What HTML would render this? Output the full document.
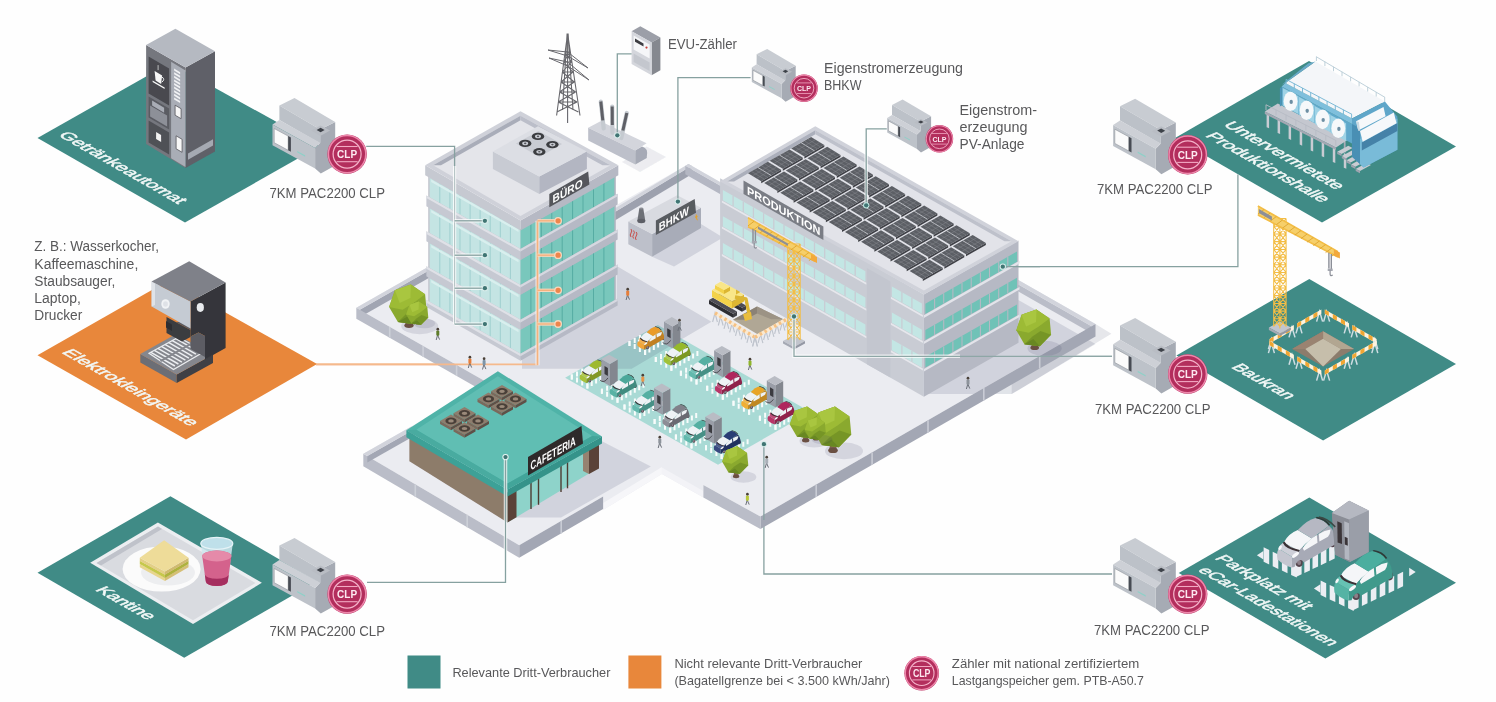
<!DOCTYPE html>
<html lang="de"><head><meta charset="utf-8"><title>Energiemonitoring Dritt-Verbraucher</title>
<style>
html,body{margin:0;padding:0;background:#fefefe;}
body{width:1496px;height:702px;overflow:hidden;}
svg{display:block;font-family:"Liberation Sans",sans-serif;}
</style></head><body>
<svg width="1496" height="702" viewBox="0 0 1496 702">
<defs><filter id="soft" x="-2%" y="-2%" width="104%" height="104%"><feGaussianBlur stdDeviation="0.55"/></filter></defs>
<rect width="1496" height="702" fill="#fefefe"/>
<g filter="url(#soft)">
<polygon points="37.5,138.0 170.0,63.0 320.0,146.0 185.0,222.5" fill="#3f8b86" />
<polygon points="37.5,355.3 168.5,280.5 317.1,364.1 186.0,439.5" fill="#e8873a" />
<polygon points="37.5,572.8 170.4,496.3 317.1,581.2 184.2,657.7" fill="#3f8b86" />
<polygon points="1175.0,138.0 1309.0,61.0 1456.0,146.5 1322.0,222.5" fill="#3f8b86" />
<polygon points="1176.4,355.4 1309.3,279.0 1456.0,364.0 1323.1,440.4" fill="#3f8b86" />
<polygon points="1178.7,573.1 1309.3,497.5 1456.0,582.8 1325.4,658.4" fill="#3f8b86" />
<text transform="matrix(0.868,0.495,-1.021,0.408,57.5,135.3)" font-size="15.5" fill="#f1f7f6" stroke="#f1f7f6" stroke-width="0.55" textLength="139" lengthAdjust="spacingAndGlyphs" >Getränkeautomat</text>
<text transform="matrix(0.868,0.495,-1.021,0.408,61,352.5)" font-size="15.5" fill="#f1f7f6" stroke="#f1f7f6" stroke-width="0.55" textLength="149" lengthAdjust="spacingAndGlyphs" >Elektrokleingeräte</text>
<text transform="matrix(0.868,0.495,-1.021,0.408,94.5,590)" font-size="15.5" fill="#f1f7f6" stroke="#f1f7f6" stroke-width="0.55" textLength="61" lengthAdjust="spacingAndGlyphs" >Kantine</text>
<text transform="matrix(0.868,0.495,-1.021,0.408,1222.5,125)" font-size="15.5" fill="#f1f7f6" stroke="#f1f7f6" stroke-width="0.55" textLength="131" lengthAdjust="spacingAndGlyphs" >Untervermietete</text>
<text transform="matrix(0.868,0.495,-1.021,0.408,1204.5,136)" font-size="15.5" fill="#f1f7f6" stroke="#f1f7f6" stroke-width="0.55" textLength="135" lengthAdjust="spacingAndGlyphs" >Produktionshalle</text>
<text transform="matrix(0.868,0.495,-1.021,0.408,1230.5,367.3)" font-size="15.5" fill="#f1f7f6" stroke="#f1f7f6" stroke-width="0.55" textLength="65" lengthAdjust="spacingAndGlyphs" >Baukran</text>
<text transform="matrix(0.868,0.495,-1.021,0.408,1214,558.5)" font-size="15.5" fill="#f1f7f6" stroke="#f1f7f6" stroke-width="0.55" textLength="104" lengthAdjust="spacingAndGlyphs" >Parkplatz mit</text>
<text transform="matrix(0.868,0.495,-1.021,0.408,1197,570.5)" font-size="15.5" fill="#f1f7f6" stroke="#f1f7f6" stroke-width="0.55" textLength="153" lengthAdjust="spacingAndGlyphs" >eCar-Ladestationen</text>
<polyline points="1002.8,266.7 1237.9,266.7 1237.9,174.6" fill="none" stroke="#86a1a0" stroke-width="1.3" />
<polyline points="763.9,444.2 763.9,574.0 1112.0,574.0" fill="none" stroke="#86a1a0" stroke-width="1.3" />
<polyline points="367.0,582.4 505.5,582.4 505.5,520.0" fill="none" stroke="#86a1a0" stroke-width="1.3" />
<polyline points="1112.0,356.3 1000.0,356.3" fill="none" stroke="#86a1a0" stroke-width="1.3" />
<polyline points="316.0,364.3 537.5,364.3" fill="none" stroke="#f5b98c" stroke-width="1.8" />
<path d="M567.6,33.5 L556.6,115.5 M567.6,33.5 L580,115.5 M567.6,33.5 L567.6,123 M567.1,33.5 L562.5,110 M568.1,33.5 L573,110M565.1,52 L571.5,62 M570.1,52 L563.7,62 M565.1,52 L570.1,52M563.7,62 L572.9,72 M571.5,62 L562.3,72 M563.7,62 L571.5,62M562.3,72 L574.2,82 M572.9,72 L561.0,82 M562.3,72 L572.9,72M561.0,82 L575.6,92 M574.2,82 L559.6,92 M561.0,82 L574.2,82M559.6,92 L577.0,102 M575.6,92 L558.2,102 M559.6,92 L575.6,92M558.2,102 L578.4,112 M577.0,102 L556.8,112 M558.2,102 L577.0,102" stroke="#68686d" stroke-width="1.1" fill="none"/>
<path d="M548,50 L567.6,56 L588,68 M549,58 L567.6,66 L589,80 M548,50 L567.6,52 L588,68 M549,58 L567.6,62 L589,80" stroke="#68686d" stroke-width="1.0" fill="none"/>
<polygon points="1095.5,323.9 1111.4,333.8 1011.7,394.1 1011.7,380.0" fill="#e6e7eb" />
<polygon points="356.3,307.8 500.0,225.9 539.9,248.7 688.5,164.0 800.0,227.6 863.2,191.6 1095.5,323.9 760.4,516.6 703.4,485.0 703.4,497.5 661.9,473.9 603.1,509.9 603.1,496.6 519.2,545.3 363.3,453.8 420.0,421.5 470.0,400.0 490.0,384.0" fill="#ebecf1" />
<polygon points="661.9,473.9 603.1,509.9 603.1,503.0 661.9,467.0" fill="#f6f6f9" />
<polygon points="661.9,473.9 703.4,497.5 703.4,491.0 661.9,467.5" fill="#f3f3f7" />
<polygon points="565.1,377.7 657.8,325.1 810.7,412.1 718.0,464.7" fill="#a9dad5" />
<polygon points="616.7,266.0 711.5,321.8 631.7,368.7 522.0,368.7 522.0,300.0 616.7,300.0" fill="#3c4166" fill-opacity="0.14"/>
<polygon points="1018.4,300.0 1095.5,344.0 1011.7,394.1 924.0,394.1 924.0,330.0" fill="#3c4166" fill-opacity="0.14"/>
<polygon points="701.0,224.0 723.0,237.5 674.0,266.5 652.1,256.8" fill="#3c4166" fill-opacity="0.14"/>
<polygon points="602.0,441.3 650.9,466.4 561.0,517.5 512.0,517.5 512.0,480.0" fill="#3c4166" fill-opacity="0.14"/>
<polygon points="646.6,146.6 666.0,157.0 640.0,172.0 622.0,162.0" fill="#3c4166" fill-opacity="0.09"/>
<polygon points="359.8,309.8 435.8,266.5 435.8,274.0 359.8,317.3" fill="#a1a5b2" />
<polygon points="356.3,307.8 432.3,264.5 435.8,266.5 359.8,309.8" fill="#d2d4dc" />
<polygon points="613.2,213.0 691.7,165.8 691.7,174.3 613.2,221.5" fill="#9da1ae" />
<polygon points="610.0,211.2 688.5,164.0 691.7,165.8 613.2,213.0" fill="#d2d4dc" />
<polygon points="685.3,165.8 720.8,186.0 720.8,194.5 685.3,174.3" fill="#b4b7c3" />
<polygon points="688.5,164.0 724.0,184.2 720.8,186.0 685.3,165.8" fill="#d2d4dc" />
<polygon points="1010.0,279.7 1091.5,326.2 1091.5,333.2 1010.0,286.7" fill="#babdc8" />
<polygon points="1014.0,277.4 1095.5,323.9 1091.5,326.2 1010.0,279.7" fill="#d2d4dc" />
<polygon points="356.3,307.8 490.0,384.0 490.0,395.0 356.3,318.8" fill="#babdc8" />
<line x1="389.7" y1="326.9" x2="389.7" y2="337.9" stroke="#cdd0d8" stroke-width="1.6"/>
<line x1="423.1" y1="345.9" x2="423.1" y2="356.9" stroke="#cdd0d8" stroke-width="1.6"/>
<line x1="456.6" y1="364.9" x2="456.6" y2="375.9" stroke="#cdd0d8" stroke-width="1.6"/>
<polygon points="1095.5,323.9 760.4,516.6 760.4,529.1 1095.5,336.4" fill="#a3a7b4" />
<line x1="1039.7" y1="356.0" x2="1039.7" y2="368.5" stroke="#c9ccd5" stroke-width="1.6"/>
<line x1="983.8" y1="388.1" x2="983.8" y2="400.6" stroke="#c9ccd5" stroke-width="1.6"/>
<line x1="928.0" y1="420.2" x2="928.0" y2="432.8" stroke="#c9ccd5" stroke-width="1.6"/>
<line x1="872.1" y1="452.4" x2="872.1" y2="464.9" stroke="#c9ccd5" stroke-width="1.6"/>
<line x1="816.2" y1="484.5" x2="816.2" y2="497.0" stroke="#c9ccd5" stroke-width="1.6"/>
<polygon points="760.4,516.6 703.4,485.0 703.4,497.5 760.4,529.1" fill="#babdc8" />
<polygon points="603.1,496.6 519.2,545.3 519.2,557.8 603.1,509.1" fill="#a3a7b4" />
<line x1="561.2" y1="521.0" x2="561.2" y2="533.5" stroke="#c9ccd5" stroke-width="1.6"/>
<polygon points="519.2,545.3 363.3,453.8 363.3,466.3 519.2,557.8" fill="#babdc8" />
<line x1="467.2" y1="514.8" x2="467.2" y2="527.3" stroke="#cdd0d8" stroke-width="1.6"/>
<line x1="415.3" y1="484.3" x2="415.3" y2="496.8" stroke="#cdd0d8" stroke-width="1.6"/>
<polygon points="367.3,456.1 415.3,428.7 415.3,435.2 367.3,462.6" fill="#a3a7b4" />
<polygon points="363.3,453.8 411.3,426.4 415.3,428.7 367.3,456.1" fill="#d2d4dc" />
<polygon points="588.2,127.8 600.5,121.3 646.6,143.2 635.3,150.5" fill="#d3d5dc" />
<polygon points="588.2,127.8 635.3,150.5 635.3,164.5 588.2,140.5" fill="#bdc0ca" />
<path d="M635.3,150.5 L642,146.6 Q648.5,148 646.8,156.5 L646.8,158 L635.3,164.5 Z" fill="#a6aab6"/>
<line x1="603.7" y1="128.5" x2="600.8" y2="101.5" stroke="#c5cad0" stroke-width="4.2" stroke-linecap="round"/>
<line x1="602.8" y1="120.4" x2="600.8" y2="101.5" stroke="#5e6066" stroke-width="3.0"/>
<line x1="612.4" y1="132.8" x2="612.2" y2="106.5" stroke="#c5cad0" stroke-width="4.2" stroke-linecap="round"/>
<line x1="612.3" y1="124.9" x2="612.2" y2="106.5" stroke="#5e6066" stroke-width="3.0"/>
<line x1="621.3" y1="138" x2="626.8" y2="113" stroke="#c5cad0" stroke-width="4.2" stroke-linecap="round"/>
<line x1="622.9" y1="130.5" x2="626.8" y2="113" stroke="#5e6066" stroke-width="3.0"/>
<polyline points="316.0,364.3 537.5,364.3" fill="none" stroke="#f5b98c" stroke-width="1.8" />
<path d="M629.5,341.1v5.0M634.7,344.0v5.0M639.9,347.0v5.0M645.1,350.0v5.0" stroke="#f8fcfb" stroke-width="2.0" fill="none"/>
<path d="M645.1,350.0v5.0M649.4,347.5v5.0M653.8,345.0v5.0M658.1,342.5v5.0M662.4,340.1v5.0M666.8,337.6v5.0M671.1,335.1v5.0" stroke="#f8fcfb" stroke-width="2.0" fill="none"/>
<path d="M629.5,341.1v5.0M634.7,338.1v5.0M639.9,335.1v5.0" stroke="#f8fcfb" stroke-width="2.0" fill="none"/>
<path d="M655.8,356.9v5.0M661.0,359.8v5.0M666.2,362.8v5.0M671.4,365.8v5.0" stroke="#f8fcfb" stroke-width="2.0" fill="none"/>
<path d="M671.4,365.8v5.0M675.7,363.3v5.0M680.1,360.8v5.0M684.4,358.3v5.0M688.7,355.9v5.0M693.1,353.4v5.0M697.4,350.9v5.0" stroke="#f8fcfb" stroke-width="2.0" fill="none"/>
<path d="M655.8,356.9v5.0M661.0,353.9v5.0M666.2,350.9v5.0" stroke="#f8fcfb" stroke-width="2.0" fill="none"/>
<path d="M680.9,370.7v5.0M686.1,373.6v5.0M691.3,376.6v5.0M696.5,379.6v5.0" stroke="#f8fcfb" stroke-width="2.0" fill="none"/>
<path d="M696.5,379.6v5.0M700.8,377.1v5.0M705.2,374.6v5.0M709.5,372.1v5.0M713.8,369.7v5.0M718.2,367.2v5.0M722.5,364.7v5.0" stroke="#f8fcfb" stroke-width="2.0" fill="none"/>
<path d="M680.9,370.7v5.0M686.1,367.7v5.0M691.3,364.7v5.0" stroke="#f8fcfb" stroke-width="2.0" fill="none"/>
<path d="M707.2,385.8v5.0M712.4,388.7v5.0M717.6,391.7v5.0M722.8,394.7v5.0" stroke="#f8fcfb" stroke-width="2.0" fill="none"/>
<path d="M722.8,394.7v5.0M727.1,392.2v5.0M731.5,389.7v5.0M735.8,387.2v5.0M740.1,384.8v5.0M744.5,382.3v5.0M748.8,379.8v5.0" stroke="#f8fcfb" stroke-width="2.0" fill="none"/>
<path d="M707.2,385.8v5.0M712.4,382.8v5.0M717.6,379.8v5.0" stroke="#f8fcfb" stroke-width="2.0" fill="none"/>
<path d="M733.5,400.8v5.0M738.7,403.7v5.0M743.9,406.7v5.0M749.1,409.7v5.0" stroke="#f8fcfb" stroke-width="2.0" fill="none"/>
<path d="M749.1,409.7v5.0M753.4,407.2v5.0M757.8,404.7v5.0M762.1,402.2v5.0M766.4,399.8v5.0M770.8,397.3v5.0M775.1,394.8v5.0" stroke="#f8fcfb" stroke-width="2.0" fill="none"/>
<path d="M733.5,400.8v5.0M738.7,397.8v5.0M743.9,394.8v5.0" stroke="#f8fcfb" stroke-width="2.0" fill="none"/>
<path d="M759.9,415.8v5.0M765.1,418.7v5.0M770.3,421.7v5.0M775.5,424.7v5.0" stroke="#f8fcfb" stroke-width="2.0" fill="none"/>
<path d="M775.5,424.7v5.0M779.8,422.2v5.0M784.2,419.7v5.0M788.5,417.2v5.0M792.8,414.8v5.0M797.2,412.3v5.0M801.5,409.8v5.0" stroke="#f8fcfb" stroke-width="2.0" fill="none"/>
<path d="M759.9,415.8v5.0M765.1,412.8v5.0M770.3,409.8v5.0" stroke="#f8fcfb" stroke-width="2.0" fill="none"/>
<path d="M571.8,374.5v5.0M577.0,377.4v5.0M582.2,380.4v5.0M587.4,383.4v5.0" stroke="#f8fcfb" stroke-width="2.0" fill="none"/>
<path d="M587.4,383.4v5.0M591.7,380.9v5.0M596.1,378.4v5.0M600.4,375.9v5.0M604.7,373.5v5.0M609.1,371.0v5.0M613.4,368.5v5.0" stroke="#f8fcfb" stroke-width="2.0" fill="none"/>
<path d="M571.8,374.5v5.0M577.0,371.5v5.0M582.2,368.5v5.0" stroke="#f8fcfb" stroke-width="2.0" fill="none"/>
<path d="M601.9,388.8v5.0M607.1,391.7v5.0M612.3,394.7v5.0M617.5,397.7v5.0" stroke="#f8fcfb" stroke-width="2.0" fill="none"/>
<path d="M617.5,397.7v5.0M621.8,395.2v5.0M626.2,392.7v5.0M630.5,390.2v5.0M634.8,387.8v5.0M639.2,385.3v5.0M643.5,382.8v5.0" stroke="#f8fcfb" stroke-width="2.0" fill="none"/>
<path d="M601.9,388.8v5.0M607.1,385.8v5.0M612.3,382.8v5.0" stroke="#f8fcfb" stroke-width="2.0" fill="none"/>
<path d="M624.5,404.6v5.0M629.7,407.5v5.0M634.9,410.5v5.0M640.1,413.5v5.0" stroke="#f8fcfb" stroke-width="2.0" fill="none"/>
<path d="M640.1,413.5v5.0M644.4,411.0v5.0M648.8,408.5v5.0M653.1,406.0v5.0M657.4,403.6v5.0M661.8,401.1v5.0M666.1,398.6v5.0" stroke="#f8fcfb" stroke-width="2.0" fill="none"/>
<path d="M624.5,404.6v5.0M629.7,401.6v5.0M634.9,398.6v5.0" stroke="#f8fcfb" stroke-width="2.0" fill="none"/>
<path d="M654.6,418.9v5.0M659.8,421.8v5.0M665.0,424.8v5.0M670.2,427.8v5.0" stroke="#f8fcfb" stroke-width="2.0" fill="none"/>
<path d="M670.2,427.8v5.0M674.5,425.3v5.0M678.9,422.8v5.0M683.2,420.3v5.0M687.5,417.9v5.0M691.9,415.4v5.0M696.2,412.9v5.0" stroke="#f8fcfb" stroke-width="2.0" fill="none"/>
<path d="M654.6,418.9v5.0M659.8,415.9v5.0M665.0,412.9v5.0" stroke="#f8fcfb" stroke-width="2.0" fill="none"/>
<path d="M675.9,434.6v5.0M681.1,437.5v5.0M686.3,440.5v5.0M691.5,443.5v5.0" stroke="#f8fcfb" stroke-width="2.0" fill="none"/>
<path d="M691.5,443.5v5.0M695.8,441.0v5.0M700.2,438.5v5.0M704.5,436.0v5.0M708.8,433.6v5.0M713.2,431.1v5.0M717.5,428.6v5.0" stroke="#f8fcfb" stroke-width="2.0" fill="none"/>
<path d="M675.9,434.6v5.0M681.1,431.6v5.0M686.3,428.6v5.0" stroke="#f8fcfb" stroke-width="2.0" fill="none"/>
<path d="M706.0,445.2v5.0M711.2,448.1v5.0M716.4,451.1v5.0M721.6,454.1v5.0" stroke="#f8fcfb" stroke-width="2.0" fill="none"/>
<path d="M721.6,454.1v5.0M725.9,451.6v5.0M730.3,449.1v5.0M734.6,446.6v5.0M738.9,444.2v5.0M743.3,441.7v5.0M747.6,439.2v5.0" stroke="#f8fcfb" stroke-width="2.0" fill="none"/>
<path d="M706.0,445.2v5.0M711.2,442.2v5.0M716.4,439.2v5.0" stroke="#f8fcfb" stroke-width="2.0" fill="none"/>
<ellipse cx="647.4" cy="347.2" rx="1.6560000000000001" ry="2.0240000000000005" fill="#54444d" />
<ellipse cx="647.4" cy="347.2" rx="0.92" ry="1.1960000000000002" fill="#8d7f88" />
<ellipse cx="662.7" cy="338.2" rx="1.6560000000000001" ry="2.0240000000000005" fill="#54444d" />
<ellipse cx="662.7" cy="338.2" rx="0.92" ry="1.1960000000000002" fill="#8d7f88" />
<path d="M643.8,349.5 L644.2,344.7 L647.4,341.9 L653.4,336.4 L661.1,330.3 Q664.0,332.4 664.3,338.8 L649.7,347.2 Q647.4,344.2 645.3,349.3 Z" fill="#c18023" />
<path d="M637.5,345.7 Q636.9,342.5 638.1,340.9 L644.2,344.7 L643.8,349.5 Q639.9,348.2 637.5,345.7 Z" fill="#f2a538" />
<path d="M638.1,340.9 Q638.7,338.8 640.3,338.0 L647.4,341.9 L644.2,344.7 Z" fill="#f4af4d" />
<ellipse cx="645.8" cy="343.7" rx="1.9320000000000002" ry="0.782" fill="#f7f8fa" transform="rotate(-38 645.8 343.7)"/>
<ellipse cx="638.7" cy="340.4" rx="1.1960000000000002" ry="0.644" fill="#f7f8fa" transform="rotate(-60 638.7 340.4)"/>
<path d="M640.3,338.0 Q642.5,333.9 646.8,332.3 L653.3,336.2 Q649.7,338.8 647.4,341.9 Z" fill="#eef2f5" />
<path d="M639.9,338.2 Q641.0,341.0 647.3,342.2 L647.7,341.5 Q642.3,340.4 640.6,337.6 Z" fill="#3b3035" />
<path d="M646.8,332.3 Q651.2,327.5 654.9,326.7 Q659.1,327.5 661.1,330.3 L653.3,336.2 Z" fill="#ea9b2a" />
<path d="M654.9,326.7 Q659.1,327.5 661.1,330.3 L661.7,329.9 Q659.6,326.7 655.5,326.2 Z" fill="#2f3a38" />
<path d="M649.1,340.7 Q650.8,337.3 655.5,334.6 L655.8,338.2 L649.7,341.8 Z" fill="#eef2f5" />
<path d="M656.5,334.1 Q659.1,332.4 661.9,332.0 Q661.7,334.3 660.7,335.4 L656.8,337.6 Z" fill="#eef2f5" />
<path d="M648.0,341.0 L649.1,340.1 L649.4,341.8 L648.3,342.4 Z" fill="#c18023" />
<polygon points="672.6,348.4 664.0,343.5 664.0,321.5 672.6,326.4" fill="#9a9ea8" />
<polygon points="672.6,348.4 680.4,344.0 680.4,322.0 672.6,326.4" fill="#83878f" />
<polygon points="672.6,326.4 680.4,322.0 671.8,317.1 664.0,321.5" fill="#b9bcc4" />
<polygon points="670.6,338.3 667.2,336.3 667.2,328.3 670.6,330.3" fill="#3a3b40" />
<path d="M670.6,340.4 q-4.0,6.0 -8.0,2.0" stroke="#3a3b40" stroke-width="0.8" fill="none"/>
<ellipse cx="673.7" cy="363.0" rx="1.6560000000000001" ry="2.0240000000000005" fill="#54444d" />
<ellipse cx="673.7" cy="363.0" rx="0.92" ry="1.1960000000000002" fill="#8d7f88" />
<ellipse cx="689.0" cy="354.0" rx="1.6560000000000001" ry="2.0240000000000005" fill="#54444d" />
<ellipse cx="689.0" cy="354.0" rx="0.92" ry="1.1960000000000002" fill="#8d7f88" />
<path d="M670.1,365.3 L670.5,360.5 L673.7,357.7 L679.7,352.2 L687.4,346.1 Q690.3,348.2 690.6,354.6 L676.0,363.0 Q673.7,360.0 671.6,365.1 Z" fill="#7c9824" />
<path d="M663.8,361.5 Q663.2,358.3 664.4,356.7 L670.5,360.5 L670.1,365.3 Q666.2,364.0 663.8,361.5 Z" fill="#a1c239" />
<path d="M664.4,356.7 Q665.0,354.6 666.6,353.8 L673.7,357.7 L670.5,360.5 Z" fill="#abc94e" />
<ellipse cx="672.1" cy="359.5" rx="1.9320000000000002" ry="0.782" fill="#f7f8fa" transform="rotate(-38 672.1 359.5)"/>
<ellipse cx="665.0" cy="356.2" rx="1.1960000000000002" ry="0.644" fill="#f7f8fa" transform="rotate(-60 665.0 356.2)"/>
<path d="M666.6,353.8 Q668.8,349.7 673.1,348.1 L679.6,352.0 Q676.0,354.6 673.7,357.7 Z" fill="#eef2f5" />
<path d="M666.2,354.0 Q667.3,356.8 673.6,358.0 L674.0,357.3 Q668.6,356.2 666.9,353.4 Z" fill="#3b3035" />
<path d="M673.1,348.1 Q677.5,343.3 681.2,342.5 Q685.4,343.3 687.4,346.1 L679.6,352.0 Z" fill="#96b92b" />
<path d="M681.2,342.5 Q685.4,343.3 687.4,346.1 L688.0,345.7 Q685.9,342.5 681.8,342.0 Z" fill="#2f3a38" />
<path d="M675.4,356.5 Q677.1,353.1 681.8,350.4 L682.1,354.0 L676.0,357.6 Z" fill="#eef2f5" />
<path d="M682.8,349.9 Q685.4,348.2 688.2,347.8 Q688.0,350.1 687.0,351.2 L683.1,353.4 Z" fill="#eef2f5" />
<path d="M674.3,356.8 L675.4,355.9 L675.7,357.6 L674.6,358.2 Z" fill="#7c9824" />
<ellipse cx="698.8" cy="376.8" rx="1.6560000000000001" ry="2.0240000000000005" fill="#54444d" />
<ellipse cx="698.8" cy="376.8" rx="0.92" ry="1.1960000000000002" fill="#8d7f88" />
<ellipse cx="714.1" cy="367.8" rx="1.6560000000000001" ry="2.0240000000000005" fill="#54444d" />
<ellipse cx="714.1" cy="367.8" rx="0.92" ry="1.1960000000000002" fill="#8d7f88" />
<path d="M695.2,379.1 L695.6,374.3 L698.8,371.5 L704.8,366.0 L712.5,359.9 Q715.4,362.0 715.7,368.4 L701.1,376.8 Q698.8,373.8 696.7,378.9 Z" fill="#469086" />
<path d="M688.9,375.3 Q688.3,372.1 689.5,370.5 L695.6,374.3 L695.2,379.1 Q691.3,377.8 688.9,375.3 Z" fill="#62b9ad" />
<path d="M689.5,370.5 Q690.1,368.4 691.7,367.6 L698.8,371.5 L695.6,374.3 Z" fill="#72c0b5" />
<ellipse cx="697.2" cy="373.3" rx="1.9320000000000002" ry="0.782" fill="#f7f8fa" transform="rotate(-38 697.2 373.3)"/>
<ellipse cx="690.1" cy="370.0" rx="1.1960000000000002" ry="0.644" fill="#f7f8fa" transform="rotate(-60 690.1 370.0)"/>
<path d="M691.7,367.6 Q693.9,363.5 698.2,361.9 L704.7,365.8 Q701.1,368.4 698.8,371.5 Z" fill="#eef2f5" />
<path d="M691.3,367.8 Q692.4,370.6 698.7,371.8 L699.1,371.1 Q693.7,370.0 692.0,367.2 Z" fill="#3b3035" />
<path d="M698.2,361.9 Q702.6,357.1 706.3,356.3 Q710.5,357.1 712.5,359.9 L704.7,365.8 Z" fill="#55afa2" />
<path d="M706.3,356.3 Q710.5,357.1 712.5,359.9 L713.1,359.5 Q711.0,356.3 706.9,355.8 Z" fill="#2f3a38" />
<path d="M700.5,370.3 Q702.2,366.9 706.9,364.2 L707.2,367.8 L701.1,371.4 Z" fill="#eef2f5" />
<path d="M707.9,363.7 Q710.5,362.0 713.3,361.6 Q713.1,363.9 712.1,365.0 L708.2,367.2 Z" fill="#eef2f5" />
<path d="M699.4,370.6 L700.5,369.7 L700.8,371.4 L699.7,372.0 Z" fill="#469086" />
<polygon points="722.7,377.2 714.1,372.3 714.1,350.3 722.7,355.2" fill="#9a9ea8" />
<polygon points="722.7,377.2 730.5,372.8 730.5,350.8 722.7,355.2" fill="#83878f" />
<polygon points="722.7,355.2 730.5,350.8 721.9,345.9 714.1,350.3" fill="#b9bcc4" />
<polygon points="720.7,367.1 717.3,365.1 717.3,357.1 720.7,359.1" fill="#3a3b40" />
<path d="M720.7,369.2 q-4.0,6.0 -8.0,2.0" stroke="#3a3b40" stroke-width="0.8" fill="none"/>
<ellipse cx="589.7" cy="380.6" rx="1.6560000000000001" ry="2.0240000000000005" fill="#54444d" />
<ellipse cx="589.7" cy="380.6" rx="0.92" ry="1.1960000000000002" fill="#8d7f88" />
<ellipse cx="605.0" cy="371.6" rx="1.6560000000000001" ry="2.0240000000000005" fill="#54444d" />
<ellipse cx="605.0" cy="371.6" rx="0.92" ry="1.1960000000000002" fill="#8d7f88" />
<path d="M586.1,382.9 L586.5,378.1 L589.7,375.3 L595.7,369.8 L603.4,363.7 Q606.3,365.8 606.6,372.2 L592.0,380.6 Q589.7,377.6 587.6,382.7 Z" fill="#829825" />
<path d="M579.8,379.1 Q579.2,375.9 580.4,374.3 L586.5,378.1 L586.1,382.9 Q582.2,381.6 579.8,379.1 Z" fill="#a8c23b" />
<path d="M580.4,374.3 Q581.0,372.2 582.6,371.4 L589.7,375.3 L586.5,378.1 Z" fill="#b1c950" />
<ellipse cx="588.1" cy="377.1" rx="1.9320000000000002" ry="0.782" fill="#f7f8fa" transform="rotate(-38 588.1 377.1)"/>
<ellipse cx="581.0" cy="373.8" rx="1.1960000000000002" ry="0.644" fill="#f7f8fa" transform="rotate(-60 581.0 373.8)"/>
<path d="M582.6,371.4 Q584.8,367.3 589.1,365.7 L595.6,369.6 Q592.0,372.2 589.7,375.3 Z" fill="#eef2f5" />
<path d="M582.2,371.6 Q583.3,374.4 589.6,375.6 L590.0,374.9 Q584.6,373.8 582.9,371.0 Z" fill="#3b3035" />
<path d="M589.1,365.7 Q593.5,360.9 597.2,360.1 Q601.4,360.9 603.4,363.7 L595.6,369.6 Z" fill="#9eb92d" />
<path d="M597.2,360.1 Q601.4,360.9 603.4,363.7 L604.0,363.3 Q601.9,360.1 597.8,359.6 Z" fill="#2f3a38" />
<path d="M591.4,374.1 Q593.1,370.7 597.8,368.0 L598.1,371.6 L592.0,375.2 Z" fill="#eef2f5" />
<path d="M598.8,367.5 Q601.4,365.8 604.2,365.4 Q604.0,367.7 603.0,368.8 L599.1,371.0 Z" fill="#eef2f5" />
<path d="M590.3,374.4 L591.4,373.5 L591.7,375.2 L590.6,375.8 Z" fill="#829825" />
<polygon points="609.9,386.0 601.3,381.1 601.3,359.1 609.9,364.0" fill="#9a9ea8" />
<polygon points="609.9,386.0 617.7,381.6 617.7,359.6 609.9,364.0" fill="#83878f" />
<polygon points="609.9,364.0 617.7,359.6 609.1,354.7 601.3,359.1" fill="#b9bcc4" />
<polygon points="607.9,375.9 604.5,373.9 604.5,365.9 607.9,367.9" fill="#3a3b40" />
<path d="M607.9,378.0 q-4.0,6.0 -8.0,2.0" stroke="#3a3b40" stroke-width="0.8" fill="none"/>
<ellipse cx="725.1" cy="391.9" rx="1.6560000000000001" ry="2.0240000000000005" fill="#54444d" />
<ellipse cx="725.1" cy="391.9" rx="0.92" ry="1.1960000000000002" fill="#8d7f88" />
<ellipse cx="740.4" cy="382.9" rx="1.6560000000000001" ry="2.0240000000000005" fill="#54444d" />
<ellipse cx="740.4" cy="382.9" rx="0.92" ry="1.1960000000000002" fill="#8d7f88" />
<path d="M721.5,394.2 L721.9,389.4 L725.1,386.6 L731.1,381.1 L738.8,375.0 Q741.7,377.1 742.0,383.5 L727.4,391.9 Q725.1,388.9 723.0,394.0 Z" fill="#90214c" />
<path d="M715.2,390.4 Q714.6,387.2 715.8,385.6 L721.9,389.4 L721.5,394.2 Q717.6,392.9 715.2,390.4 Z" fill="#b93669" />
<path d="M715.8,385.6 Q716.4,383.5 718.0,382.7 L725.1,386.6 L721.9,389.4 Z" fill="#c04c79" />
<ellipse cx="723.5" cy="388.4" rx="1.9320000000000002" ry="0.782" fill="#f7f8fa" transform="rotate(-38 723.5 388.4)"/>
<ellipse cx="716.4" cy="385.1" rx="1.1960000000000002" ry="0.644" fill="#f7f8fa" transform="rotate(-60 716.4 385.1)"/>
<path d="M718.0,382.7 Q720.2,378.6 724.5,377.0 L731.0,380.9 Q727.4,383.5 725.1,386.6 Z" fill="#eef2f5" />
<path d="M717.6,382.9 Q718.7,385.7 725.0,386.9 L725.4,386.2 Q720.0,385.1 718.3,382.3 Z" fill="#3b3035" />
<path d="M724.5,377.0 Q728.9,372.2 732.6,371.4 Q736.8,372.2 738.8,375.0 L731.0,380.9 Z" fill="#af285d" />
<path d="M732.6,371.4 Q736.8,372.2 738.8,375.0 L739.4,374.6 Q737.3,371.4 733.2,370.9 Z" fill="#2f3a38" />
<path d="M726.8,385.4 Q728.5,382.0 733.2,379.3 L733.5,382.9 L727.4,386.5 Z" fill="#eef2f5" />
<path d="M734.2,378.8 Q736.8,377.1 739.6,376.7 Q739.4,379.0 738.4,380.1 L734.5,382.3 Z" fill="#eef2f5" />
<path d="M725.7,385.7 L726.8,384.8 L727.1,386.5 L726.0,387.1 Z" fill="#90214c" />
<ellipse cx="619.8" cy="394.9" rx="1.6560000000000001" ry="2.0240000000000005" fill="#54444d" />
<ellipse cx="619.8" cy="394.9" rx="0.92" ry="1.1960000000000002" fill="#8d7f88" />
<ellipse cx="635.1" cy="385.9" rx="1.6560000000000001" ry="2.0240000000000005" fill="#54444d" />
<ellipse cx="635.1" cy="385.9" rx="0.92" ry="1.1960000000000002" fill="#8d7f88" />
<path d="M616.2,397.2 L616.6,392.4 L619.8,389.6 L625.8,384.1 L633.5,378.0 Q636.4,380.1 636.7,386.5 L622.1,394.9 Q619.8,391.9 617.7,397.0 Z" fill="#3f8b7f" />
<path d="M609.9,393.4 Q609.3,390.2 610.5,388.6 L616.6,392.4 L616.2,397.2 Q612.3,395.9 609.9,393.4 Z" fill="#59b2a4" />
<path d="M610.5,388.6 Q611.1,386.5 612.7,385.7 L619.8,389.6 L616.6,392.4 Z" fill="#6bbaae" />
<ellipse cx="618.2" cy="391.4" rx="1.9320000000000002" ry="0.782" fill="#f7f8fa" transform="rotate(-38 618.2 391.4)"/>
<ellipse cx="611.1" cy="388.1" rx="1.1960000000000002" ry="0.644" fill="#f7f8fa" transform="rotate(-60 611.1 388.1)"/>
<path d="M612.7,385.7 Q614.9,381.6 619.2,380.0 L625.7,383.9 Q622.1,386.5 619.8,389.6 Z" fill="#eef2f5" />
<path d="M612.3,385.9 Q613.4,388.7 619.7,389.9 L620.1,389.2 Q614.7,388.1 613.0,385.3 Z" fill="#3b3035" />
<path d="M619.2,380.0 Q623.6,375.2 627.3,374.4 Q631.5,375.2 633.5,378.0 L625.7,383.9 Z" fill="#4ca89a" />
<path d="M627.3,374.4 Q631.5,375.2 633.5,378.0 L634.1,377.6 Q632.0,374.4 627.9,373.9 Z" fill="#2f3a38" />
<path d="M621.5,388.4 Q623.2,385.0 627.9,382.3 L628.2,385.9 L622.1,389.5 Z" fill="#eef2f5" />
<path d="M628.9,381.8 Q631.5,380.1 634.3,379.7 Q634.1,382.0 633.1,383.1 L629.2,385.3 Z" fill="#eef2f5" />
<path d="M620.4,388.7 L621.5,387.8 L621.8,389.5 L620.7,390.1 Z" fill="#3f8b7f" />
<ellipse cx="751.4" cy="406.9" rx="1.6560000000000001" ry="2.0240000000000005" fill="#54444d" />
<ellipse cx="751.4" cy="406.9" rx="0.92" ry="1.1960000000000002" fill="#8d7f88" />
<ellipse cx="766.7" cy="397.9" rx="1.6560000000000001" ry="2.0240000000000005" fill="#54444d" />
<ellipse cx="766.7" cy="397.9" rx="0.92" ry="1.1960000000000002" fill="#8d7f88" />
<path d="M747.8,409.2 L748.2,404.4 L751.4,401.6 L757.4,396.1 L765.1,390.0 Q768.0,392.1 768.3,398.5 L753.7,406.9 Q751.4,403.9 749.3,409.0 Z" fill="#c08821" />
<path d="M741.5,405.4 Q740.9,402.2 742.1,400.6 L748.2,404.4 L747.8,409.2 Q743.9,407.9 741.5,405.4 Z" fill="#f0af36" />
<path d="M742.1,400.6 Q742.7,398.5 744.3,397.7 L751.4,401.6 L748.2,404.4 Z" fill="#f2b74c" />
<ellipse cx="749.8" cy="403.4" rx="1.9320000000000002" ry="0.782" fill="#f7f8fa" transform="rotate(-38 749.8 403.4)"/>
<ellipse cx="742.7" cy="400.1" rx="1.1960000000000002" ry="0.644" fill="#f7f8fa" transform="rotate(-60 742.7 400.1)"/>
<path d="M744.3,397.7 Q746.5,393.6 750.8,392.0 L757.3,395.9 Q753.7,398.5 751.4,401.6 Z" fill="#eef2f5" />
<path d="M743.9,397.9 Q745.0,400.7 751.3,401.9 L751.7,401.2 Q746.3,400.1 744.6,397.3 Z" fill="#3b3035" />
<path d="M750.8,392.0 Q755.2,387.2 758.9,386.4 Q763.1,387.2 765.1,390.0 L757.3,395.9 Z" fill="#e8a428" />
<path d="M758.9,386.4 Q763.1,387.2 765.1,390.0 L765.7,389.6 Q763.6,386.4 759.5,385.9 Z" fill="#2f3a38" />
<path d="M753.1,400.4 Q754.8,397.0 759.5,394.3 L759.8,397.9 L753.7,401.5 Z" fill="#eef2f5" />
<path d="M760.5,393.8 Q763.1,392.1 765.9,391.7 Q765.7,394.0 764.7,395.1 L760.8,397.3 Z" fill="#eef2f5" />
<path d="M752.0,400.7 L753.1,399.8 L753.4,401.5 L752.3,402.1 Z" fill="#c08821" />
<polygon points="775.4,407.3 766.8,402.4 766.8,380.4 775.4,385.3" fill="#9a9ea8" />
<polygon points="775.4,407.3 783.2,402.9 783.2,380.9 775.4,385.3" fill="#83878f" />
<polygon points="775.4,385.3 783.2,380.9 774.6,376.0 766.8,380.4" fill="#b9bcc4" />
<polygon points="773.4,397.2 770.0,395.2 770.0,387.2 773.4,389.2" fill="#3a3b40" />
<path d="M773.4,399.3 q-4.0,6.0 -8.0,2.0" stroke="#3a3b40" stroke-width="0.8" fill="none"/>
<ellipse cx="642.4" cy="410.7" rx="1.6560000000000001" ry="2.0240000000000005" fill="#54444d" />
<ellipse cx="642.4" cy="410.7" rx="0.92" ry="1.1960000000000002" fill="#8d7f88" />
<ellipse cx="657.7" cy="401.7" rx="1.6560000000000001" ry="2.0240000000000005" fill="#54444d" />
<ellipse cx="657.7" cy="401.7" rx="0.92" ry="1.1960000000000002" fill="#8d7f88" />
<path d="M638.8,413.0 L639.2,408.2 L642.4,405.4 L648.4,399.9 L656.1,393.8 Q659.0,395.9 659.3,402.3 L644.7,410.7 Q642.4,407.7 640.3,412.8 Z" fill="#469086" />
<path d="M632.5,409.2 Q631.9,406.0 633.1,404.4 L639.2,408.2 L638.8,413.0 Q634.9,411.7 632.5,409.2 Z" fill="#62b9ad" />
<path d="M633.1,404.4 Q633.7,402.3 635.3,401.5 L642.4,405.4 L639.2,408.2 Z" fill="#72c0b5" />
<ellipse cx="640.8" cy="407.2" rx="1.9320000000000002" ry="0.782" fill="#f7f8fa" transform="rotate(-38 640.8 407.2)"/>
<ellipse cx="633.7" cy="403.9" rx="1.1960000000000002" ry="0.644" fill="#f7f8fa" transform="rotate(-60 633.7 403.9)"/>
<path d="M635.3,401.5 Q637.5,397.4 641.8,395.8 L648.3,399.7 Q644.7,402.3 642.4,405.4 Z" fill="#eef2f5" />
<path d="M634.9,401.7 Q636.0,404.5 642.3,405.7 L642.7,405.0 Q637.3,403.9 635.6,401.1 Z" fill="#3b3035" />
<path d="M641.8,395.8 Q646.2,391.0 649.9,390.2 Q654.1,391.0 656.1,393.8 L648.3,399.7 Z" fill="#55afa2" />
<path d="M649.9,390.2 Q654.1,391.0 656.1,393.8 L656.7,393.4 Q654.6,390.2 650.5,389.7 Z" fill="#2f3a38" />
<path d="M644.1,404.2 Q645.8,400.8 650.5,398.1 L650.8,401.7 L644.7,405.3 Z" fill="#eef2f5" />
<path d="M651.5,397.6 Q654.1,395.9 656.9,395.5 Q656.7,397.8 655.7,398.9 L651.8,401.1 Z" fill="#eef2f5" />
<path d="M643.0,404.5 L644.1,403.6 L644.4,405.3 L643.3,405.9 Z" fill="#469086" />
<polygon points="662.6,414.8 654.0,409.9 654.0,387.9 662.6,392.8" fill="#9a9ea8" />
<polygon points="662.6,414.8 670.4,410.4 670.4,388.4 662.6,392.8" fill="#83878f" />
<polygon points="662.6,392.8 670.4,388.4 661.8,383.5 654.0,387.9" fill="#b9bcc4" />
<polygon points="660.6,404.7 657.2,402.7 657.2,394.7 660.6,396.7" fill="#3a3b40" />
<path d="M660.6,406.8 q-4.0,6.0 -8.0,2.0" stroke="#3a3b40" stroke-width="0.8" fill="none"/>
<ellipse cx="777.8" cy="421.9" rx="1.6560000000000001" ry="2.0240000000000005" fill="#54444d" />
<ellipse cx="777.8" cy="421.9" rx="0.92" ry="1.1960000000000002" fill="#8d7f88" />
<ellipse cx="793.1" cy="412.9" rx="1.6560000000000001" ry="2.0240000000000005" fill="#54444d" />
<ellipse cx="793.1" cy="412.9" rx="0.92" ry="1.1960000000000002" fill="#8d7f88" />
<path d="M774.2,424.2 L774.6,419.4 L777.8,416.6 L783.8,411.1 L791.5,405.0 Q794.4,407.1 794.7,413.5 L780.1,421.9 Q777.8,418.9 775.7,424.0 Z" fill="#90214c" />
<path d="M767.9,420.4 Q767.3,417.2 768.5,415.6 L774.6,419.4 L774.2,424.2 Q770.3,422.9 767.9,420.4 Z" fill="#b93669" />
<path d="M768.5,415.6 Q769.1,413.5 770.7,412.7 L777.8,416.6 L774.6,419.4 Z" fill="#c04c79" />
<ellipse cx="776.2" cy="418.4" rx="1.9320000000000002" ry="0.782" fill="#f7f8fa" transform="rotate(-38 776.2 418.4)"/>
<ellipse cx="769.1" cy="415.1" rx="1.1960000000000002" ry="0.644" fill="#f7f8fa" transform="rotate(-60 769.1 415.1)"/>
<path d="M770.7,412.7 Q772.9,408.6 777.2,407.0 L783.7,410.9 Q780.1,413.5 777.8,416.6 Z" fill="#eef2f5" />
<path d="M770.3,412.9 Q771.4,415.7 777.7,416.9 L778.1,416.2 Q772.7,415.1 771.0,412.3 Z" fill="#3b3035" />
<path d="M777.2,407.0 Q781.6,402.2 785.3,401.4 Q789.5,402.2 791.5,405.0 L783.7,410.9 Z" fill="#af285d" />
<path d="M785.3,401.4 Q789.5,402.2 791.5,405.0 L792.1,404.6 Q790.0,401.4 785.9,400.9 Z" fill="#2f3a38" />
<path d="M779.5,415.4 Q781.2,412.0 785.9,409.3 L786.2,412.9 L780.1,416.5 Z" fill="#eef2f5" />
<path d="M786.9,408.8 Q789.5,407.1 792.3,406.7 Q792.1,409.0 791.1,410.1 L787.2,412.3 Z" fill="#eef2f5" />
<path d="M778.4,415.7 L779.5,414.8 L779.8,416.5 L778.7,417.1 Z" fill="#90214c" />
<ellipse cx="672.5" cy="425.0" rx="1.6560000000000001" ry="2.0240000000000005" fill="#54444d" />
<ellipse cx="672.5" cy="425.0" rx="0.92" ry="1.1960000000000002" fill="#8d7f88" />
<ellipse cx="687.8" cy="416.0" rx="1.6560000000000001" ry="2.0240000000000005" fill="#54444d" />
<ellipse cx="687.8" cy="416.0" rx="0.92" ry="1.1960000000000002" fill="#8d7f88" />
<path d="M668.9,427.3 L669.3,422.5 L672.5,419.7 L678.5,414.2 L686.2,408.1 Q689.1,410.2 689.4,416.6 L674.8,425.0 Q672.5,422.0 670.4,427.1 Z" fill="#6b6b72" />
<path d="M662.6,423.5 Q662.0,420.3 663.2,418.7 L669.3,422.5 L668.9,427.3 Q665.0,426.0 662.6,423.5 Z" fill="#8d8d95" />
<path d="M663.2,418.7 Q663.8,416.6 665.4,415.8 L672.5,419.7 L669.3,422.5 Z" fill="#9999a0" />
<ellipse cx="670.9" cy="421.5" rx="1.9320000000000002" ry="0.782" fill="#f7f8fa" transform="rotate(-38 670.9 421.5)"/>
<ellipse cx="663.8" cy="418.2" rx="1.1960000000000002" ry="0.644" fill="#f7f8fa" transform="rotate(-60 663.8 418.2)"/>
<path d="M665.4,415.8 Q667.6,411.7 671.9,410.1 L678.4,414.0 Q674.8,416.6 672.5,419.7 Z" fill="#eef2f5" />
<path d="M665.0,416.0 Q666.1,418.8 672.4,420.0 L672.8,419.3 Q667.4,418.2 665.7,415.4 Z" fill="#3b3035" />
<path d="M671.9,410.1 Q676.3,405.3 680.0,404.5 Q684.2,405.3 686.2,408.1 L678.4,414.0 Z" fill="#81818a" />
<path d="M680.0,404.5 Q684.2,405.3 686.2,408.1 L686.8,407.7 Q684.7,404.5 680.6,404.0 Z" fill="#2f3a38" />
<path d="M674.2,418.5 Q675.9,415.1 680.6,412.4 L680.9,416.0 L674.8,419.6 Z" fill="#eef2f5" />
<path d="M681.6,411.9 Q684.2,410.2 687.0,409.8 Q686.8,412.1 685.8,413.2 L681.9,415.4 Z" fill="#eef2f5" />
<path d="M673.1,418.8 L674.2,417.9 L674.5,419.6 L673.4,420.2 Z" fill="#6b6b72" />
<ellipse cx="693.8" cy="440.7" rx="1.6560000000000001" ry="2.0240000000000005" fill="#54444d" />
<ellipse cx="693.8" cy="440.7" rx="0.92" ry="1.1960000000000002" fill="#8d7f88" />
<ellipse cx="709.1" cy="431.7" rx="1.6560000000000001" ry="2.0240000000000005" fill="#54444d" />
<ellipse cx="709.1" cy="431.7" rx="0.92" ry="1.1960000000000002" fill="#8d7f88" />
<path d="M690.2,443.0 L690.6,438.2 L693.8,435.4 L699.8,429.9 L707.5,423.8 Q710.4,425.9 710.7,432.3 L696.1,440.7 Q693.8,437.7 691.7,442.8 Z" fill="#469086" />
<path d="M683.9,439.2 Q683.3,436.0 684.5,434.4 L690.6,438.2 L690.2,443.0 Q686.3,441.7 683.9,439.2 Z" fill="#62b9ad" />
<path d="M684.5,434.4 Q685.1,432.3 686.7,431.5 L693.8,435.4 L690.6,438.2 Z" fill="#72c0b5" />
<ellipse cx="692.2" cy="437.2" rx="1.9320000000000002" ry="0.782" fill="#f7f8fa" transform="rotate(-38 692.2 437.2)"/>
<ellipse cx="685.1" cy="433.9" rx="1.1960000000000002" ry="0.644" fill="#f7f8fa" transform="rotate(-60 685.1 433.9)"/>
<path d="M686.7,431.5 Q688.9,427.4 693.2,425.8 L699.7,429.7 Q696.1,432.3 693.8,435.4 Z" fill="#eef2f5" />
<path d="M686.3,431.7 Q687.4,434.5 693.7,435.7 L694.1,435.0 Q688.7,433.9 687.0,431.1 Z" fill="#3b3035" />
<path d="M693.2,425.8 Q697.6,421.0 701.3,420.2 Q705.5,421.0 707.5,423.8 L699.7,429.7 Z" fill="#55afa2" />
<path d="M701.3,420.2 Q705.5,421.0 707.5,423.8 L708.1,423.4 Q706.0,420.2 701.9,419.7 Z" fill="#2f3a38" />
<path d="M695.5,434.2 Q697.2,430.8 701.9,428.1 L702.2,431.7 L696.1,435.3 Z" fill="#eef2f5" />
<path d="M702.9,427.6 Q705.5,425.9 708.3,425.5 Q708.1,427.8 707.1,428.9 L703.2,431.1 Z" fill="#eef2f5" />
<path d="M694.4,434.5 L695.5,433.6 L695.8,435.3 L694.7,435.9 Z" fill="#469086" />
<polygon points="714.0,443.6 705.4,438.7 705.4,416.7 714.0,421.6" fill="#9a9ea8" />
<polygon points="714.0,443.6 721.8,439.2 721.8,417.2 714.0,421.6" fill="#83878f" />
<polygon points="714.0,421.6 721.8,417.2 713.2,412.3 705.4,416.7" fill="#b9bcc4" />
<polygon points="712.0,433.5 708.6,431.5 708.6,423.5 712.0,425.5" fill="#3a3b40" />
<path d="M712.0,435.6 q-4.0,6.0 -8.0,2.0" stroke="#3a3b40" stroke-width="0.8" fill="none"/>
<ellipse cx="723.9" cy="451.3" rx="1.6560000000000001" ry="2.0240000000000005" fill="#54444d" />
<ellipse cx="723.9" cy="451.3" rx="0.92" ry="1.1960000000000002" fill="#8d7f88" />
<ellipse cx="739.2" cy="442.3" rx="1.6560000000000001" ry="2.0240000000000005" fill="#54444d" />
<ellipse cx="739.2" cy="442.3" rx="0.92" ry="1.1960000000000002" fill="#8d7f88" />
<path d="M720.3,453.6 L720.7,448.8 L723.9,446.0 L729.9,440.5 L737.6,434.4 Q740.5,436.5 740.8,442.9 L726.2,451.3 Q723.9,448.3 721.8,453.4 Z" fill="#233260" />
<path d="M714.0,449.8 Q713.4,446.6 714.6,445.0 L720.7,448.8 L720.3,453.6 Q716.4,452.3 714.0,449.8 Z" fill="#384a80" />
<path d="M714.6,445.0 Q715.2,442.9 716.8,442.1 L723.9,446.0 L720.7,448.8 Z" fill="#4d5d8d" />
<ellipse cx="722.3" cy="447.8" rx="1.9320000000000002" ry="0.782" fill="#f7f8fa" transform="rotate(-38 722.3 447.8)"/>
<ellipse cx="715.2" cy="444.5" rx="1.1960000000000002" ry="0.644" fill="#f7f8fa" transform="rotate(-60 715.2 444.5)"/>
<path d="M716.8,442.1 Q719.0,438.0 723.3,436.4 L729.8,440.3 Q726.2,442.9 723.9,446.0 Z" fill="#eef2f5" />
<path d="M716.4,442.3 Q717.5,445.1 723.8,446.3 L724.2,445.6 Q718.8,444.5 717.1,441.7 Z" fill="#3b3035" />
<path d="M723.3,436.4 Q727.7,431.6 731.4,430.8 Q735.6,431.6 737.6,434.4 L729.8,440.3 Z" fill="#2a3d74" />
<path d="M731.4,430.8 Q735.6,431.6 737.6,434.4 L738.2,434.0 Q736.1,430.8 732.0,430.3 Z" fill="#2f3a38" />
<path d="M725.6,444.8 Q727.3,441.4 732.0,438.7 L732.3,442.3 L726.2,445.9 Z" fill="#eef2f5" />
<path d="M733.0,438.2 Q735.6,436.5 738.4,436.1 Q738.2,438.4 737.2,439.5 L733.3,441.7 Z" fill="#eef2f5" />
<path d="M724.5,445.1 L725.6,444.2 L725.9,445.9 L724.8,446.5 Z" fill="#233260" />
<polygon points="628.3,221.6 652.1,234.1 652.1,256.7 628.3,244.2" fill="#bdc0ca" />
<polygon points="652.1,234.1 701.0,207.8 701.0,227.9 652.1,256.7" fill="#a8acb8" />
<polygon points="628.3,221.6 677.2,195.3 701.0,207.8 652.1,234.1" fill="#d8dae0" />
<polygon points="637.3,221.0 639.3,208.5 643.3,208.5 645.3,221.0" fill="#6d6f76" />
<ellipse cx="641.3" cy="221.0" rx="4" ry="2.2" fill="#5d5f66" />
<ellipse cx="641.3" cy="208.5" rx="2" ry="1.1" fill="#8a8c93" />
<path d="M631.0,229.0 q1.6,2 0,4 q-1.6,2 0,4" stroke="#c8403a" stroke-width="0.9" fill="none"/>
<path d="M633.6,230.5 q1.6,2 0,4 q-1.6,2 0,4" stroke="#c8403a" stroke-width="0.9" fill="none"/>
<path d="M636.2,232.0 q1.6,2 0,4 q-1.6,2 0,4" stroke="#c8403a" stroke-width="0.9" fill="none"/>
<polygon points="655.9,220.4 694.7,199.0 696.0,212.8 655.9,234.9" fill="#595b61" />
<text transform="matrix(0.868,-0.495,0,1,658.8,231.4)" font-size="11.6" font-weight="bold" fill="#fff" textLength="34.5" lengthAdjust="spacingAndGlyphs" >BHKW</text>
<path d="M696.2,214.5 l1.2,2.4 l-1,0.3 l1,3 l-2.2,-3.4 l1,-0.3 z" fill="#e7a227" stroke="#e7a227" stroke-width="0.6"/>
<polygon points="520.5,229.0 428.2,176.4 428.2,306.6 520.5,359.2" fill="#c3c6cf" />
<polygon points="520.5,229.0 615.8,174.7 615.8,304.9 520.5,359.2" fill="#b2b5c1" />
<polygon points="520.5,229.5 429.7,177.7 429.7,197.2 520.5,249.0" fill="#c4e4e3" />
<polygon points="520.5,229.5 614.3,176.0 614.3,195.5 520.5,249.0" fill="#79c7bc" />
<line x1="510.4" y1="223.7" x2="510.4" y2="243.2" stroke="#9fcfcf" stroke-width="1"/>
<line x1="530.9" y1="223.6" x2="530.9" y2="243.1" stroke="#57aca3" stroke-width="1"/>
<line x1="500.3" y1="218.0" x2="500.3" y2="237.5" stroke="#9fcfcf" stroke-width="1"/>
<line x1="541.3" y1="217.6" x2="541.3" y2="237.1" stroke="#57aca3" stroke-width="1"/>
<line x1="490.2" y1="212.2" x2="490.2" y2="231.7" stroke="#9fcfcf" stroke-width="1"/>
<line x1="551.8" y1="211.7" x2="551.8" y2="231.2" stroke="#57aca3" stroke-width="1"/>
<line x1="480.1" y1="206.5" x2="480.1" y2="226.0" stroke="#9fcfcf" stroke-width="1"/>
<line x1="562.2" y1="205.7" x2="562.2" y2="225.2" stroke="#57aca3" stroke-width="1"/>
<line x1="470.1" y1="200.7" x2="470.1" y2="220.2" stroke="#9fcfcf" stroke-width="1"/>
<line x1="572.6" y1="199.8" x2="572.6" y2="219.3" stroke="#57aca3" stroke-width="1"/>
<line x1="460.0" y1="195.0" x2="460.0" y2="214.5" stroke="#9fcfcf" stroke-width="1"/>
<line x1="583.0" y1="193.9" x2="583.0" y2="213.4" stroke="#57aca3" stroke-width="1"/>
<line x1="449.9" y1="189.2" x2="449.9" y2="208.7" stroke="#9fcfcf" stroke-width="1"/>
<line x1="593.5" y1="187.9" x2="593.5" y2="207.4" stroke="#57aca3" stroke-width="1"/>
<line x1="439.8" y1="183.5" x2="439.8" y2="203.0" stroke="#9fcfcf" stroke-width="1"/>
<line x1="603.9" y1="182.0" x2="603.9" y2="201.5" stroke="#57aca3" stroke-width="1"/>
<polygon points="518.5,229.4 431.2,179.6 431.2,182.1 518.5,231.9" fill="#d9efee" />
<polygon points="520.5,259.9 429.7,208.1 429.7,233.1 520.5,284.9" fill="#c4e4e3" />
<polygon points="520.5,259.9 614.3,206.4 614.3,231.4 520.5,284.9" fill="#79c7bc" />
<line x1="510.4" y1="254.1" x2="510.4" y2="279.1" stroke="#9fcfcf" stroke-width="1"/>
<line x1="530.9" y1="254.0" x2="530.9" y2="279.0" stroke="#57aca3" stroke-width="1"/>
<line x1="500.3" y1="248.4" x2="500.3" y2="273.4" stroke="#9fcfcf" stroke-width="1"/>
<line x1="541.3" y1="248.0" x2="541.3" y2="273.0" stroke="#57aca3" stroke-width="1"/>
<line x1="490.2" y1="242.6" x2="490.2" y2="267.6" stroke="#9fcfcf" stroke-width="1"/>
<line x1="551.8" y1="242.1" x2="551.8" y2="267.1" stroke="#57aca3" stroke-width="1"/>
<line x1="480.1" y1="236.9" x2="480.1" y2="261.9" stroke="#9fcfcf" stroke-width="1"/>
<line x1="562.2" y1="236.1" x2="562.2" y2="261.1" stroke="#57aca3" stroke-width="1"/>
<line x1="470.1" y1="231.1" x2="470.1" y2="256.1" stroke="#9fcfcf" stroke-width="1"/>
<line x1="572.6" y1="230.2" x2="572.6" y2="255.2" stroke="#57aca3" stroke-width="1"/>
<line x1="460.0" y1="225.4" x2="460.0" y2="250.4" stroke="#9fcfcf" stroke-width="1"/>
<line x1="583.0" y1="224.3" x2="583.0" y2="249.3" stroke="#57aca3" stroke-width="1"/>
<line x1="449.9" y1="219.6" x2="449.9" y2="244.6" stroke="#9fcfcf" stroke-width="1"/>
<line x1="593.5" y1="218.3" x2="593.5" y2="243.3" stroke="#57aca3" stroke-width="1"/>
<line x1="439.8" y1="213.9" x2="439.8" y2="238.9" stroke="#9fcfcf" stroke-width="1"/>
<line x1="603.9" y1="212.4" x2="603.9" y2="237.4" stroke="#57aca3" stroke-width="1"/>
<polygon points="518.5,259.8 431.2,210.0 431.2,212.5 518.5,262.3" fill="#d9efee" />
<polygon points="520.5,294.8 429.7,243.0 429.7,268.0 520.5,319.8" fill="#c4e4e3" />
<polygon points="520.5,294.8 614.3,241.3 614.3,266.3 520.5,319.8" fill="#79c7bc" />
<line x1="510.4" y1="289.0" x2="510.4" y2="314.0" stroke="#9fcfcf" stroke-width="1"/>
<line x1="530.9" y1="288.9" x2="530.9" y2="313.9" stroke="#57aca3" stroke-width="1"/>
<line x1="500.3" y1="283.3" x2="500.3" y2="308.3" stroke="#9fcfcf" stroke-width="1"/>
<line x1="541.3" y1="282.9" x2="541.3" y2="307.9" stroke="#57aca3" stroke-width="1"/>
<line x1="490.2" y1="277.5" x2="490.2" y2="302.5" stroke="#9fcfcf" stroke-width="1"/>
<line x1="551.8" y1="277.0" x2="551.8" y2="302.0" stroke="#57aca3" stroke-width="1"/>
<line x1="480.1" y1="271.8" x2="480.1" y2="296.8" stroke="#9fcfcf" stroke-width="1"/>
<line x1="562.2" y1="271.0" x2="562.2" y2="296.0" stroke="#57aca3" stroke-width="1"/>
<line x1="470.1" y1="266.0" x2="470.1" y2="291.0" stroke="#9fcfcf" stroke-width="1"/>
<line x1="572.6" y1="265.1" x2="572.6" y2="290.1" stroke="#57aca3" stroke-width="1"/>
<line x1="460.0" y1="260.3" x2="460.0" y2="285.3" stroke="#9fcfcf" stroke-width="1"/>
<line x1="583.0" y1="259.2" x2="583.0" y2="284.2" stroke="#57aca3" stroke-width="1"/>
<line x1="449.9" y1="254.5" x2="449.9" y2="279.5" stroke="#9fcfcf" stroke-width="1"/>
<line x1="593.5" y1="253.2" x2="593.5" y2="278.2" stroke="#57aca3" stroke-width="1"/>
<line x1="439.8" y1="248.8" x2="439.8" y2="273.8" stroke="#9fcfcf" stroke-width="1"/>
<line x1="603.9" y1="247.3" x2="603.9" y2="272.3" stroke="#57aca3" stroke-width="1"/>
<polygon points="518.5,294.7 431.2,244.9 431.2,247.4 518.5,297.2" fill="#d9efee" />
<polygon points="520.5,329.8 429.7,278.0 429.7,301.9 520.5,353.7" fill="#c4e4e3" />
<polygon points="520.5,329.8 614.3,276.3 614.3,300.2 520.5,353.7" fill="#79c7bc" />
<line x1="510.4" y1="324.0" x2="510.4" y2="347.9" stroke="#9fcfcf" stroke-width="1"/>
<line x1="530.9" y1="323.9" x2="530.9" y2="347.8" stroke="#57aca3" stroke-width="1"/>
<line x1="500.3" y1="318.3" x2="500.3" y2="342.2" stroke="#9fcfcf" stroke-width="1"/>
<line x1="541.3" y1="317.9" x2="541.3" y2="341.8" stroke="#57aca3" stroke-width="1"/>
<line x1="490.2" y1="312.5" x2="490.2" y2="336.4" stroke="#9fcfcf" stroke-width="1"/>
<line x1="551.8" y1="312.0" x2="551.8" y2="335.9" stroke="#57aca3" stroke-width="1"/>
<line x1="480.1" y1="306.8" x2="480.1" y2="330.7" stroke="#9fcfcf" stroke-width="1"/>
<line x1="562.2" y1="306.0" x2="562.2" y2="329.9" stroke="#57aca3" stroke-width="1"/>
<line x1="470.1" y1="301.0" x2="470.1" y2="324.9" stroke="#9fcfcf" stroke-width="1"/>
<line x1="572.6" y1="300.1" x2="572.6" y2="324.0" stroke="#57aca3" stroke-width="1"/>
<line x1="460.0" y1="295.3" x2="460.0" y2="319.2" stroke="#9fcfcf" stroke-width="1"/>
<line x1="583.0" y1="294.2" x2="583.0" y2="318.1" stroke="#57aca3" stroke-width="1"/>
<line x1="449.9" y1="289.5" x2="449.9" y2="313.4" stroke="#9fcfcf" stroke-width="1"/>
<line x1="593.5" y1="288.2" x2="593.5" y2="312.1" stroke="#57aca3" stroke-width="1"/>
<line x1="439.8" y1="283.8" x2="439.8" y2="307.7" stroke="#9fcfcf" stroke-width="1"/>
<line x1="603.9" y1="282.3" x2="603.9" y2="306.2" stroke="#57aca3" stroke-width="1"/>
<polygon points="518.5,329.7 431.2,279.9 431.2,282.4 518.5,332.2" fill="#d9efee" />
<polygon points="520.5,249.0 426.4,195.4 426.4,206.3 520.5,259.9" fill="#c6c9d2" />
<polygon points="520.5,249.0 617.6,193.7 617.6,204.6 520.5,259.9" fill="#b6b9c5" />
<polygon points="520.5,249.0 426.4,195.4 426.4,198.0 520.5,251.6" fill="#dfe1e7" />
<polygon points="520.5,249.0 617.6,193.7 617.6,196.3 520.5,251.6" fill="#d6d8e0" />
<polygon points="520.5,284.9 426.4,231.3 426.4,241.2 520.5,294.8" fill="#c6c9d2" />
<polygon points="520.5,284.9 617.6,229.6 617.6,239.5 520.5,294.8" fill="#b6b9c5" />
<polygon points="520.5,284.9 426.4,231.3 426.4,233.9 520.5,287.5" fill="#dfe1e7" />
<polygon points="520.5,284.9 617.6,229.6 617.6,232.2 520.5,287.5" fill="#d6d8e0" />
<polygon points="520.5,319.8 426.4,266.2 426.4,276.2 520.5,329.8" fill="#c6c9d2" />
<polygon points="520.5,319.8 617.6,264.5 617.6,274.5 520.5,329.8" fill="#b6b9c5" />
<polygon points="520.5,319.8 426.4,266.2 426.4,268.8 520.5,322.4" fill="#dfe1e7" />
<polygon points="520.5,319.8 617.6,264.5 617.6,267.1 520.5,322.4" fill="#d6d8e0" />
<polygon points="520.5,353.7 426.4,300.1 426.4,307.1 520.5,360.7" fill="#c6c9d2" />
<polygon points="520.5,353.7 617.6,298.4 617.6,305.4 520.5,360.7" fill="#b6b9c5" />
<polygon points="520.5,353.7 426.4,300.1 426.4,302.7 520.5,356.3" fill="#dfe1e7" />
<polygon points="520.5,353.7 617.6,298.4 617.6,301.0 520.5,356.3" fill="#d6d8e0" />
<polygon points="425.2,165.2 520.5,220.4 520.5,230.4 425.2,175.2" fill="#c6c9d1" />
<polygon points="520.5,220.4 618.3,165.2 618.3,175.2 520.5,230.4" fill="#b6b9c4" />
<polygon points="425.2,165.2 520.5,111.3 618.3,165.2 520.5,220.4" fill="#cfd1d9" />
<polygon points="433.1,165.2 520.5,115.8 610.4,165.2 520.5,215.9" fill="#e4e5ea" />
<polygon points="433.1,165.2 520.5,115.8 520.5,120.3 441.0,165.2" fill="#a9adb9" />
<polygon points="520.5,115.8 610.4,165.2 602.5,165.2 520.5,120.3" fill="#bbbec9" />
<polygon points="492.9,151.4 539.3,176.5 539.3,194.0 492.9,168.9" fill="#c8cbd3" />
<polygon points="539.3,176.5 586.9,151.4 586.9,168.9 539.3,194.0" fill="#b3b6c2" />
<polygon points="492.9,151.4 538.0,126.2 586.9,151.4 539.3,176.5" fill="#dcdee4" />
<polygon points="516.0,143.5 538.5,131.0 562.0,144.0 539.5,157.0" fill="#c9ccd3" />
<ellipse cx="538.0" cy="136.4" rx="6.2" ry="3.7" fill="#3b3c40" />
<ellipse cx="538.0" cy="136.4" rx="3.0" ry="1.8" fill="#c9ccd3" />
<ellipse cx="538.0" cy="136.4" rx="1.2" ry="0.8" fill="#55575c" />
<ellipse cx="525.2" cy="143.4" rx="6.2" ry="3.7" fill="#3b3c40" />
<ellipse cx="525.2" cy="143.4" rx="3.0" ry="1.8" fill="#c9ccd3" />
<ellipse cx="525.2" cy="143.4" rx="1.2" ry="0.8" fill="#55575c" />
<ellipse cx="552.4" cy="144.6" rx="6.2" ry="3.7" fill="#3b3c40" />
<ellipse cx="552.4" cy="144.6" rx="3.0" ry="1.8" fill="#c9ccd3" />
<ellipse cx="552.4" cy="144.6" rx="1.2" ry="0.8" fill="#55575c" />
<ellipse cx="539.3" cy="151.8" rx="6.2" ry="3.7" fill="#3b3c40" />
<ellipse cx="539.3" cy="151.8" rx="3.0" ry="1.8" fill="#c9ccd3" />
<ellipse cx="539.3" cy="151.8" rx="1.2" ry="0.8" fill="#55575c" />
<polygon points="549.3,194.0 588.2,171.5 589.4,184.5 549.3,207.2" fill="#54565b" />
<text transform="matrix(0.868,-0.495,0,1,552.6,203.6)" font-size="11.6" font-weight="bold" fill="#fff" textLength="34.5" lengthAdjust="spacingAndGlyphs" >BÜRO</text>
<polygon points="733.0,319.7 757.0,306.5 783.2,319.2 758.0,334.5" fill="#b0a795" />
<polygon points="733.0,319.7 757.0,306.5 757.0,313.5 745.0,319.7" fill="#8b8276" />
<polygon points="757.0,306.5 783.2,319.2 771.2,319.2 757.0,313.5" fill="#9c9385" />
<path d="M712.6,322.0L715.0,313.0L717.4,322.0M718.3,325.5L720.7,316.5L723.1,325.5M724.0,328.9L726.4,319.9L728.8,328.9M729.7,332.4L732.1,323.4L734.5,332.4M735.5,335.9L737.9,326.9L740.3,335.9M741.2,339.4L743.6,330.4L746.0,339.4M746.9,342.8L749.3,333.8L751.7,342.8M752.6,346.3L755.0,337.3L757.4,346.3" stroke="#bfc4cd" stroke-width="1.15" fill="none"/>
<line x1="715.0" y1="313.0" x2="755.0" y2="337.3" stroke="#fbe9cf" stroke-width="3.4"/>
<line x1="715.0" y1="313.0" x2="755.0" y2="337.3" stroke="#f5c184" stroke-width="3.4" stroke-dasharray="2.5 3"/>
<path d="M752.6,346.3L755.0,337.3L757.4,346.3M758.1,343.2L760.5,334.2L762.9,343.2M763.6,340.0L766.0,331.0L768.4,340.0M769.1,336.9L771.5,327.9L773.9,336.9M774.6,333.8L777.0,324.8L779.4,333.8M780.1,330.6L782.5,321.6L784.9,330.6M785.6,327.5L788.0,318.5L790.4,327.5" stroke="#bfc4cd" stroke-width="1.15" fill="none"/>
<line x1="755.0" y1="337.3" x2="788.0" y2="318.5" stroke="#fbe9cf" stroke-width="3.4"/>
<line x1="755.0" y1="337.3" x2="788.0" y2="318.5" stroke="#f5c184" stroke-width="3.4" stroke-dasharray="2.5 3"/>
<polygon points="709.0,304.0 733.0,317.7 733.0,313.7 709.0,300.0" fill="#2e2e33" />
<polygon points="733.0,317.7 737.0,315.4 737.0,311.4 733.0,313.7" fill="#3f3f45" />
<polygon points="709.0,300.0 733.0,313.7 737.0,311.4 713.0,297.7" fill="#4d4d54" />
<polygon points="718.0,298.0 742.0,311.7 742.0,307.7 718.0,294.0" fill="#2e2e33" />
<polygon points="742.0,311.7 746.0,309.4 746.0,305.4 742.0,307.7" fill="#3f3f45" />
<polygon points="718.0,294.0 742.0,307.7 746.0,305.4 722.0,291.7" fill="#4d4d54" />
<polygon points="712.0,297.0 732.0,308.4 732.0,301.4 712.0,290.0" fill="#f3d24a" />
<polygon points="732.0,308.4 744.0,301.6 744.0,294.6 732.0,301.4" fill="#dcb632" />
<polygon points="712.0,290.0 732.0,301.4 744.0,294.6 724.0,283.2" fill="#f9e688" />
<polygon points="728.0,290.0 736.0,294.6 736.0,288.1 728.0,283.5" fill="#f9e688" />
<polygon points="736.0,294.6 743.0,290.6 743.0,284.1 736.0,288.1" fill="#dcb632" />
<polygon points="728.0,283.5 736.0,288.1 743.0,284.1 735.0,279.5" fill="#fcf0ae" />
<polygon points="715.0,289.0 724.0,294.1 724.0,290.1 715.0,285.0" fill="#f3d24a" />
<polygon points="724.0,294.1 730.0,290.7 730.0,286.7 724.0,290.1" fill="#dcb632" />
<polygon points="715.0,285.0 724.0,290.1 730.0,286.7 721.0,281.6" fill="#f9e688" />
<path d="M735.0,297.0 L746.0,299.0 L749.0,314.0" stroke="#dcb632" stroke-width="3.4" fill="none" stroke-linejoin="round"/>
<polygon points="743.0,314.0 751.0,312.0 752.0,319.0 745.0,321.0" fill="#e9bd3c" />
<polygon points="923.9,294.5 720.1,178.3 720.1,280.5 923.9,396.7" fill="#c9ccd4" />
<polygon points="923.9,294.5 1018.5,240.6 1018.5,342.8 923.9,396.7" fill="#b6b9c4" />
<polygon points="925.4,303.7 1017.0,251.5 1017.0,261.8 925.4,314.0" fill="#6fc2b7" />
<line x1="934.6" y1="298.5" x2="934.6" y2="308.8" stroke="#b6b9c4" stroke-width="1.1"/>
<line x1="943.7" y1="293.3" x2="943.7" y2="303.6" stroke="#b6b9c4" stroke-width="1.1"/>
<line x1="952.9" y1="288.1" x2="952.9" y2="298.4" stroke="#b6b9c4" stroke-width="1.1"/>
<line x1="962.0" y1="282.9" x2="962.0" y2="293.2" stroke="#b6b9c4" stroke-width="1.1"/>
<line x1="971.2" y1="277.6" x2="971.2" y2="287.9" stroke="#b6b9c4" stroke-width="1.1"/>
<line x1="980.4" y1="272.4" x2="980.4" y2="282.7" stroke="#b6b9c4" stroke-width="1.1"/>
<line x1="989.5" y1="267.2" x2="989.5" y2="277.5" stroke="#b6b9c4" stroke-width="1.1"/>
<line x1="998.7" y1="262.0" x2="998.7" y2="272.3" stroke="#b6b9c4" stroke-width="1.1"/>
<line x1="1007.8" y1="256.8" x2="1007.8" y2="267.1" stroke="#b6b9c4" stroke-width="1.1"/>
<polygon points="923.9,315.3 1019.5,260.8 1019.5,263.4 923.9,317.9" fill="#e3e4ea" />
<polygon points="921.9,303.5 891.9,286.4 891.9,296.7 921.9,313.8" fill="#c3e6e4" />
<line x1="911.9" y1="297.8" x2="911.9" y2="308.1" stroke="#c9ccd4" stroke-width="1.3"/>
<line x1="901.9" y1="292.1" x2="901.9" y2="302.4" stroke="#c9ccd4" stroke-width="1.3"/>
<polygon points="922.9,314.9 890.9,296.7 890.9,298.7 922.9,316.9" fill="#e6e7ec" />
<polygon points="865.4,271.3 722.9,190.0 722.9,200.3 865.4,281.6" fill="#c3e6e4" />
<line x1="855.2" y1="265.5" x2="855.2" y2="275.8" stroke="#c9ccd4" stroke-width="1.3"/>
<line x1="845.0" y1="259.7" x2="845.0" y2="270.0" stroke="#c9ccd4" stroke-width="1.3"/>
<line x1="834.9" y1="253.8" x2="834.9" y2="264.1" stroke="#c9ccd4" stroke-width="1.3"/>
<line x1="824.7" y1="248.0" x2="824.7" y2="258.3" stroke="#c9ccd4" stroke-width="1.3"/>
<line x1="814.5" y1="242.2" x2="814.5" y2="252.5" stroke="#c9ccd4" stroke-width="1.3"/>
<line x1="804.3" y1="236.4" x2="804.3" y2="246.7" stroke="#c9ccd4" stroke-width="1.3"/>
<line x1="794.1" y1="230.6" x2="794.1" y2="240.9" stroke="#c9ccd4" stroke-width="1.3"/>
<line x1="784.0" y1="224.8" x2="784.0" y2="235.1" stroke="#c9ccd4" stroke-width="1.3"/>
<line x1="773.8" y1="219.0" x2="773.8" y2="229.3" stroke="#c9ccd4" stroke-width="1.3"/>
<line x1="763.6" y1="213.2" x2="763.6" y2="223.5" stroke="#c9ccd4" stroke-width="1.3"/>
<line x1="753.4" y1="207.4" x2="753.4" y2="217.7" stroke="#c9ccd4" stroke-width="1.3"/>
<line x1="743.3" y1="201.6" x2="743.3" y2="211.9" stroke="#c9ccd4" stroke-width="1.3"/>
<line x1="733.1" y1="195.8" x2="733.1" y2="206.1" stroke="#c9ccd4" stroke-width="1.3"/>
<polygon points="866.4,282.7 721.9,200.4 721.9,202.4 866.4,284.7" fill="#e6e7ec" />
<polygon points="925.4,329.9 1017.0,277.7 1017.0,287.9 925.4,340.1" fill="#6fc2b7" />
<line x1="934.6" y1="324.7" x2="934.6" y2="334.9" stroke="#b6b9c4" stroke-width="1.1"/>
<line x1="943.7" y1="319.5" x2="943.7" y2="329.7" stroke="#b6b9c4" stroke-width="1.1"/>
<line x1="952.9" y1="314.3" x2="952.9" y2="324.5" stroke="#b6b9c4" stroke-width="1.1"/>
<line x1="962.0" y1="309.1" x2="962.0" y2="319.3" stroke="#b6b9c4" stroke-width="1.1"/>
<line x1="971.2" y1="303.8" x2="971.2" y2="314.0" stroke="#b6b9c4" stroke-width="1.1"/>
<line x1="980.4" y1="298.6" x2="980.4" y2="308.8" stroke="#b6b9c4" stroke-width="1.1"/>
<line x1="989.5" y1="293.4" x2="989.5" y2="303.6" stroke="#b6b9c4" stroke-width="1.1"/>
<line x1="998.7" y1="288.2" x2="998.7" y2="298.4" stroke="#b6b9c4" stroke-width="1.1"/>
<line x1="1007.8" y1="283.0" x2="1007.8" y2="293.2" stroke="#b6b9c4" stroke-width="1.1"/>
<polygon points="923.9,341.4 1019.5,286.9 1019.5,289.5 923.9,344.0" fill="#e3e4ea" />
<polygon points="921.9,329.7 891.9,312.6 891.9,322.8 921.9,339.9" fill="#c3e6e4" />
<line x1="911.9" y1="324.0" x2="911.9" y2="334.2" stroke="#c9ccd4" stroke-width="1.3"/>
<line x1="901.9" y1="318.3" x2="901.9" y2="328.5" stroke="#c9ccd4" stroke-width="1.3"/>
<polygon points="922.9,341.0 890.9,322.8 890.9,324.8 922.9,343.0" fill="#e6e7ec" />
<polygon points="865.4,297.5 722.9,216.2 722.9,226.4 865.4,307.7" fill="#c3e6e4" />
<line x1="855.2" y1="291.7" x2="855.2" y2="301.9" stroke="#c9ccd4" stroke-width="1.3"/>
<line x1="845.0" y1="285.9" x2="845.0" y2="296.1" stroke="#c9ccd4" stroke-width="1.3"/>
<line x1="834.9" y1="280.0" x2="834.9" y2="290.2" stroke="#c9ccd4" stroke-width="1.3"/>
<line x1="824.7" y1="274.2" x2="824.7" y2="284.4" stroke="#c9ccd4" stroke-width="1.3"/>
<line x1="814.5" y1="268.4" x2="814.5" y2="278.6" stroke="#c9ccd4" stroke-width="1.3"/>
<line x1="804.3" y1="262.6" x2="804.3" y2="272.8" stroke="#c9ccd4" stroke-width="1.3"/>
<line x1="794.1" y1="256.8" x2="794.1" y2="267.0" stroke="#c9ccd4" stroke-width="1.3"/>
<line x1="784.0" y1="251.0" x2="784.0" y2="261.2" stroke="#c9ccd4" stroke-width="1.3"/>
<line x1="773.8" y1="245.2" x2="773.8" y2="255.4" stroke="#c9ccd4" stroke-width="1.3"/>
<line x1="763.6" y1="239.4" x2="763.6" y2="249.6" stroke="#c9ccd4" stroke-width="1.3"/>
<line x1="753.4" y1="233.6" x2="753.4" y2="243.8" stroke="#c9ccd4" stroke-width="1.3"/>
<line x1="743.3" y1="227.8" x2="743.3" y2="238.0" stroke="#c9ccd4" stroke-width="1.3"/>
<line x1="733.1" y1="222.0" x2="733.1" y2="232.2" stroke="#c9ccd4" stroke-width="1.3"/>
<polygon points="866.4,308.8 721.9,226.5 721.9,228.5 866.4,310.8" fill="#e6e7ec" />
<polygon points="925.4,356.8 1017.0,304.6 1017.0,315.4 925.4,367.6" fill="#6fc2b7" />
<line x1="934.6" y1="351.6" x2="934.6" y2="362.4" stroke="#b6b9c4" stroke-width="1.1"/>
<line x1="943.7" y1="346.4" x2="943.7" y2="357.2" stroke="#b6b9c4" stroke-width="1.1"/>
<line x1="952.9" y1="341.2" x2="952.9" y2="352.0" stroke="#b6b9c4" stroke-width="1.1"/>
<line x1="962.0" y1="336.0" x2="962.0" y2="346.8" stroke="#b6b9c4" stroke-width="1.1"/>
<line x1="971.2" y1="330.7" x2="971.2" y2="341.5" stroke="#b6b9c4" stroke-width="1.1"/>
<line x1="980.4" y1="325.5" x2="980.4" y2="336.3" stroke="#b6b9c4" stroke-width="1.1"/>
<line x1="989.5" y1="320.3" x2="989.5" y2="331.1" stroke="#b6b9c4" stroke-width="1.1"/>
<line x1="998.7" y1="315.1" x2="998.7" y2="325.9" stroke="#b6b9c4" stroke-width="1.1"/>
<line x1="1007.8" y1="309.9" x2="1007.8" y2="320.7" stroke="#b6b9c4" stroke-width="1.1"/>
<polygon points="923.9,368.9 1019.5,314.4 1019.5,317.0 923.9,371.5" fill="#e3e4ea" />
<polygon points="921.9,356.6 891.9,339.5 891.9,350.3 921.9,367.4" fill="#c3e6e4" />
<line x1="911.9" y1="350.9" x2="911.9" y2="361.7" stroke="#c9ccd4" stroke-width="1.3"/>
<line x1="901.9" y1="345.2" x2="901.9" y2="356.0" stroke="#c9ccd4" stroke-width="1.3"/>
<polygon points="922.9,368.5 890.9,350.3 890.9,352.3 922.9,370.5" fill="#e6e7ec" />
<polygon points="865.4,324.4 722.9,243.1 722.9,253.9 865.4,335.2" fill="#c3e6e4" />
<line x1="855.2" y1="318.6" x2="855.2" y2="329.4" stroke="#c9ccd4" stroke-width="1.3"/>
<line x1="845.0" y1="312.8" x2="845.0" y2="323.6" stroke="#c9ccd4" stroke-width="1.3"/>
<line x1="834.9" y1="306.9" x2="834.9" y2="317.7" stroke="#c9ccd4" stroke-width="1.3"/>
<line x1="824.7" y1="301.1" x2="824.7" y2="311.9" stroke="#c9ccd4" stroke-width="1.3"/>
<line x1="814.5" y1="295.3" x2="814.5" y2="306.1" stroke="#c9ccd4" stroke-width="1.3"/>
<line x1="804.3" y1="289.5" x2="804.3" y2="300.3" stroke="#c9ccd4" stroke-width="1.3"/>
<line x1="794.1" y1="283.7" x2="794.1" y2="294.5" stroke="#c9ccd4" stroke-width="1.3"/>
<line x1="784.0" y1="277.9" x2="784.0" y2="288.7" stroke="#c9ccd4" stroke-width="1.3"/>
<line x1="773.8" y1="272.1" x2="773.8" y2="282.9" stroke="#c9ccd4" stroke-width="1.3"/>
<line x1="763.6" y1="266.3" x2="763.6" y2="277.1" stroke="#c9ccd4" stroke-width="1.3"/>
<line x1="753.4" y1="260.5" x2="753.4" y2="271.3" stroke="#c9ccd4" stroke-width="1.3"/>
<line x1="743.3" y1="254.7" x2="743.3" y2="265.5" stroke="#c9ccd4" stroke-width="1.3"/>
<line x1="733.1" y1="248.9" x2="733.1" y2="259.7" stroke="#c9ccd4" stroke-width="1.3"/>
<polygon points="866.4,336.3 721.9,254.0 721.9,256.0 866.4,338.3" fill="#e6e7ec" />
<polygon points="890.4,281.4 866.9,268.0 866.9,364.2 890.4,377.6" fill="#c3c6cf" />
<polygon points="720.1,181.4 815.3,126.3 1018.5,241.3 923.9,294.5" fill="#d0d2da" />
<polygon points="727.1,181.4 815.3,130.3 1011.5,241.3 923.9,290.5" fill="#e2e3e9" />
<polygon points="727.1,181.4 815.3,130.3 815.3,134.3 734.1,181.4" fill="#abafbb" />
<polygon points="815.3,130.3 1011.5,241.3 1004.5,241.3 815.3,134.3" fill="#bec1cb" />
<polygon points="804.4,156.4 824.3,145.1 824.3,147.1 804.4,158.4" fill="#3f4146" />
<polygon points="791.2,148.4 811.1,137.0 824.3,145.1 804.4,156.4" fill="#5c5f65" />
<line x1="801.1" y1="142.7" x2="814.4" y2="150.8" stroke="#c5c7cd" stroke-width="0.9"/>
<line x1="794.8" y1="146.8" x2="807.4" y2="154.4" stroke="#84878d" stroke-width="0.5"/>
<line x1="798.0" y1="144.9" x2="810.6" y2="152.5" stroke="#84878d" stroke-width="0.5"/>
<line x1="804.7" y1="141.1" x2="817.3" y2="148.7" stroke="#84878d" stroke-width="0.5"/>
<line x1="807.9" y1="139.2" x2="820.5" y2="146.9" stroke="#84878d" stroke-width="0.5"/>
<line x1="795.8" y1="150.9" x2="815.2" y2="139.8" stroke="#84878d" stroke-width="0.5"/>
<line x1="800.1" y1="153.6" x2="819.6" y2="142.5" stroke="#84878d" stroke-width="0.5"/>
<polygon points="782.8,168.8 802.7,157.4 802.7,159.4 782.8,170.8" fill="#3f4146" />
<polygon points="769.6,160.8 789.5,149.4 802.7,157.4 782.8,168.8" fill="#5c5f65" />
<line x1="779.5" y1="155.1" x2="792.8" y2="163.1" stroke="#c5c7cd" stroke-width="0.9"/>
<line x1="773.2" y1="159.1" x2="785.8" y2="166.8" stroke="#84878d" stroke-width="0.5"/>
<line x1="776.4" y1="157.3" x2="789.0" y2="164.9" stroke="#84878d" stroke-width="0.5"/>
<line x1="783.1" y1="153.4" x2="795.7" y2="161.1" stroke="#84878d" stroke-width="0.5"/>
<line x1="786.3" y1="151.6" x2="798.9" y2="159.2" stroke="#84878d" stroke-width="0.5"/>
<line x1="774.2" y1="163.3" x2="793.6" y2="152.2" stroke="#84878d" stroke-width="0.5"/>
<line x1="778.5" y1="166.0" x2="798.0" y2="154.8" stroke="#84878d" stroke-width="0.5"/>
<polygon points="761.2,181.2 781.1,169.8 781.1,171.8 761.2,183.2" fill="#3f4146" />
<polygon points="748.0,173.2 767.9,161.8 781.1,169.8 761.2,181.2" fill="#5c5f65" />
<line x1="757.9" y1="167.5" x2="771.2" y2="175.5" stroke="#c5c7cd" stroke-width="0.9"/>
<line x1="751.6" y1="171.5" x2="764.2" y2="179.1" stroke="#84878d" stroke-width="0.5"/>
<line x1="754.8" y1="169.6" x2="767.4" y2="177.3" stroke="#84878d" stroke-width="0.5"/>
<line x1="761.5" y1="165.8" x2="774.1" y2="173.4" stroke="#84878d" stroke-width="0.5"/>
<line x1="764.7" y1="164.0" x2="777.3" y2="171.6" stroke="#84878d" stroke-width="0.5"/>
<line x1="752.6" y1="175.7" x2="772.0" y2="164.5" stroke="#84878d" stroke-width="0.5"/>
<line x1="756.9" y1="178.3" x2="776.4" y2="167.2" stroke="#84878d" stroke-width="0.5"/>
<polygon points="820.6,166.2 840.5,154.9 840.5,156.9 820.6,168.2" fill="#3f4146" />
<polygon points="807.4,158.2 827.2,146.8 840.5,154.9 820.6,166.2" fill="#5c5f65" />
<line x1="817.3" y1="152.5" x2="830.5" y2="160.5" stroke="#c5c7cd" stroke-width="0.9"/>
<line x1="810.9" y1="156.6" x2="823.5" y2="164.2" stroke="#84878d" stroke-width="0.5"/>
<line x1="814.2" y1="154.7" x2="826.8" y2="162.3" stroke="#84878d" stroke-width="0.5"/>
<line x1="820.9" y1="150.9" x2="833.5" y2="158.5" stroke="#84878d" stroke-width="0.5"/>
<line x1="824.1" y1="149.0" x2="836.7" y2="156.6" stroke="#84878d" stroke-width="0.5"/>
<line x1="811.9" y1="160.7" x2="831.4" y2="149.6" stroke="#84878d" stroke-width="0.5"/>
<line x1="816.3" y1="163.4" x2="835.7" y2="152.2" stroke="#84878d" stroke-width="0.5"/>
<polygon points="799.0,178.6 818.9,167.2 818.9,169.2 799.0,180.6" fill="#3f4146" />
<polygon points="785.8,170.6 805.6,159.2 818.9,167.2 799.0,178.6" fill="#5c5f65" />
<line x1="795.7" y1="164.9" x2="808.9" y2="172.9" stroke="#c5c7cd" stroke-width="0.9"/>
<line x1="789.3" y1="168.9" x2="801.9" y2="176.6" stroke="#84878d" stroke-width="0.5"/>
<line x1="792.6" y1="167.1" x2="805.2" y2="174.7" stroke="#84878d" stroke-width="0.5"/>
<line x1="799.3" y1="163.2" x2="811.9" y2="170.9" stroke="#84878d" stroke-width="0.5"/>
<line x1="802.5" y1="161.4" x2="815.1" y2="169.0" stroke="#84878d" stroke-width="0.5"/>
<line x1="790.3" y1="173.1" x2="809.8" y2="162.0" stroke="#84878d" stroke-width="0.5"/>
<line x1="794.7" y1="175.7" x2="814.1" y2="164.6" stroke="#84878d" stroke-width="0.5"/>
<polygon points="777.4,191.0 797.3,179.6 797.3,181.6 777.4,193.0" fill="#3f4146" />
<polygon points="764.2,183.0 784.0,171.6 797.3,179.6 777.4,191.0" fill="#5c5f65" />
<line x1="774.1" y1="177.3" x2="787.3" y2="185.3" stroke="#c5c7cd" stroke-width="0.9"/>
<line x1="767.7" y1="181.3" x2="780.3" y2="188.9" stroke="#84878d" stroke-width="0.5"/>
<line x1="771.0" y1="179.4" x2="783.6" y2="187.1" stroke="#84878d" stroke-width="0.5"/>
<line x1="777.7" y1="175.6" x2="790.3" y2="183.2" stroke="#84878d" stroke-width="0.5"/>
<line x1="780.9" y1="173.7" x2="793.5" y2="181.4" stroke="#84878d" stroke-width="0.5"/>
<line x1="768.7" y1="185.5" x2="788.2" y2="174.3" stroke="#84878d" stroke-width="0.5"/>
<line x1="773.1" y1="188.1" x2="792.5" y2="177.0" stroke="#84878d" stroke-width="0.5"/>
<polygon points="836.8,176.0 856.6,164.6 856.6,166.6 836.8,178.0" fill="#3f4146" />
<polygon points="823.5,168.0 843.4,156.6 856.6,164.6 836.8,176.0" fill="#5c5f65" />
<line x1="833.5" y1="162.3" x2="846.7" y2="170.3" stroke="#c5c7cd" stroke-width="0.9"/>
<line x1="827.1" y1="166.3" x2="839.7" y2="174.0" stroke="#84878d" stroke-width="0.5"/>
<line x1="830.3" y1="164.5" x2="842.9" y2="172.1" stroke="#84878d" stroke-width="0.5"/>
<line x1="837.0" y1="160.7" x2="849.6" y2="168.3" stroke="#84878d" stroke-width="0.5"/>
<line x1="840.3" y1="158.8" x2="852.9" y2="166.4" stroke="#84878d" stroke-width="0.5"/>
<line x1="828.1" y1="170.5" x2="847.5" y2="159.4" stroke="#84878d" stroke-width="0.5"/>
<line x1="832.5" y1="173.2" x2="851.9" y2="162.0" stroke="#84878d" stroke-width="0.5"/>
<polygon points="815.2,188.4 835.0,177.0 835.0,179.0 815.2,190.4" fill="#3f4146" />
<polygon points="801.9,180.4 821.8,169.0 835.0,177.0 815.2,188.4" fill="#5c5f65" />
<line x1="811.9" y1="174.7" x2="825.1" y2="182.7" stroke="#c5c7cd" stroke-width="0.9"/>
<line x1="805.5" y1="178.7" x2="818.1" y2="186.3" stroke="#84878d" stroke-width="0.5"/>
<line x1="808.7" y1="176.9" x2="821.3" y2="184.5" stroke="#84878d" stroke-width="0.5"/>
<line x1="815.4" y1="173.0" x2="828.0" y2="180.7" stroke="#84878d" stroke-width="0.5"/>
<line x1="818.7" y1="171.2" x2="831.3" y2="178.8" stroke="#84878d" stroke-width="0.5"/>
<line x1="806.5" y1="182.9" x2="825.9" y2="171.8" stroke="#84878d" stroke-width="0.5"/>
<line x1="810.9" y1="185.5" x2="830.3" y2="174.4" stroke="#84878d" stroke-width="0.5"/>
<polygon points="793.6,200.8 813.4,189.4 813.4,191.4 793.6,202.8" fill="#3f4146" />
<polygon points="780.3,192.7 800.2,181.4 813.4,189.4 793.6,200.8" fill="#5c5f65" />
<line x1="790.3" y1="187.1" x2="803.5" y2="195.1" stroke="#c5c7cd" stroke-width="0.9"/>
<line x1="783.9" y1="191.1" x2="796.5" y2="198.7" stroke="#84878d" stroke-width="0.5"/>
<line x1="787.1" y1="189.2" x2="799.7" y2="196.9" stroke="#84878d" stroke-width="0.5"/>
<line x1="793.8" y1="185.4" x2="806.4" y2="193.0" stroke="#84878d" stroke-width="0.5"/>
<line x1="797.1" y1="183.5" x2="809.7" y2="191.2" stroke="#84878d" stroke-width="0.5"/>
<line x1="784.9" y1="195.3" x2="804.3" y2="184.1" stroke="#84878d" stroke-width="0.5"/>
<line x1="789.3" y1="197.9" x2="808.7" y2="186.8" stroke="#84878d" stroke-width="0.5"/>
<polygon points="852.9,185.8 872.8,174.4 872.8,176.4 852.9,187.8" fill="#3f4146" />
<polygon points="839.7,177.8 859.5,166.4 872.8,174.4 852.9,185.8" fill="#5c5f65" />
<line x1="849.6" y1="172.1" x2="862.9" y2="180.1" stroke="#c5c7cd" stroke-width="0.9"/>
<line x1="843.2" y1="176.1" x2="855.8" y2="183.8" stroke="#84878d" stroke-width="0.5"/>
<line x1="846.5" y1="174.3" x2="859.1" y2="181.9" stroke="#84878d" stroke-width="0.5"/>
<line x1="853.2" y1="170.4" x2="865.8" y2="178.1" stroke="#84878d" stroke-width="0.5"/>
<line x1="856.4" y1="168.6" x2="869.0" y2="176.2" stroke="#84878d" stroke-width="0.5"/>
<line x1="844.3" y1="180.3" x2="863.7" y2="169.2" stroke="#84878d" stroke-width="0.5"/>
<line x1="848.6" y1="183.0" x2="868.1" y2="171.8" stroke="#84878d" stroke-width="0.5"/>
<polygon points="831.3,198.2 851.2,186.8 851.2,188.8 831.3,200.2" fill="#3f4146" />
<polygon points="818.1,190.2 837.9,178.8 851.2,186.8 831.3,198.2" fill="#5c5f65" />
<line x1="828.0" y1="184.5" x2="841.3" y2="192.5" stroke="#c5c7cd" stroke-width="0.9"/>
<line x1="821.6" y1="188.5" x2="834.2" y2="196.1" stroke="#84878d" stroke-width="0.5"/>
<line x1="824.9" y1="186.6" x2="837.5" y2="194.3" stroke="#84878d" stroke-width="0.5"/>
<line x1="831.6" y1="182.8" x2="844.2" y2="190.4" stroke="#84878d" stroke-width="0.5"/>
<line x1="834.8" y1="181.0" x2="847.4" y2="188.6" stroke="#84878d" stroke-width="0.5"/>
<line x1="822.7" y1="192.7" x2="842.1" y2="181.5" stroke="#84878d" stroke-width="0.5"/>
<line x1="827.0" y1="195.3" x2="846.5" y2="184.2" stroke="#84878d" stroke-width="0.5"/>
<polygon points="809.7,210.6 829.6,199.2 829.6,201.2 809.7,212.6" fill="#3f4146" />
<polygon points="796.5,202.5 816.3,191.2 829.6,199.2 809.7,210.6" fill="#5c5f65" />
<line x1="806.4" y1="196.8" x2="819.7" y2="204.9" stroke="#c5c7cd" stroke-width="0.9"/>
<line x1="800.0" y1="200.9" x2="812.6" y2="208.5" stroke="#84878d" stroke-width="0.5"/>
<line x1="803.3" y1="199.0" x2="815.9" y2="206.7" stroke="#84878d" stroke-width="0.5"/>
<line x1="810.0" y1="195.2" x2="822.6" y2="202.8" stroke="#84878d" stroke-width="0.5"/>
<line x1="813.2" y1="193.3" x2="825.8" y2="201.0" stroke="#84878d" stroke-width="0.5"/>
<line x1="801.1" y1="205.1" x2="820.5" y2="193.9" stroke="#84878d" stroke-width="0.5"/>
<line x1="805.4" y1="207.7" x2="824.9" y2="196.6" stroke="#84878d" stroke-width="0.5"/>
<polygon points="869.1,195.6 889.0,184.2 889.0,186.2 869.1,197.6" fill="#3f4146" />
<polygon points="855.8,187.6 875.7,176.2 889.0,184.2 869.1,195.6" fill="#5c5f65" />
<line x1="865.8" y1="181.9" x2="879.0" y2="189.9" stroke="#c5c7cd" stroke-width="0.9"/>
<line x1="859.4" y1="185.9" x2="872.0" y2="193.6" stroke="#84878d" stroke-width="0.5"/>
<line x1="862.6" y1="184.1" x2="875.2" y2="191.7" stroke="#84878d" stroke-width="0.5"/>
<line x1="869.3" y1="180.2" x2="881.9" y2="187.9" stroke="#84878d" stroke-width="0.5"/>
<line x1="872.6" y1="178.4" x2="885.2" y2="186.0" stroke="#84878d" stroke-width="0.5"/>
<line x1="860.4" y1="190.1" x2="879.9" y2="179.0" stroke="#84878d" stroke-width="0.5"/>
<line x1="864.8" y1="192.7" x2="884.2" y2="181.6" stroke="#84878d" stroke-width="0.5"/>
<polygon points="847.5,208.0 867.4,196.6 867.4,198.6 847.5,210.0" fill="#3f4146" />
<polygon points="834.2,200.0 854.1,188.6 867.4,196.6 847.5,208.0" fill="#5c5f65" />
<line x1="844.2" y1="194.3" x2="857.4" y2="202.3" stroke="#c5c7cd" stroke-width="0.9"/>
<line x1="837.8" y1="198.3" x2="850.4" y2="205.9" stroke="#84878d" stroke-width="0.5"/>
<line x1="841.0" y1="196.4" x2="853.6" y2="204.1" stroke="#84878d" stroke-width="0.5"/>
<line x1="847.7" y1="192.6" x2="860.3" y2="200.2" stroke="#84878d" stroke-width="0.5"/>
<line x1="851.0" y1="190.7" x2="863.6" y2="198.4" stroke="#84878d" stroke-width="0.5"/>
<line x1="838.8" y1="202.5" x2="858.3" y2="191.3" stroke="#84878d" stroke-width="0.5"/>
<line x1="843.2" y1="205.1" x2="862.6" y2="194.0" stroke="#84878d" stroke-width="0.5"/>
<polygon points="825.9,220.3 845.8,209.0 845.8,211.0 825.9,222.3" fill="#3f4146" />
<polygon points="812.6,212.3 832.5,200.9 845.8,209.0 825.9,220.3" fill="#5c5f65" />
<line x1="822.6" y1="206.6" x2="835.8" y2="214.7" stroke="#c5c7cd" stroke-width="0.9"/>
<line x1="816.2" y1="210.7" x2="828.8" y2="218.3" stroke="#84878d" stroke-width="0.5"/>
<line x1="819.4" y1="208.8" x2="832.0" y2="216.4" stroke="#84878d" stroke-width="0.5"/>
<line x1="826.1" y1="205.0" x2="838.7" y2="212.6" stroke="#84878d" stroke-width="0.5"/>
<line x1="829.4" y1="203.1" x2="842.0" y2="210.8" stroke="#84878d" stroke-width="0.5"/>
<line x1="817.2" y1="214.8" x2="836.7" y2="203.7" stroke="#84878d" stroke-width="0.5"/>
<line x1="821.6" y1="217.5" x2="841.0" y2="206.4" stroke="#84878d" stroke-width="0.5"/>
<polygon points="885.2,205.4 905.1,194.0 905.1,196.0 885.2,207.4" fill="#3f4146" />
<polygon points="872.0,197.4 891.9,186.0 905.1,194.0 885.2,205.4" fill="#5c5f65" />
<line x1="881.9" y1="191.7" x2="895.2" y2="199.7" stroke="#c5c7cd" stroke-width="0.9"/>
<line x1="875.6" y1="195.7" x2="888.2" y2="203.3" stroke="#84878d" stroke-width="0.5"/>
<line x1="878.8" y1="193.9" x2="891.4" y2="201.5" stroke="#84878d" stroke-width="0.5"/>
<line x1="885.5" y1="190.0" x2="898.1" y2="197.7" stroke="#84878d" stroke-width="0.5"/>
<line x1="888.7" y1="188.2" x2="901.3" y2="195.8" stroke="#84878d" stroke-width="0.5"/>
<line x1="876.6" y1="199.9" x2="896.0" y2="188.8" stroke="#84878d" stroke-width="0.5"/>
<line x1="880.9" y1="202.5" x2="900.4" y2="191.4" stroke="#84878d" stroke-width="0.5"/>
<polygon points="863.6,217.8 883.5,206.4 883.5,208.4 863.6,219.8" fill="#3f4146" />
<polygon points="850.4,209.7 870.3,198.4 883.5,206.4 863.6,217.8" fill="#5c5f65" />
<line x1="860.3" y1="204.1" x2="873.6" y2="212.1" stroke="#c5c7cd" stroke-width="0.9"/>
<line x1="854.0" y1="208.1" x2="866.6" y2="215.7" stroke="#84878d" stroke-width="0.5"/>
<line x1="857.2" y1="206.2" x2="869.8" y2="213.9" stroke="#84878d" stroke-width="0.5"/>
<line x1="863.9" y1="202.4" x2="876.5" y2="210.0" stroke="#84878d" stroke-width="0.5"/>
<line x1="867.1" y1="200.5" x2="879.7" y2="208.2" stroke="#84878d" stroke-width="0.5"/>
<line x1="855.0" y1="212.3" x2="874.4" y2="201.1" stroke="#84878d" stroke-width="0.5"/>
<line x1="859.3" y1="214.9" x2="878.8" y2="203.8" stroke="#84878d" stroke-width="0.5"/>
<polygon points="842.0,230.1 861.9,218.8 861.9,220.8 842.0,232.1" fill="#3f4146" />
<polygon points="828.8,222.1 848.7,210.7 861.9,218.8 842.0,230.1" fill="#5c5f65" />
<line x1="838.7" y1="216.4" x2="852.0" y2="224.4" stroke="#c5c7cd" stroke-width="0.9"/>
<line x1="832.4" y1="220.5" x2="845.0" y2="228.1" stroke="#84878d" stroke-width="0.5"/>
<line x1="835.6" y1="218.6" x2="848.2" y2="226.2" stroke="#84878d" stroke-width="0.5"/>
<line x1="842.3" y1="214.8" x2="854.9" y2="222.4" stroke="#84878d" stroke-width="0.5"/>
<line x1="845.5" y1="212.9" x2="858.1" y2="220.5" stroke="#84878d" stroke-width="0.5"/>
<line x1="833.4" y1="224.6" x2="852.8" y2="213.5" stroke="#84878d" stroke-width="0.5"/>
<line x1="837.7" y1="227.3" x2="857.2" y2="216.1" stroke="#84878d" stroke-width="0.5"/>
<polygon points="901.4,215.2 921.3,203.8 921.3,205.8 901.4,217.2" fill="#3f4146" />
<polygon points="888.2,207.2 908.0,195.8 921.3,203.8 901.4,215.2" fill="#5c5f65" />
<line x1="898.1" y1="201.5" x2="911.3" y2="209.5" stroke="#c5c7cd" stroke-width="0.9"/>
<line x1="891.7" y1="205.5" x2="904.3" y2="213.1" stroke="#84878d" stroke-width="0.5"/>
<line x1="895.0" y1="203.6" x2="907.6" y2="211.3" stroke="#84878d" stroke-width="0.5"/>
<line x1="901.7" y1="199.8" x2="914.3" y2="207.4" stroke="#84878d" stroke-width="0.5"/>
<line x1="904.9" y1="198.0" x2="917.5" y2="205.6" stroke="#84878d" stroke-width="0.5"/>
<line x1="892.7" y1="209.7" x2="912.2" y2="198.5" stroke="#84878d" stroke-width="0.5"/>
<line x1="897.1" y1="212.3" x2="916.5" y2="201.2" stroke="#84878d" stroke-width="0.5"/>
<polygon points="879.8,227.6 899.7,216.2 899.7,218.2 879.8,229.6" fill="#3f4146" />
<polygon points="866.6,219.5 886.4,208.2 899.7,216.2 879.8,227.6" fill="#5c5f65" />
<line x1="876.5" y1="213.8" x2="889.7" y2="221.9" stroke="#c5c7cd" stroke-width="0.9"/>
<line x1="870.1" y1="217.9" x2="882.7" y2="225.5" stroke="#84878d" stroke-width="0.5"/>
<line x1="873.4" y1="216.0" x2="886.0" y2="223.7" stroke="#84878d" stroke-width="0.5"/>
<line x1="880.1" y1="212.2" x2="892.7" y2="219.8" stroke="#84878d" stroke-width="0.5"/>
<line x1="883.3" y1="210.3" x2="895.9" y2="218.0" stroke="#84878d" stroke-width="0.5"/>
<line x1="871.1" y1="222.1" x2="890.6" y2="210.9" stroke="#84878d" stroke-width="0.5"/>
<line x1="875.5" y1="224.7" x2="894.9" y2="213.6" stroke="#84878d" stroke-width="0.5"/>
<polygon points="858.2,239.9 878.1,228.5 878.1,230.5 858.2,241.9" fill="#3f4146" />
<polygon points="845.0,231.9 864.8,220.5 878.1,228.5 858.2,239.9" fill="#5c5f65" />
<line x1="854.9" y1="226.2" x2="868.1" y2="234.2" stroke="#c5c7cd" stroke-width="0.9"/>
<line x1="848.5" y1="230.2" x2="861.1" y2="237.9" stroke="#84878d" stroke-width="0.5"/>
<line x1="851.8" y1="228.4" x2="864.4" y2="236.0" stroke="#84878d" stroke-width="0.5"/>
<line x1="858.5" y1="224.6" x2="871.1" y2="232.2" stroke="#84878d" stroke-width="0.5"/>
<line x1="861.7" y1="222.7" x2="874.3" y2="230.3" stroke="#84878d" stroke-width="0.5"/>
<line x1="849.5" y1="234.4" x2="869.0" y2="223.3" stroke="#84878d" stroke-width="0.5"/>
<line x1="853.9" y1="237.1" x2="873.3" y2="225.9" stroke="#84878d" stroke-width="0.5"/>
<polygon points="917.6,225.0 937.4,213.6 937.4,215.6 917.6,227.0" fill="#3f4146" />
<polygon points="904.3,217.0 924.2,205.6 937.4,213.6 917.6,225.0" fill="#5c5f65" />
<line x1="914.3" y1="211.3" x2="927.5" y2="219.3" stroke="#c5c7cd" stroke-width="0.9"/>
<line x1="907.9" y1="215.3" x2="920.5" y2="222.9" stroke="#84878d" stroke-width="0.5"/>
<line x1="911.1" y1="213.4" x2="923.7" y2="221.1" stroke="#84878d" stroke-width="0.5"/>
<line x1="917.8" y1="209.6" x2="930.4" y2="217.2" stroke="#84878d" stroke-width="0.5"/>
<line x1="921.1" y1="207.7" x2="933.7" y2="215.4" stroke="#84878d" stroke-width="0.5"/>
<line x1="908.9" y1="219.5" x2="928.3" y2="208.3" stroke="#84878d" stroke-width="0.5"/>
<line x1="913.3" y1="222.1" x2="932.7" y2="211.0" stroke="#84878d" stroke-width="0.5"/>
<polygon points="896.0,237.3 915.8,226.0 915.8,228.0 896.0,239.3" fill="#3f4146" />
<polygon points="882.7,229.3 902.6,217.9 915.8,226.0 896.0,237.3" fill="#5c5f65" />
<line x1="892.7" y1="223.6" x2="905.9" y2="231.7" stroke="#c5c7cd" stroke-width="0.9"/>
<line x1="886.3" y1="227.7" x2="898.9" y2="235.3" stroke="#84878d" stroke-width="0.5"/>
<line x1="889.5" y1="225.8" x2="902.1" y2="233.4" stroke="#84878d" stroke-width="0.5"/>
<line x1="896.2" y1="222.0" x2="908.8" y2="229.6" stroke="#84878d" stroke-width="0.5"/>
<line x1="899.5" y1="220.1" x2="912.1" y2="227.8" stroke="#84878d" stroke-width="0.5"/>
<line x1="887.3" y1="231.8" x2="906.7" y2="220.7" stroke="#84878d" stroke-width="0.5"/>
<line x1="891.7" y1="234.5" x2="911.1" y2="223.4" stroke="#84878d" stroke-width="0.5"/>
<polygon points="874.4,249.7 894.2,238.3 894.2,240.3 874.4,251.7" fill="#3f4146" />
<polygon points="861.1,241.7 881.0,230.3 894.2,238.3 874.4,249.7" fill="#5c5f65" />
<line x1="871.1" y1="236.0" x2="884.3" y2="244.0" stroke="#c5c7cd" stroke-width="0.9"/>
<line x1="864.7" y1="240.0" x2="877.3" y2="247.7" stroke="#84878d" stroke-width="0.5"/>
<line x1="867.9" y1="238.2" x2="880.5" y2="245.8" stroke="#84878d" stroke-width="0.5"/>
<line x1="874.6" y1="234.3" x2="887.2" y2="242.0" stroke="#84878d" stroke-width="0.5"/>
<line x1="877.9" y1="232.5" x2="890.5" y2="240.1" stroke="#84878d" stroke-width="0.5"/>
<line x1="865.7" y1="244.2" x2="885.1" y2="233.1" stroke="#84878d" stroke-width="0.5"/>
<line x1="870.1" y1="246.9" x2="889.5" y2="235.7" stroke="#84878d" stroke-width="0.5"/>
<polygon points="933.7,234.8 953.6,223.4 953.6,225.4 933.7,236.8" fill="#3f4146" />
<polygon points="920.5,226.7 940.3,215.4 953.6,223.4 933.7,234.8" fill="#5c5f65" />
<line x1="930.4" y1="221.1" x2="943.7" y2="229.1" stroke="#c5c7cd" stroke-width="0.9"/>
<line x1="924.0" y1="225.1" x2="936.6" y2="232.7" stroke="#84878d" stroke-width="0.5"/>
<line x1="927.3" y1="223.2" x2="939.9" y2="230.9" stroke="#84878d" stroke-width="0.5"/>
<line x1="934.0" y1="219.4" x2="946.6" y2="227.0" stroke="#84878d" stroke-width="0.5"/>
<line x1="937.2" y1="217.5" x2="949.8" y2="225.2" stroke="#84878d" stroke-width="0.5"/>
<line x1="925.1" y1="229.3" x2="944.5" y2="218.1" stroke="#84878d" stroke-width="0.5"/>
<line x1="929.4" y1="231.9" x2="948.9" y2="220.8" stroke="#84878d" stroke-width="0.5"/>
<polygon points="912.1,247.1 932.0,235.8 932.0,237.8 912.1,249.1" fill="#3f4146" />
<polygon points="898.9,239.1 918.7,227.7 932.0,235.8 912.1,247.1" fill="#5c5f65" />
<line x1="908.8" y1="233.4" x2="922.1" y2="241.4" stroke="#c5c7cd" stroke-width="0.9"/>
<line x1="902.4" y1="237.5" x2="915.0" y2="245.1" stroke="#84878d" stroke-width="0.5"/>
<line x1="905.7" y1="235.6" x2="918.3" y2="243.2" stroke="#84878d" stroke-width="0.5"/>
<line x1="912.4" y1="231.8" x2="925.0" y2="239.4" stroke="#84878d" stroke-width="0.5"/>
<line x1="915.6" y1="229.9" x2="928.2" y2="237.5" stroke="#84878d" stroke-width="0.5"/>
<line x1="903.5" y1="241.6" x2="922.9" y2="230.5" stroke="#84878d" stroke-width="0.5"/>
<line x1="907.8" y1="244.3" x2="927.3" y2="233.1" stroke="#84878d" stroke-width="0.5"/>
<polygon points="890.5,259.5 910.4,248.1 910.4,250.1 890.5,261.5" fill="#3f4146" />
<polygon points="877.3,251.5 897.1,240.1 910.4,248.1 890.5,259.5" fill="#5c5f65" />
<line x1="887.2" y1="245.8" x2="900.5" y2="253.8" stroke="#c5c7cd" stroke-width="0.9"/>
<line x1="880.8" y1="249.8" x2="893.4" y2="257.5" stroke="#84878d" stroke-width="0.5"/>
<line x1="884.1" y1="248.0" x2="896.7" y2="255.6" stroke="#84878d" stroke-width="0.5"/>
<line x1="890.8" y1="244.1" x2="903.4" y2="251.8" stroke="#84878d" stroke-width="0.5"/>
<line x1="894.0" y1="242.3" x2="906.6" y2="249.9" stroke="#84878d" stroke-width="0.5"/>
<line x1="881.9" y1="254.0" x2="901.3" y2="242.9" stroke="#84878d" stroke-width="0.5"/>
<line x1="886.2" y1="256.6" x2="905.7" y2="245.5" stroke="#84878d" stroke-width="0.5"/>
<polygon points="949.9,244.6 969.8,233.2 969.8,235.2 949.9,246.6" fill="#3f4146" />
<polygon points="936.6,236.5 956.5,225.2 969.8,233.2 949.9,244.6" fill="#5c5f65" />
<line x1="946.6" y1="230.8" x2="959.8" y2="238.9" stroke="#c5c7cd" stroke-width="0.9"/>
<line x1="940.2" y1="234.9" x2="952.8" y2="242.5" stroke="#84878d" stroke-width="0.5"/>
<line x1="943.4" y1="233.0" x2="956.0" y2="240.7" stroke="#84878d" stroke-width="0.5"/>
<line x1="950.1" y1="229.2" x2="962.7" y2="236.8" stroke="#84878d" stroke-width="0.5"/>
<line x1="953.4" y1="227.3" x2="966.0" y2="235.0" stroke="#84878d" stroke-width="0.5"/>
<line x1="941.2" y1="239.1" x2="960.7" y2="227.9" stroke="#84878d" stroke-width="0.5"/>
<line x1="945.6" y1="241.7" x2="965.0" y2="230.6" stroke="#84878d" stroke-width="0.5"/>
<polygon points="928.3,256.9 948.2,245.5 948.2,247.5 928.3,258.9" fill="#3f4146" />
<polygon points="915.0,248.9 934.9,237.5 948.2,245.5 928.3,256.9" fill="#5c5f65" />
<line x1="925.0" y1="243.2" x2="938.2" y2="251.2" stroke="#c5c7cd" stroke-width="0.9"/>
<line x1="918.6" y1="247.2" x2="931.2" y2="254.9" stroke="#84878d" stroke-width="0.5"/>
<line x1="921.8" y1="245.4" x2="934.4" y2="253.0" stroke="#84878d" stroke-width="0.5"/>
<line x1="928.5" y1="241.6" x2="941.1" y2="249.2" stroke="#84878d" stroke-width="0.5"/>
<line x1="931.8" y1="239.7" x2="944.4" y2="247.3" stroke="#84878d" stroke-width="0.5"/>
<line x1="919.6" y1="251.4" x2="939.1" y2="240.3" stroke="#84878d" stroke-width="0.5"/>
<line x1="924.0" y1="254.1" x2="943.4" y2="242.9" stroke="#84878d" stroke-width="0.5"/>
<polygon points="906.7,269.3 926.6,257.9 926.6,259.9 906.7,271.3" fill="#3f4146" />
<polygon points="893.4,261.3 913.3,249.9 926.6,257.9 906.7,269.3" fill="#5c5f65" />
<line x1="903.4" y1="255.6" x2="916.6" y2="263.6" stroke="#c5c7cd" stroke-width="0.9"/>
<line x1="897.0" y1="259.6" x2="909.6" y2="267.2" stroke="#84878d" stroke-width="0.5"/>
<line x1="900.2" y1="257.8" x2="912.8" y2="265.4" stroke="#84878d" stroke-width="0.5"/>
<line x1="906.9" y1="253.9" x2="919.5" y2="261.6" stroke="#84878d" stroke-width="0.5"/>
<line x1="910.2" y1="252.1" x2="922.8" y2="259.7" stroke="#84878d" stroke-width="0.5"/>
<line x1="898.0" y1="263.8" x2="917.5" y2="252.7" stroke="#84878d" stroke-width="0.5"/>
<line x1="902.4" y1="266.4" x2="921.8" y2="255.3" stroke="#84878d" stroke-width="0.5"/>
<polygon points="966.0,254.3 985.9,243.0 985.9,245.0 966.0,256.3" fill="#3f4146" />
<polygon points="952.8,246.3 972.7,234.9 985.9,243.0 966.0,254.3" fill="#5c5f65" />
<line x1="962.7" y1="240.6" x2="976.0" y2="248.7" stroke="#c5c7cd" stroke-width="0.9"/>
<line x1="956.4" y1="244.7" x2="969.0" y2="252.3" stroke="#84878d" stroke-width="0.5"/>
<line x1="959.6" y1="242.8" x2="972.2" y2="250.4" stroke="#84878d" stroke-width="0.5"/>
<line x1="966.3" y1="239.0" x2="978.9" y2="246.6" stroke="#84878d" stroke-width="0.5"/>
<line x1="969.5" y1="237.1" x2="982.1" y2="244.8" stroke="#84878d" stroke-width="0.5"/>
<line x1="957.4" y1="248.8" x2="976.8" y2="237.7" stroke="#84878d" stroke-width="0.5"/>
<line x1="961.7" y1="251.5" x2="981.2" y2="240.4" stroke="#84878d" stroke-width="0.5"/>
<polygon points="944.4,266.7 964.3,255.3 964.3,257.3 944.4,268.7" fill="#3f4146" />
<polygon points="931.2,258.7 951.1,247.3 964.3,255.3 944.4,266.7" fill="#5c5f65" />
<line x1="941.1" y1="253.0" x2="954.4" y2="261.0" stroke="#c5c7cd" stroke-width="0.9"/>
<line x1="934.8" y1="257.0" x2="947.4" y2="264.7" stroke="#84878d" stroke-width="0.5"/>
<line x1="938.0" y1="255.2" x2="950.6" y2="262.8" stroke="#84878d" stroke-width="0.5"/>
<line x1="944.7" y1="251.3" x2="957.3" y2="259.0" stroke="#84878d" stroke-width="0.5"/>
<line x1="947.9" y1="249.5" x2="960.5" y2="257.1" stroke="#84878d" stroke-width="0.5"/>
<line x1="935.8" y1="261.2" x2="955.2" y2="250.1" stroke="#84878d" stroke-width="0.5"/>
<line x1="940.1" y1="263.9" x2="959.6" y2="252.7" stroke="#84878d" stroke-width="0.5"/>
<polygon points="922.8,279.1 942.7,267.7 942.7,269.7 922.8,281.1" fill="#3f4146" />
<polygon points="909.6,271.1 929.5,259.7 942.7,267.7 922.8,279.1" fill="#5c5f65" />
<line x1="919.5" y1="265.4" x2="932.8" y2="273.4" stroke="#c5c7cd" stroke-width="0.9"/>
<line x1="913.2" y1="269.4" x2="925.8" y2="277.0" stroke="#84878d" stroke-width="0.5"/>
<line x1="916.4" y1="267.5" x2="929.0" y2="275.2" stroke="#84878d" stroke-width="0.5"/>
<line x1="923.1" y1="263.7" x2="935.7" y2="271.3" stroke="#84878d" stroke-width="0.5"/>
<line x1="926.3" y1="261.9" x2="938.9" y2="269.5" stroke="#84878d" stroke-width="0.5"/>
<line x1="914.2" y1="273.6" x2="933.6" y2="262.4" stroke="#84878d" stroke-width="0.5"/>
<line x1="918.5" y1="276.2" x2="938.0" y2="265.1" stroke="#84878d" stroke-width="0.5"/>
<polygon points="743.5,180.6 823.4,226.6 823.4,239.9 743.5,193.9" fill="#7a7d85" />
<text transform="matrix(0.868,0.495,0,1,747.0,193.9)" font-size="11.4" font-weight="bold" fill="#fff" textLength="84.5" lengthAdjust="spacingAndGlyphs" >PRODUKTION</text>
<polygon points="783.0,341.0 794.0,335.0 805.0,341.0 794.0,347.0" fill="#c2c5cd" />
<polygon points="783.0,341.0 794.0,347.0 794.0,349.5 783.0,343.5" fill="#a5a9b4" />
<polygon points="805.0,341.0 794.0,347.0 794.0,349.5 805.0,343.5" fill="#9498a4" />
<path d="M787.8,340.0 V244.0 M800.2,340.0 V244.0 M794.0,342.0 V244.0M787.8,340.0 L794.0,332.0 L800.2,340.0 M787.8,332.0 L794.0,340.0 L800.2,332.0 M787.8,332.0 H800.2M787.8,332.0 L794.0,324.0 L800.2,332.0 M787.8,324.0 L794.0,332.0 L800.2,324.0 M787.8,324.0 H800.2M787.8,324.0 L794.0,316.0 L800.2,324.0 M787.8,316.0 L794.0,324.0 L800.2,316.0 M787.8,316.0 H800.2M787.8,316.0 L794.0,308.0 L800.2,316.0 M787.8,308.0 L794.0,316.0 L800.2,308.0 M787.8,308.0 H800.2M787.8,308.0 L794.0,300.0 L800.2,308.0 M787.8,300.0 L794.0,308.0 L800.2,300.0 M787.8,300.0 H800.2M787.8,300.0 L794.0,292.0 L800.2,300.0 M787.8,292.0 L794.0,300.0 L800.2,292.0 M787.8,292.0 H800.2M787.8,292.0 L794.0,284.0 L800.2,292.0 M787.8,284.0 L794.0,292.0 L800.2,284.0 M787.8,284.0 H800.2M787.8,284.0 L794.0,276.0 L800.2,284.0 M787.8,276.0 L794.0,284.0 L800.2,276.0 M787.8,276.0 H800.2M787.8,276.0 L794.0,268.0 L800.2,276.0 M787.8,268.0 L794.0,276.0 L800.2,268.0 M787.8,268.0 H800.2M787.8,268.0 L794.0,260.0 L800.2,268.0 M787.8,260.0 L794.0,268.0 L800.2,260.0 M787.8,260.0 H800.2M787.8,260.0 L794.0,252.0 L800.2,260.0 M787.8,252.0 L794.0,260.0 L800.2,252.0 M787.8,252.0 H800.2M787.8,252.0 L794.0,244.0 L800.2,252.0 M787.8,244.0 L794.0,252.0 L800.2,244.0 M787.8,244.0 H800.2" stroke="#f3bd45" stroke-width="1.05" fill="none"/>
<polygon points="748.0,217.8 815.0,256.0 815.0,261.4 748.0,226.8" fill="#f6cf6a" />
<path d="M748.0,217.8 L815.0,256.0 M748.0,226.8 L815.0,261.4" stroke="#f3bd45" stroke-width="1.60" fill="none"/>
<path d="M748.0,225.9 L754.1,221.3M754.1,229.4 L760.2,224.7M760.2,232.8 L766.3,228.2M766.3,236.3 L772.4,231.7M772.4,239.8 L778.5,235.1M778.5,243.2 L784.5,238.6M784.5,246.7 L790.6,242.1M790.6,250.2 L796.7,245.6M796.7,253.7 L802.8,249.0M802.8,257.1 L808.9,252.5M808.9,260.6 L815.0,256.0" stroke="#dda530" stroke-width="0.90" fill="none"/>
<polygon points="758.0,226.5 788.0,243.6 788.0,246.1 758.0,229.0" fill="#8d8f98" />
<polygon points="811.0,254.0 817.0,257.0 817.0,263.0 811.0,260.0" fill="#f3a93a" />
<path d="M753.0,228.7 v12.2 M755.4,230.1 v12.2" stroke="#8b8e97" stroke-width="1.40" fill="none"/>
<path d="M751.8,241.0 h5.0 v2.4 h-5.0 z" fill="#a5a8b1"/>
<path d="M754.2,243.0 v3.5 q0.2,2.5 2.6,1.0" stroke="#8b8e97" stroke-width="1.20" fill="none"/>
<polygon points="409.4,434.2 507.5,492.5 507.5,522.5 409.4,461.2" fill="#8d7b6b" />
<polygon points="507.5,492.5 599.0,440.5 599.0,467.5 507.5,522.5" fill="#8ed3ca" />
<polygon points="507.5,492.5 516.5,487.5 516.5,517.3 507.5,522.5" fill="#5a4337" />
<polygon points="589.0,445.0 599.0,439.4 599.0,468.5 589.0,474.0" fill="#5a4337" />
<polygon points="583.0,448.6 589.0,445.0 589.0,474.0 583.0,471.0" fill="#96826f" />
<line x1="531" y1="481.1" x2="531" y2="509.1" stroke="#4e3c33" stroke-width="1.4"/>
<line x1="538.5" y1="476.8" x2="538.5" y2="504.8" stroke="#4e3c33" stroke-width="1.4"/>
<line x1="561" y1="464.0" x2="561" y2="492.0" stroke="#4e3c33" stroke-width="1.4"/>
<line x1="567.5" y1="460.3" x2="567.5" y2="488.3" stroke="#4e3c33" stroke-width="1.4"/>
<polygon points="406.4,430.2 507.5,489.5 507.5,496.5 406.4,437.2" fill="#3ea197" />
<polygon points="507.5,489.5 602.0,436.5 602.0,443.5 507.5,496.5" fill="#35938a" />
<polygon points="406.4,430.2 497.9,371.3 602.0,436.5 507.5,489.5" fill="#4fb3a8" />
<polygon points="416.3,429.7 497.9,376.3 592.1,436.0 507.5,483.5" fill="#61beb3" />
<polygon points="406.4,430.2 416.3,429.7 507.5,483.5 507.5,489.5" fill="#48aba0" />
<polygon points="507.5,489.5 507.5,483.5 592.1,436.0 602.0,436.5" fill="#43a59a" />
<polygon points="491.0,391.3 502.0,385.0 513.0,391.3 502.0,397.6" fill="#8e7d6d" />
<polygon points="491.0,391.3 502.0,397.6 502.0,400.6 491.0,394.3" fill="#7a695b" />
<polygon points="513.0,391.3 502.0,397.6 502.0,400.6 513.0,394.3" fill="#5f5046" />
<ellipse cx="502.0" cy="391.3" rx="5.6" ry="3.3" fill="#4a3f39" />
<ellipse cx="502.0" cy="391.3" rx="2.8" ry="1.6" fill="#9a8a7a" />
<polygon points="477.5,398.9 488.5,392.6 499.5,398.9 488.5,405.2" fill="#8e7d6d" />
<polygon points="477.5,398.9 488.5,405.2 488.5,408.2 477.5,401.9" fill="#7a695b" />
<polygon points="499.5,398.9 488.5,405.2 488.5,408.2 499.5,401.9" fill="#5f5046" />
<ellipse cx="488.5" cy="398.9" rx="5.6" ry="3.3" fill="#4a3f39" />
<ellipse cx="488.5" cy="398.9" rx="2.8" ry="1.6" fill="#9a8a7a" />
<polygon points="504.5,398.9 515.5,392.6 526.5,398.9 515.5,405.2" fill="#8e7d6d" />
<polygon points="504.5,398.9 515.5,405.2 515.5,408.2 504.5,401.9" fill="#7a695b" />
<polygon points="526.5,398.9 515.5,405.2 515.5,408.2 526.5,401.9" fill="#5f5046" />
<ellipse cx="515.5" cy="398.9" rx="5.6" ry="3.3" fill="#4a3f39" />
<ellipse cx="515.5" cy="398.9" rx="2.8" ry="1.6" fill="#9a8a7a" />
<polygon points="491.0,406.5 502.0,400.2 513.0,406.5 502.0,412.8" fill="#8e7d6d" />
<polygon points="491.0,406.5 502.0,412.8 502.0,415.8 491.0,409.5" fill="#7a695b" />
<polygon points="513.0,406.5 502.0,412.8 502.0,415.8 513.0,409.5" fill="#5f5046" />
<ellipse cx="502.0" cy="406.5" rx="5.6" ry="3.3" fill="#4a3f39" />
<ellipse cx="502.0" cy="406.5" rx="2.8" ry="1.6" fill="#9a8a7a" />
<polygon points="453.5,413.3 464.5,407.0 475.5,413.3 464.5,419.6" fill="#8e7d6d" />
<polygon points="453.5,413.3 464.5,419.6 464.5,422.6 453.5,416.3" fill="#7a695b" />
<polygon points="475.5,413.3 464.5,419.6 464.5,422.6 475.5,416.3" fill="#5f5046" />
<ellipse cx="464.5" cy="413.3" rx="5.6" ry="3.3" fill="#4a3f39" />
<ellipse cx="464.5" cy="413.3" rx="2.8" ry="1.6" fill="#9a8a7a" />
<polygon points="440.0,420.9 451.0,414.6 462.0,420.9 451.0,427.2" fill="#8e7d6d" />
<polygon points="440.0,420.9 451.0,427.2 451.0,430.2 440.0,423.9" fill="#7a695b" />
<polygon points="462.0,420.9 451.0,427.2 451.0,430.2 462.0,423.9" fill="#5f5046" />
<ellipse cx="451.0" cy="420.9" rx="5.6" ry="3.3" fill="#4a3f39" />
<ellipse cx="451.0" cy="420.9" rx="2.8" ry="1.6" fill="#9a8a7a" />
<polygon points="467.0,420.9 478.0,414.6 489.0,420.9 478.0,427.2" fill="#8e7d6d" />
<polygon points="467.0,420.9 478.0,427.2 478.0,430.2 467.0,423.9" fill="#7a695b" />
<polygon points="489.0,420.9 478.0,427.2 478.0,430.2 489.0,423.9" fill="#5f5046" />
<ellipse cx="478.0" cy="420.9" rx="5.6" ry="3.3" fill="#4a3f39" />
<ellipse cx="478.0" cy="420.9" rx="2.8" ry="1.6" fill="#9a8a7a" />
<polygon points="453.5,428.5 464.5,422.2 475.5,428.5 464.5,434.8" fill="#8e7d6d" />
<polygon points="453.5,428.5 464.5,434.8 464.5,437.8 453.5,431.5" fill="#7a695b" />
<polygon points="475.5,428.5 464.5,434.8 464.5,437.8 475.5,431.5" fill="#5f5046" />
<ellipse cx="464.5" cy="428.5" rx="5.6" ry="3.3" fill="#4a3f39" />
<ellipse cx="464.5" cy="428.5" rx="2.8" ry="1.6" fill="#9a8a7a" />
<polygon points="528.0,457.0 581.5,426.0 583.0,443.5 528.0,475.5" fill="#2f2b2c" />
<text transform="matrix(0.868,-0.495,0,1,530.6,470.4)" font-size="12.6" font-weight="bold" fill="#fff" textLength="52" lengthAdjust="spacingAndGlyphs" >CAFETERIA</text>
<polygon points="631.6,31.3 640.3,26.3 660.4,37.6 651.6,42.6" fill="#9c9fa8" />
<polygon points="651.6,42.6 660.4,37.6 660.4,70.2 651.6,75.2" fill="#85888f" />
<polygon points="631.6,31.3 651.6,42.6 651.6,75.2 631.6,63.9" fill="#d4d6dc" />
<polygon points="633.6,35.5 649.6,44.5 649.6,58.5 633.6,49.5" fill="#f5f6f8" />
<polygon points="635.0,38.6 643.5,43.4 643.5,46.6 635.0,41.8" fill="#3c3d42" />
<circle cx="646.5" cy="47.6" r="1.1" fill="#c8403a" />
<polygon points="633.6,53.5 649.6,62.5 649.6,71.0 633.6,62.0" fill="#c4c7ce" />
<ellipse cx="419.7" cy="326.0" rx="18.525" ry="8.19" fill="#3c4166" fill-opacity="0.13"/>
<polygon points="404.9,325.5 406.8,319.5 411.2,319.5 413.1,325.5" fill="#7a5c4d" />
<ellipse cx="409.0" cy="325.5" rx="4.68" ry="2.4960000000000004" fill="#6b4f43" />
<polygon points="426.8,311.9 414.7,324.3 397.9,322.1 389.1,306.9 394.9,290.2 410.9,284.6 425.1,294.2" fill="#8aa92e" />
<polygon points="389.1,306.9 394.9,290.2 410.9,284.6 425.1,294.2 413.4,302.9 402.6,309.8" fill="#9dbb36" />
<polygon points="394.9,290.2 410.9,284.6 410.4,298.1 399.7,302.9" fill="#a9c640" />
<polygon points="426.8,311.9 414.7,324.3 397.9,322.1 406.6,313.6 415.3,307.8" fill="#769528" />
<polygon points="414.7,324.3 397.9,322.1 407.5,316.6" fill="#688723" />
<ellipse cx="424.3" cy="323.5" rx="10.924999999999999" ry="4.83" fill="#3c4166" fill-opacity="0.13"/>
<polygon points="415.4,323.0 416.6,322.0 419.4,322.0 420.6,323.0" fill="#7a5c4d" />
<ellipse cx="418.0" cy="323.0" rx="3.0" ry="1.6" fill="#6b4f43" />
<polygon points="428.3,317.5 421.2,324.8 411.3,323.5 406.1,314.6 409.5,304.7 418.9,301.4 427.3,307.1" fill="#8aa92e" />
<polygon points="406.1,314.6 409.5,304.7 418.9,301.4 427.3,307.1 420.4,312.2 414.1,316.2" fill="#9dbb36" />
<polygon points="409.5,304.7 418.9,301.4 418.6,309.4 412.3,312.2" fill="#a9c640" />
<polygon points="428.3,317.5 421.2,324.8 411.3,323.5 416.4,318.6 421.5,315.1" fill="#769528" />
<polygon points="421.2,324.8 411.3,323.5 416.9,320.3" fill="#688723" />
<ellipse cx="814.2" cy="440.9" rx="14.725" ry="6.51" fill="#3c4166" fill-opacity="0.13"/>
<polygon points="802.5,440.4 804.0,434.4 807.4,434.4 808.9,440.4" fill="#7a5c4d" />
<ellipse cx="805.7" cy="440.4" rx="3.7199999999999998" ry="1.984" fill="#6b4f43" />
<polygon points="819.8,428.4 810.1,438.2 796.8,436.4 789.8,424.4 794.4,411.1 807.1,406.6 818.4,414.3" fill="#8aa92e" />
<polygon points="789.8,424.4 794.4,411.1 807.1,406.6 818.4,414.3 809.1,421.2 800.6,426.6" fill="#9dbb36" />
<polygon points="794.4,411.1 807.1,406.6 806.8,417.3 798.2,421.2" fill="#a9c640" />
<polygon points="819.8,428.4 810.1,438.2 796.8,436.4 803.7,429.8 810.6,425.1" fill="#769528" />
<polygon points="810.1,438.2 796.8,436.4 804.4,432.1" fill="#688723" />
<ellipse cx="844.0" cy="450.9" rx="19.0" ry="8.4" fill="#3c4166" fill-opacity="0.13"/>
<polygon points="828.8,450.4 830.8,442.4 835.2,442.4 837.2,450.4" fill="#7a5c4d" />
<ellipse cx="833.0" cy="450.4" rx="4.800000000000001" ry="2.5600000000000005" fill="#6b4f43" />
<polygon points="851.3,434.6 838.9,447.3 821.6,445.0 812.6,429.5 818.5,412.4 835.0,406.6 849.6,416.5" fill="#8aa92e" />
<polygon points="812.6,429.5 818.5,412.4 835.0,406.6 849.6,416.5 837.5,425.4 826.5,432.4" fill="#9dbb36" />
<polygon points="818.5,412.4 835.0,406.6 834.5,420.4 823.5,425.4" fill="#a9c640" />
<polygon points="851.3,434.6 838.9,447.3 821.6,445.0 830.5,436.4 839.5,430.4" fill="#769528" />
<polygon points="838.9,447.3 821.6,445.0 831.5,439.4" fill="#688723" />
<ellipse cx="822.0" cy="439.5" rx="10.45" ry="4.62" fill="#3c4166" fill-opacity="0.13"/>
<polygon points="813.4,439.0 814.6,437.0 817.4,437.0 818.6,439.0" fill="#7a5c4d" />
<ellipse cx="816.0" cy="439.0" rx="3.0" ry="1.6" fill="#6b4f43" />
<polygon points="825.8,432.7 819.0,439.7 809.5,438.4 804.6,429.9 807.8,420.5 816.9,417.3 824.9,422.7" fill="#8aa92e" />
<polygon points="804.6,429.9 807.8,420.5 816.9,417.3 824.9,422.7 818.2,427.6 812.2,431.5" fill="#9dbb36" />
<polygon points="807.8,420.5 816.9,417.3 816.6,424.9 810.5,427.6" fill="#a9c640" />
<polygon points="825.8,432.7 819.0,439.7 809.5,438.4 814.4,433.7 819.4,430.4" fill="#769528" />
<polygon points="819.0,439.7 809.5,438.4 815.0,435.4" fill="#688723" />
<ellipse cx="743.5" cy="477.0" rx="12.825" ry="5.67" fill="#3c4166" fill-opacity="0.13"/>
<polygon points="733.3,476.5 734.6,470.5 737.6,470.5 738.9,476.5" fill="#7a5c4d" />
<ellipse cx="736.1" cy="476.5" rx="3.24" ry="1.7280000000000002" fill="#6b4f43" />
<polygon points="748.3,465.2 739.9,473.8 728.3,472.3 722.2,461.8 726.2,450.2 737.3,446.3 747.1,453.0" fill="#8aa92e" />
<polygon points="722.2,461.8 726.2,450.2 737.3,446.3 747.1,453.0 739.0,459.0 731.6,463.8" fill="#9dbb36" />
<polygon points="726.2,450.2 737.3,446.3 737.0,455.6 729.5,459.0" fill="#a9c640" />
<polygon points="748.3,465.2 739.9,473.8 728.3,472.3 734.2,466.4 740.3,462.4" fill="#769528" />
<polygon points="739.9,473.8 728.3,472.3 734.9,468.5" fill="#688723" />
<ellipse cx="1044.6" cy="348.3" rx="17.099999999999998" ry="7.56" fill="#3c4166" fill-opacity="0.13"/>
<polygon points="1031.0,347.8 1032.7,341.8 1036.7,341.8 1038.4,347.8" fill="#7a5c4d" />
<ellipse cx="1034.7" cy="347.8" rx="4.32" ry="2.304" fill="#6b4f43" />
<polygon points="1051.1,334.8 1039.9,346.2 1024.4,344.2 1016.3,330.2 1021.6,314.8 1036.5,309.5 1049.6,318.5" fill="#8aa92e" />
<polygon points="1016.3,330.2 1021.6,314.8 1036.5,309.5 1049.6,318.5 1038.7,326.5 1028.8,332.8" fill="#9dbb36" />
<polygon points="1021.6,314.8 1036.5,309.5 1036.0,322.0 1026.1,326.5" fill="#a9c640" />
<polygon points="1051.1,334.8 1039.9,346.2 1024.4,344.2 1032.4,336.4 1040.5,331.0" fill="#769528" />
<polygon points="1039.9,346.2 1024.4,344.2 1033.3,339.1" fill="#688723" />
<path d="M626.1,300.0 L627.5,295.0 L629.5,299.6" stroke="#6b7079" stroke-width="1.0" fill="none"/>
<rect x="626.2" y="290.6" width="3.0" height="5.2" rx="1.0" fill="#e67e3a"/>
<circle cx="627.7" cy="289.2" r="1.35" fill="#4a4038" />
<path d="M641.2,386.0 L642.6,381.0 L644.6,385.6" stroke="#6b7079" stroke-width="1.0" fill="none"/>
<rect x="641.3" y="376.6" width="3.0" height="5.2" rx="1.0" fill="#e8954a"/>
<circle cx="642.8" cy="375.2" r="1.35" fill="#4a4038" />
<path d="M748.4,370.0 L749.8,365.0 L751.8,369.6" stroke="#6b7079" stroke-width="1.0" fill="none"/>
<rect x="748.5" y="360.6" width="3.0" height="5.2" rx="1.0" fill="#8fb52a"/>
<circle cx="750.0" cy="359.2" r="1.35" fill="#4a4038" />
<path d="M658.2,448.0 L659.6,443.0 L661.6,447.6" stroke="#6b7079" stroke-width="1.0" fill="none"/>
<rect x="658.3" y="438.6" width="3.0" height="5.2" rx="1.0" fill="#8d939b"/>
<circle cx="659.8" cy="437.2" r="1.35" fill="#4a4038" />
<path d="M436.2,340.0 L437.6,335.0 L439.6,339.6" stroke="#6b7079" stroke-width="1.0" fill="none"/>
<rect x="436.3" y="330.6" width="3.0" height="5.2" rx="1.0" fill="#5e7d2c"/>
<circle cx="437.8" cy="329.2" r="1.35" fill="#4a4038" />
<path d="M468.3,368.0 L469.7,363.0 L471.7,367.6" stroke="#6b7079" stroke-width="1.0" fill="none"/>
<rect x="468.4" y="358.6" width="3.0" height="5.2" rx="1.0" fill="#e67e3a"/>
<circle cx="469.9" cy="357.2" r="1.35" fill="#4a4038" />
<path d="M482.5,369.5 L483.9,364.5 L485.9,369.1" stroke="#6b7079" stroke-width="1.0" fill="none"/>
<rect x="482.6" y="360.1" width="3.0" height="5.2" rx="1.0" fill="#7d95a8"/>
<circle cx="484.1" cy="358.7" r="1.35" fill="#4a4038" />
<path d="M745.8,505.0 L747.2,500.0 L749.2,504.6" stroke="#6b7079" stroke-width="1.0" fill="none"/>
<rect x="745.9" y="495.6" width="3.0" height="5.2" rx="1.0" fill="#b9c93a"/>
<circle cx="747.4" cy="494.2" r="1.35" fill="#4a4038" />
<path d="M765.1,468.0 L766.5,463.0 L768.5,467.6" stroke="#6b7079" stroke-width="1.0" fill="none"/>
<rect x="765.2" y="458.6" width="3.0" height="5.2" rx="1.0" fill="#aab0b8"/>
<circle cx="766.7" cy="457.2" r="1.35" fill="#4a4038" />
<path d="M966.4,389.0 L967.8,384.0 L969.8,388.6" stroke="#6b7079" stroke-width="1.0" fill="none"/>
<rect x="966.5" y="379.6" width="3.0" height="5.2" rx="1.0" fill="#8d939b"/>
<circle cx="968.0" cy="378.2" r="1.35" fill="#4a4038" />
<path d="M677.9,331.0 L679.3,326.0 L681.3,330.6" stroke="#6b7079" stroke-width="1.0" fill="none"/>
<rect x="678.0" y="321.6" width="3.0" height="5.2" rx="1.0" fill="#8d939b"/>
<circle cx="679.5" cy="320.2" r="1.35" fill="#4a4038" />
<polyline points="366.2,146.4 454.6,146.4 454.6,166.0" fill="none" stroke="#86a1a0" stroke-width="1.3" />
<polyline points="454.6,166.0 454.6,324.1" fill="none" stroke="#ffffff" stroke-width="3.2" stroke-opacity="0.8"/>
<polyline points="454.6,166.0 454.6,324.1" fill="none" stroke="#b4c3c4" stroke-width="1.1" />
<polyline points="454.6,220.8 484.9,220.8" fill="none" stroke="#ffffff" stroke-width="3.5" stroke-opacity="0.75"/>
<polyline points="454.6,220.8 484.9,220.8" fill="none" stroke="#86a1a0" stroke-width="1.3" />
<circle cx="484.9" cy="220.8" r="3.15" fill="#d8ecea" />
<circle cx="484.9" cy="220.8" r="2.15" fill="#3f7473" />
<polyline points="454.6,255.2 484.9,255.2" fill="none" stroke="#ffffff" stroke-width="3.5" stroke-opacity="0.75"/>
<polyline points="454.6,255.2 484.9,255.2" fill="none" stroke="#86a1a0" stroke-width="1.3" />
<circle cx="484.9" cy="255.2" r="3.15" fill="#d8ecea" />
<circle cx="484.9" cy="255.2" r="2.15" fill="#3f7473" />
<polyline points="454.6,288.2 484.9,288.2" fill="none" stroke="#ffffff" stroke-width="3.5" stroke-opacity="0.75"/>
<polyline points="454.6,288.2 484.9,288.2" fill="none" stroke="#86a1a0" stroke-width="1.3" />
<circle cx="484.9" cy="288.2" r="3.15" fill="#d8ecea" />
<circle cx="484.9" cy="288.2" r="2.15" fill="#3f7473" />
<polyline points="454.6,324.1 484.9,324.1" fill="none" stroke="#ffffff" stroke-width="3.5" stroke-opacity="0.75"/>
<polyline points="454.6,324.1 484.9,324.1" fill="none" stroke="#86a1a0" stroke-width="1.3" />
<circle cx="484.9" cy="324.1" r="3.15" fill="#d8ecea" />
<circle cx="484.9" cy="324.1" r="2.15" fill="#3f7473" />
<polyline points="537.5,365.2 537.5,220.8" fill="none" stroke="#ffffff" stroke-width="4.0" stroke-opacity="0.7"/>
<polyline points="537.5,365.2 537.5,220.8" fill="none" stroke="#f4b27f" stroke-width="1.9" />
<polyline points="537.5,220.8 558.0,220.8" fill="none" stroke="#f8d6ba" stroke-width="3.4" />
<polyline points="537.5,220.8 558.0,220.8" fill="none" stroke="#f4b27f" stroke-width="1.4" />
<circle cx="558.1" cy="220.8" r="3.9" fill="#f9d7bd" />
<circle cx="558.1" cy="220.8" r="2.6" fill="#ee854c" />
<polyline points="537.5,255.2 558.0,255.2" fill="none" stroke="#f8d6ba" stroke-width="3.4" />
<polyline points="537.5,255.2 558.0,255.2" fill="none" stroke="#f4b27f" stroke-width="1.4" />
<circle cx="558.1" cy="255.2" r="3.9" fill="#f9d7bd" />
<circle cx="558.1" cy="255.2" r="2.6" fill="#ee854c" />
<polyline points="537.5,290.3 558.0,290.3" fill="none" stroke="#f8d6ba" stroke-width="3.4" />
<polyline points="537.5,290.3 558.0,290.3" fill="none" stroke="#f4b27f" stroke-width="1.4" />
<circle cx="558.1" cy="290.3" r="3.9" fill="#f9d7bd" />
<circle cx="558.1" cy="290.3" r="2.6" fill="#ee854c" />
<polyline points="537.5,324.0 558.0,324.0" fill="none" stroke="#f8d6ba" stroke-width="3.4" />
<polyline points="537.5,324.0 558.0,324.0" fill="none" stroke="#f4b27f" stroke-width="1.4" />
<circle cx="558.1" cy="324.0" r="3.9" fill="#f9d7bd" />
<circle cx="558.1" cy="324.0" r="2.6" fill="#ee854c" />
<polyline points="750.6,77.7 677.9,77.7 677.9,201.6" fill="none" stroke="#86a1a0" stroke-width="1.3" />
<circle cx="677.9" cy="201.6" r="3.15" fill="#d8ecea" />
<circle cx="677.9" cy="201.6" r="2.15" fill="#3f7473" />
<polyline points="631.6,53.9 617.3,53.9 617.3,135.3" fill="none" stroke="#86a1a0" stroke-width="1.3" />
<circle cx="617.3" cy="135.3" r="3.15" fill="#d8ecea" />
<circle cx="617.3" cy="135.3" r="2.15" fill="#3f7473" />
<polyline points="886.8,128.8 866.2,128.8 866.2,205.3" fill="none" stroke="#ffffff" stroke-width="3.5" stroke-opacity="0.75"/>
<polyline points="886.8,128.8 866.2,128.8 866.2,205.3" fill="none" stroke="#86a1a0" stroke-width="1.3" />
<circle cx="866.2" cy="205.3" r="3.15" fill="#bfe6e0" />
<circle cx="866.2" cy="205.3" r="2.15" fill="#3f7473" />
<polyline points="1002.8,266.7 1040.0,266.7" fill="none" stroke="#86a1a0" stroke-width="1.3" />
<circle cx="1002.8" cy="266.7" r="3.15" fill="#d8ecea" />
<circle cx="1002.8" cy="266.7" r="2.15" fill="#3f7473" />
<polyline points="794.0,316.5 794.0,356.3 960.0,356.3" fill="none" stroke="#ffffff" stroke-width="3.6" stroke-opacity="0.7"/>
<polyline points="794.0,316.5 794.0,356.3 1112.0,356.3" fill="none" stroke="#8ea7a6" stroke-width="1.3" />
<circle cx="794.0" cy="316.5" r="3.15" fill="#d8ecea" />
<circle cx="794.0" cy="316.5" r="2.15" fill="#3f7473" />
<polyline points="763.9,444.2 763.9,520.0" fill="none" stroke="#86a1a0" stroke-width="1.3" />
<circle cx="763.9" cy="444.2" r="3.15" fill="#d8ecea" />
<circle cx="763.9" cy="444.2" r="2.15" fill="#3f7473" />
<polyline points="505.5,457.1 505.5,560.0" fill="none" stroke="#ffffff" stroke-width="3.5" stroke-opacity="0.75"/>
<polyline points="505.5,457.1 505.5,560.0" fill="none" stroke="#86a1a0" stroke-width="1.3" />
<circle cx="505.5" cy="457.1" r="3.15" fill="#e9f6f4" />
<circle cx="505.5" cy="457.1" r="2.15" fill="#3f7473" />
<polygon points="146.1,45.1 185.5,67.6 185.5,167.9 146.1,144.1" fill="#75777e" />
<polygon points="185.5,67.6 215.0,51.3 215.0,151.6 185.5,167.9" fill="#5f6067" />
<polygon points="146.1,45.1 175.4,28.8 215.0,51.3 185.5,67.6" fill="#b5b9c1" />
<polygon points="171.1,61.8 185.5,70.4 185.5,166.9 171.1,158.3" fill="#a9adb6" />
<polygon points="148.6,56.5 169.1,68.6 169.1,105.6 148.6,93.5" fill="#494a50" />
<polygon points="148.6,96.5 169.1,108.6 169.1,129.6 148.6,117.5" fill="#5a5b62" />
<polygon points="150.1,105.4 167.1,115.4 167.1,126.4 150.1,116.4" fill="#8d9098" />
<polygon points="152.1,100.6 164.1,107.7 164.1,112.7 152.1,105.6" fill="#a9adb6" />
<polygon points="148.6,120.5 169.1,132.6 169.1,154.6 148.6,142.5" fill="#505157" />
<polygon points="156.1,131.9 161.1,134.9 161.1,141.9 156.1,138.9" fill="#f2f2f2" />
<polygon points="154.6,71.0 162.1,75.5 161.1,83.9 155.6,80.6" fill="#f7f7f7" />
<path d="M162.1,77.0 q3.4,2.5 -0.4,5.2" stroke="#f7f7f7" stroke-width="1" fill="none"/>
<polygon points="152.6,80.4 164.6,87.5 164.6,89.0 152.6,81.9" fill="#f7f7f7" />
<path d="M158.1,65.1 v5" stroke="#d9d9d9" stroke-width="0.8"/>
<polygon points="174.1,68.6 180.1,72.2 180.1,74.2 174.1,70.6" fill="#f1f2f4" />
<polygon points="174.1,72.2 180.1,75.8 180.1,77.8 174.1,74.2" fill="#f1f2f4" />
<polygon points="174.1,75.8 180.1,79.4 180.1,81.4 174.1,77.8" fill="#f1f2f4" />
<polygon points="174.1,79.4 180.1,83.0 180.1,85.0 174.1,81.4" fill="#f1f2f4" />
<polygon points="174.1,83.0 180.1,86.6 180.1,88.6 174.1,85.0" fill="#f1f2f4" />
<polygon points="174.1,86.6 180.1,90.2 180.1,92.2 174.1,88.6" fill="#f1f2f4" />
<polygon points="174.1,90.2 180.1,93.8 180.1,95.8 174.1,92.2" fill="#f1f2f4" />
<polygon points="174.1,93.8 180.1,97.4 180.1,99.4 174.1,95.8" fill="#f1f2f4" />
<polygon points="174.1,97.4 180.1,101.0 180.1,103.0 174.1,99.4" fill="#f1f2f4" />
<polygon points="175.1,105.2 181.1,108.7 181.1,118.7 175.1,115.2" fill="#f7f7f7" stroke="#55565c" stroke-width="0.8"/>
<polygon points="176.1,135.8 182.1,139.3 182.1,152.3 176.1,148.8" fill="#f7f7f7" stroke="#55565c" stroke-width="0.8"/>
<polygon points="188.0,153.5 213.0,139.3 213.0,145.5 188.0,159.7" fill="#a5a9b2" />
<polygon points="140.3,354.1 176.7,374.5 176.7,383.0 140.3,362.6" fill="#6c6e75" />
<polygon points="176.7,374.5 213.0,354.5 213.0,363.0 176.7,383.0" fill="#3f4045" />
<polygon points="140.3,354.1 176.0,334.0 213.0,354.5 176.7,374.5" fill="#85878e" />
<path d="M150.9,352.4L174.9,366.0M154.4,350.4L178.4,364.0M157.9,348.4L181.9,362.1M161.4,346.4L185.4,360.1M164.9,344.4L188.9,358.1M168.4,342.4L192.4,356.1M171.9,340.4L195.9,354.1M175.4,338.4L199.4,352.1" stroke="#eceef1" stroke-width="1.5" fill="none"/>
<polygon points="149.0,353.3 178.5,337.2 204.5,351.4 173.5,369.6" fill="none" stroke="#eceef1" stroke-width="1.2"/>
<line x1="160.5" y1="361.2" x2="191.5" y2="343.5" stroke="#85878e" stroke-width="2"/>
<polygon points="190.5,301.4 225.6,282.6 225.6,348.0 205.0,359.5 205.0,336.0 198.5,332.5 190.5,336.5" fill="#35363a" />
<polygon points="176.0,322.0 190.5,330.0 190.5,349.0 205.0,357.0 205.0,336.0 198.5,332.5 190.5,336.5 190.5,322.0" fill="#5b5c63" />
<polygon points="166.5,317.0 190.5,330.0 190.5,337.0 182.0,341.5 166.5,333.0" fill="#3b3c41" />
<polygon points="151.6,281.4 190.5,301.4 190.5,328.5 151.6,306.5" fill="#c5cbd3" />
<polygon points="151.6,281.4 155.0,279.6 155.0,305.0 151.6,306.5" fill="#dfe3e8" />
<polygon points="151.6,281.4 189.2,261.3 225.6,282.6 190.5,301.4" fill="#7f8189" />
<ellipse cx="165.5" cy="304.0" rx="4.2" ry="4.8" fill="#f1f3f5" />
<ellipse cx="165.5" cy="304.0" rx="2.4" ry="2.8" fill="#dfe2e7" />
<ellipse cx="200.3" cy="307.5" rx="3.6" ry="4.4" fill="#e9ebee" />
<polygon points="166.0,321.0 172.0,324.5 172.0,331.0 166.0,327.5" fill="#2e2f33" />
<polygon points="90.2,562.7 157.9,522.6 261.9,582.8 193.0,624.1" fill="#eceef1" />
<polygon points="96.5,562.9 158.0,526.6 255.5,582.9 193.0,620.2" fill="#d9dbe0" />
<polygon points="96.5,562.9 158.0,526.6 162.0,529.0 101.0,565.5" fill="#bfc2ca" />
<ellipse cx="161.6" cy="569.0" rx="39" ry="22.6" fill="#fbfbfb" />
<ellipse cx="168.0" cy="572.5" rx="27" ry="13" fill="#3c4166" fill-opacity="0.07"/>
<polygon points="139.8,563.9 164.9,577.7 164.9,581.0 139.8,567.2" fill="#e8d58e" />
<polygon points="164.9,577.7 188.5,563.9 188.5,567.2 164.9,581.0" fill="#d5bf76" />
<polygon points="139.8,560.8 164.9,574.6 164.9,577.9 139.8,564.1" fill="#c6c84b" />
<polygon points="164.9,574.6 188.5,560.8 188.5,564.1 164.9,577.9" fill="#aeb23c" />
<polygon points="139.8,557.7 164.9,571.5 164.9,574.8 139.8,561.0" fill="#e3cf86" />
<polygon points="164.9,571.5 188.5,557.7 188.5,561.0 164.9,574.8" fill="#d0ba70" />
<polygon points="139.8,557.7 164.1,540.2 188.5,557.7 164.9,571.5" fill="#eedc99" />
<path d="M200.8,543.4 L205.8,581.5 A11,4.6 0 0 0 227.8,581.5 L232.8,543.4 Z" fill="#cfe6ee" fill-opacity="0.85"/>
<path d="M202.20000000000002,556 L205.8,581.5 A11,4.6 0 0 0 227.8,581.5 L231.4,556 A14.6,5.4 0 0 0 202.20000000000002,556 Z" fill="#d4628c"/>
<path d="M204.8,574 L205.8,581.5 A11,4.6 0 0 0 227.8,581.5 L228.8,574 A12,4.8 0 0 1 204.8,574 Z" fill="#a52d5e"/>
<ellipse cx="216.8" cy="556.0" rx="14.6" ry="5.4" fill="#e58aa9" />
<ellipse cx="216.8" cy="543.4" rx="16" ry="6" fill="#bfe0ea" stroke="#e6f3f7" stroke-width="1.2"/>
<polygon points="1266.6,112.6 1269.1,113.7 1269.1,128.3 1266.6,127.2" fill="#c9ccd3" />
<polygon points="1277.6,105.9 1279.4,106.8 1279.4,118.0 1277.6,117.1" fill="#a9adb7" />
<polygon points="1277.6,118.4 1280.1,119.5 1280.1,134.1 1277.6,133.0" fill="#c9ccd3" />
<polygon points="1288.6,111.7 1290.4,112.6 1290.4,123.8 1288.6,122.9" fill="#a9adb7" />
<polygon points="1288.6,124.2 1291.1,125.3 1291.1,139.9 1288.6,138.8" fill="#c9ccd3" />
<polygon points="1299.7,117.4 1301.4,118.3 1301.4,129.6 1299.7,128.7" fill="#a9adb7" />
<polygon points="1299.7,130.0 1302.2,131.1 1302.2,145.7 1299.7,144.6" fill="#c9ccd3" />
<polygon points="1310.7,123.2 1312.5,124.1 1312.5,135.3 1310.7,134.4" fill="#a9adb7" />
<polygon points="1310.7,135.8 1313.2,136.8 1313.2,151.4 1310.7,150.4" fill="#c9ccd3" />
<polygon points="1321.7,129.0 1323.5,129.9 1323.5,141.1 1321.7,140.2" fill="#a9adb7" />
<polygon points="1321.7,141.6 1324.2,142.6 1324.2,157.2 1321.7,156.2" fill="#c9ccd3" />
<polygon points="1332.8,134.8 1334.6,135.7 1334.6,146.9 1332.8,146.0" fill="#a9adb7" />
<polygon points="1332.8,147.3 1335.3,148.4 1335.3,163.0 1332.8,161.9" fill="#c9ccd3" />
<polygon points="1343.8,140.6 1345.6,141.5 1345.6,152.7 1343.8,151.8" fill="#a9adb7" />
<polygon points="1343.8,153.1 1346.3,154.2 1346.3,168.8 1343.8,167.7" fill="#c9ccd3" />
<polygon points="1354.8,146.4 1356.6,147.3 1356.6,158.5 1354.8,157.6" fill="#a9adb7" />
<polygon points="1337.2,151.8 1348.3,145.7 1352.5,147.9 1341.5,153.9" fill="#c9ccd3" />
<polygon points="1337.2,151.8 1341.5,153.9 1341.5,156.1 1337.2,153.9" fill="#a0a4b0" />
<polygon points="1341.8,156.1 1352.9,150.0 1357.2,152.2 1346.1,158.2" fill="#c9ccd3" />
<polygon points="1341.8,156.1 1346.1,158.2 1346.1,160.3 1341.8,158.2" fill="#a0a4b0" />
<polygon points="1346.5,160.3 1357.5,154.3 1361.8,156.4 1350.7,162.5" fill="#c9ccd3" />
<polygon points="1346.5,160.3 1350.7,162.5 1350.7,164.6 1346.5,162.5" fill="#a0a4b0" />
<polygon points="1351.1,164.6 1362.1,158.6 1366.4,160.7 1355.4,166.7" fill="#c9ccd3" />
<polygon points="1351.1,164.6 1355.4,166.7 1355.4,168.9 1351.1,166.7" fill="#a0a4b0" />
<polygon points="1355.7,168.9 1366.8,162.8 1371.0,165.0 1360.0,171.0" fill="#c9ccd3" />
<polygon points="1355.7,168.9 1360.0,171.0 1360.0,173.2 1355.7,171.0" fill="#a0a4b0" />
<polygon points="1264.8,111.4 1277.8,103.4 1347.5,139.9 1336.0,147.5" fill="#c4c7cf" />
<polygon points="1264.8,111.4 1336.0,147.5 1336.0,150.0 1264.8,113.9" fill="#a4a8b3" />
<path d="M1266.0,110.2v-5.5M1276.0,115.2v-5.5M1286.0,120.3v-5.5M1295.9,125.4v-5.5M1305.9,130.4v-5.5M1315.9,135.5v-5.5M1325.8,140.6v-5.5M1335.8,145.7v-5.5M1266.0,104.8L1335.8,140.4" stroke="#b7bbc4" stroke-width="0.9" fill="none"/>
<polygon points="1281.7,86.5 1352.0,123.9 1352.0,143.4 1281.7,105.2" fill="#5fa8cb" />
<polygon points="1279.9,88.3 1281.7,86.5 1281.7,105.2 1279.9,106.6" fill="#4b93b8" />
<polygon points="1282.8,87.9 1298.4,96.3 1298.4,114.1 1282.8,105.7" fill="#9fd3e6" />
<ellipse cx="1290.6" cy="101.3" rx="6.9" ry="9.8" fill="#f5f8fa" />
<ellipse cx="1291.2" cy="101.9" rx="1.7" ry="2.1" fill="#6d8fa3" />
<polygon points="1298.8,96.8 1314.4,105.2 1314.4,123.0 1298.8,114.6" fill="#9fd3e6" />
<ellipse cx="1306.6" cy="110.2" rx="6.9" ry="9.8" fill="#f5f8fa" />
<ellipse cx="1307.2" cy="110.8" rx="1.7" ry="2.1" fill="#6d8fa3" />
<polygon points="1314.8,106.1 1330.5,114.4 1330.5,132.2 1314.8,123.9" fill="#9fd3e6" />
<ellipse cx="1322.6" cy="119.4" rx="6.9" ry="9.8" fill="#f5f8fa" />
<ellipse cx="1323.2" cy="120.0" rx="1.7" ry="2.1" fill="#6d8fa3" />
<polygon points="1330.5,115.0 1346.1,123.3 1346.1,141.1 1330.5,132.8" fill="#9fd3e6" />
<ellipse cx="1338.3" cy="128.3" rx="6.9" ry="9.8" fill="#f5f8fa" />
<ellipse cx="1338.9" cy="128.9" rx="1.7" ry="2.1" fill="#6d8fa3" />
<polygon points="1281.7,86.5 1285.3,82.9 1352.0,118.5 1352.0,123.9" fill="#7fbfdc" />
<polygon points="1285.3,82.9 1315.5,61.6 1384.9,101.6 1352.0,118.5" fill="#f4f6f9" />
<polygon points="1308.4,63.3 1315.5,61.6 1285.3,82.9 1281.7,84.7" fill="#68a8c6" />
<path d="M1316.4,61.0v-4.5M1324.9,66.1v-4.5M1333.5,71.2v-4.5M1342.0,76.3v-4.5M1350.6,81.3v-4.5M1359.1,86.4v-4.5M1367.7,91.5v-4.5M1376.2,96.5v-4.5M1384.7,101.6v-4.5M1316.4,56.8L1384.9,97.3" stroke="#b8ccd6" stroke-width="0.9" fill="none"/>
<path d="M1286.1,83.8v-4.5M1294.3,88.2v-4.5M1302.5,92.5v-4.5M1310.7,96.9v-4.5M1318.9,101.3v-4.5M1327.1,105.6v-4.5M1335.3,110.0v-4.5M1343.4,114.3v-4.5M1351.6,118.7v-4.5M1286.1,79.4L1352.0,114.4" stroke="#6fb3d2" stroke-width="0.9" fill="none"/>
<polygon points="1352.0,118.5 1384.9,101.6 1397.4,116.7 1397.4,149.7 1363.6,167.5 1352.0,156.8" fill="#5ea6c9" />
<polygon points="1360.0,139.0 1397.4,118.5 1397.4,149.7 1363.6,167.5 1360.0,163.9" fill="#79bbd8" />
<polygon points="1352.0,123.9 1360.0,128.3 1360.0,163.9 1352.0,156.8" fill="#4a8fb4" />
<polygon points="1361.8,142.5 1397.4,123.0 1397.4,131.0 1361.8,150.6" fill="#4582a8" />
<polygon points="1356.1,121.2 1383.5,106.9 1385.6,116.2 1358.2,130.4" fill="#f6f8fa" />
<polygon points="1360.0,131.0 1393.8,112.6 1396.5,123.3 1362.7,141.7" fill="#f6f8fa" />
<polygon points="1356.1,121.2 1358.2,130.4 1360.0,131.0 1358.9,122.1" fill="#c9d9e2" />
<path d="M1268.4,349.1 L1271.4,338.9 L1274.4,349.1" stroke="#cfdde2" stroke-width="1.50" fill="none"/>
<path d="M1289.0,337.4 L1292.0,327.2 L1295.0,337.4" stroke="#cfdde2" stroke-width="1.50" fill="none"/>
<polygon points="1269.6,339.0 1293.9,325.1 1293.9,329.5 1269.6,343.4" fill="#fdf3df" />
<polygon points="1269.6,339.0 1273.6,336.6 1273.6,341.0 1269.6,343.4" fill="#f0a630" />
<polygon points="1277.7,334.3 1281.7,332.0 1281.7,336.4 1277.7,338.7" fill="#f0a630" />
<polygon points="1285.8,329.7 1289.8,327.4 1289.8,331.8 1285.8,334.1" fill="#f0a630" />
<path d="M1296.0,333.4 L1299.0,323.2 L1302.0,333.4" stroke="#cfdde2" stroke-width="1.50" fill="none"/>
<path d="M1316.6,321.6 L1319.6,311.4 L1322.6,321.6" stroke="#cfdde2" stroke-width="1.50" fill="none"/>
<polygon points="1297.2,323.2 1321.4,309.4 1321.4,313.8 1297.2,327.6" fill="#fdf3df" />
<polygon points="1297.2,323.2 1301.2,320.9 1301.2,325.3 1297.2,327.6" fill="#f0a630" />
<polygon points="1305.3,318.6 1309.3,316.3 1309.3,320.7 1305.3,323.0" fill="#f0a630" />
<polygon points="1313.4,314.0 1317.4,311.7 1317.4,316.1 1313.4,318.4" fill="#f0a630" />
<path d="M1323.6,321.6 L1326.6,311.4 L1329.6,321.6" stroke="#cfdde2" stroke-width="1.50" fill="none"/>
<path d="M1344.2,333.4 L1347.2,323.2 L1350.2,333.4" stroke="#cfdde2" stroke-width="1.50" fill="none"/>
<polygon points="1324.8,309.4 1349.0,323.2 1349.0,327.6 1324.8,313.8" fill="#fdf3df" />
<polygon points="1324.8,309.4 1328.8,311.7 1328.8,316.1 1324.8,313.8" fill="#f0a630" />
<polygon points="1332.8,314.0 1336.9,316.3 1336.9,320.7 1332.8,318.4" fill="#f0a630" />
<polygon points="1340.9,318.6 1345.0,320.9 1345.0,325.3 1340.9,323.0" fill="#f0a630" />
<path d="M1351.2,337.4 L1354.2,327.2 L1357.2,337.4" stroke="#cfdde2" stroke-width="1.50" fill="none"/>
<path d="M1371.8,349.1 L1374.8,338.9 L1377.8,349.1" stroke="#cfdde2" stroke-width="1.50" fill="none"/>
<polygon points="1352.3,325.1 1376.6,339.0 1376.6,343.4 1352.3,329.5" fill="#fdf3df" />
<polygon points="1352.3,325.1 1356.4,327.4 1356.4,331.8 1352.3,329.5" fill="#f0a630" />
<polygon points="1360.4,329.7 1364.5,332.0 1364.5,336.4 1360.4,334.1" fill="#f0a630" />
<polygon points="1368.5,334.3 1372.6,336.6 1372.6,341.0 1368.5,338.7" fill="#f0a630" />
<polygon points="1292.1,348.9 1323.1,331.2 1354.1,348.9 1323.1,366.6" fill="#8c7c6c" />
<polygon points="1292.1,348.9 1323.1,331.2 1323.1,338.7 1292.1,348.9" fill="#8c7c6c" />
<polygon points="1292.1,348.9 1323.1,331.2 1323.1,338.7 1305.3,348.9" fill="#9a8371" />
<polygon points="1323.1,331.2 1354.1,348.9 1340.9,348.9 1323.1,338.7" fill="#b2a691" />
<polygon points="1305.3,348.9 1323.1,338.7 1340.9,348.9 1323.1,366.6" fill="#c6beab" />
<path d="M1268.4,353.1 L1271.4,342.9 L1274.4,353.1" stroke="#cfdde2" stroke-width="1.50" fill="none"/>
<path d="M1289.0,364.8 L1292.0,354.6 L1295.0,364.8" stroke="#cfdde2" stroke-width="1.50" fill="none"/>
<polygon points="1269.6,340.8 1293.9,354.7 1293.9,359.1 1269.6,345.2" fill="#fdf3df" />
<polygon points="1269.6,340.8 1273.6,343.2 1273.6,347.6 1269.6,345.2" fill="#f0a630" />
<polygon points="1277.7,345.5 1281.7,347.8 1281.7,352.2 1277.7,349.9" fill="#f0a630" />
<polygon points="1285.8,350.1 1289.8,352.4 1289.8,356.8 1285.8,354.5" fill="#f0a630" />
<path d="M1296.0,368.8 L1299.0,358.6 L1302.0,368.8" stroke="#cfdde2" stroke-width="1.50" fill="none"/>
<path d="M1316.6,380.6 L1319.6,370.4 L1322.6,380.6" stroke="#cfdde2" stroke-width="1.50" fill="none"/>
<polygon points="1297.2,356.6 1321.4,370.4 1321.4,374.8 1297.2,361.0" fill="#fdf3df" />
<polygon points="1297.2,356.6 1301.2,358.9 1301.2,363.3 1297.2,361.0" fill="#f0a630" />
<polygon points="1305.3,361.2 1309.3,363.5 1309.3,367.9 1305.3,365.6" fill="#f0a630" />
<polygon points="1313.4,365.8 1317.4,368.1 1317.4,372.5 1313.4,370.2" fill="#f0a630" />
<path d="M1323.6,380.6 L1326.6,370.4 L1329.6,380.6" stroke="#cfdde2" stroke-width="1.50" fill="none"/>
<path d="M1344.2,368.8 L1347.2,358.6 L1350.2,368.8" stroke="#cfdde2" stroke-width="1.50" fill="none"/>
<polygon points="1324.8,370.4 1349.0,356.6 1349.0,361.0 1324.8,374.8" fill="#fdf3df" />
<polygon points="1324.8,370.4 1328.8,368.1 1328.8,372.5 1324.8,374.8" fill="#f0a630" />
<polygon points="1332.8,365.8 1336.9,363.5 1336.9,367.9 1332.8,370.2" fill="#f0a630" />
<polygon points="1340.9,361.2 1345.0,358.9 1345.0,363.3 1340.9,365.6" fill="#f0a630" />
<path d="M1351.2,364.8 L1354.2,354.6 L1357.2,364.8" stroke="#cfdde2" stroke-width="1.50" fill="none"/>
<path d="M1371.8,353.1 L1374.8,342.9 L1377.8,353.1" stroke="#cfdde2" stroke-width="1.50" fill="none"/>
<polygon points="1352.3,354.7 1376.6,340.8 1376.6,345.2 1352.3,359.1" fill="#fdf3df" />
<polygon points="1352.3,354.7 1356.4,352.4 1356.4,356.8 1352.3,359.1" fill="#f0a630" />
<polygon points="1360.4,350.1 1364.5,347.8 1364.5,352.2 1360.4,354.5" fill="#f0a630" />
<polygon points="1368.5,345.5 1372.6,343.2 1372.6,347.6 1368.5,349.9" fill="#f0a630" />
<polygon points="1268.9,327.5 1279.9,321.5 1290.9,327.5 1279.9,333.5" fill="#c2c5cd" />
<polygon points="1268.9,327.5 1279.9,333.5 1279.9,336.0 1268.9,330.0" fill="#a5a9b4" />
<polygon points="1290.9,327.5 1279.9,333.5 1279.9,336.0 1290.9,330.0" fill="#9498a4" />
<path d="M1273.7,326.5 V218.5 M1286.1,326.5 V218.5 M1279.9,328.5 V218.5M1273.7,326.5 L1279.9,318.8 L1286.1,326.5 M1273.7,318.8 L1279.9,326.5 L1286.1,318.8 M1273.7,318.8 H1286.1M1273.7,318.8 L1279.9,311.1 L1286.1,318.8 M1273.7,311.1 L1279.9,318.8 L1286.1,311.1 M1273.7,311.1 H1286.1M1273.7,311.1 L1279.9,303.4 L1286.1,311.1 M1273.7,303.4 L1279.9,311.1 L1286.1,303.4 M1273.7,303.4 H1286.1M1273.7,303.4 L1279.9,295.6 L1286.1,303.4 M1273.7,295.6 L1279.9,303.4 L1286.1,295.6 M1273.7,295.6 H1286.1M1273.7,295.6 L1279.9,287.9 L1286.1,295.6 M1273.7,287.9 L1279.9,295.6 L1286.1,287.9 M1273.7,287.9 H1286.1M1273.7,287.9 L1279.9,280.2 L1286.1,287.9 M1273.7,280.2 L1279.9,287.9 L1286.1,280.2 M1273.7,280.2 H1286.1M1273.7,280.2 L1279.9,272.5 L1286.1,280.2 M1273.7,272.5 L1279.9,280.2 L1286.1,272.5 M1273.7,272.5 H1286.1M1273.7,272.5 L1279.9,264.8 L1286.1,272.5 M1273.7,264.8 L1279.9,272.5 L1286.1,264.8 M1273.7,264.8 H1286.1M1273.7,264.8 L1279.9,257.1 L1286.1,264.8 M1273.7,257.1 L1279.9,264.8 L1286.1,257.1 M1273.7,257.1 H1286.1M1273.7,257.1 L1279.9,249.4 L1286.1,257.1 M1273.7,249.4 L1279.9,257.1 L1286.1,249.4 M1273.7,249.4 H1286.1M1273.7,249.4 L1279.9,241.6 L1286.1,249.4 M1273.7,241.6 L1279.9,249.4 L1286.1,241.6 M1273.7,241.6 H1286.1M1273.7,241.6 L1279.9,233.9 L1286.1,241.6 M1273.7,233.9 L1279.9,241.6 L1286.1,233.9 M1273.7,233.9 H1286.1M1273.7,233.9 L1279.9,226.2 L1286.1,233.9 M1273.7,226.2 L1279.9,233.9 L1286.1,226.2 M1273.7,226.2 H1286.1M1273.7,226.2 L1279.9,218.5 L1286.1,226.2 M1273.7,218.5 L1279.9,226.2 L1286.1,218.5 M1273.7,218.5 H1286.1" stroke="#f3bd45" stroke-width="1.05" fill="none"/>
<polygon points="1257.9,206.0 1337.9,251.6 1337.9,257.0 1257.9,215.0" fill="#f6cf6a" />
<path d="M1257.9,206.0 L1337.9,251.6 M1257.9,215.0 L1337.9,257.0" stroke="#f3bd45" stroke-width="1.60" fill="none"/>
<path d="M1257.9,214.1 L1264.1,209.5M1264.1,217.6 L1270.2,213.0M1270.2,221.1 L1276.4,216.5M1276.4,224.6 L1282.5,220.0M1282.5,228.1 L1288.7,223.5M1288.7,231.6 L1294.8,227.0M1294.8,235.1 L1301.0,230.5M1301.0,238.6 L1307.1,234.0M1307.1,242.1 L1313.3,237.5M1313.3,245.6 L1319.4,241.0M1319.4,249.1 L1325.6,244.5M1325.6,252.6 L1331.7,248.1M1331.7,256.2 L1337.9,251.6" stroke="#dda530" stroke-width="0.90" fill="none"/>
<polygon points="1258.9,209.0 1271.9,216.4 1271.9,220.4 1258.9,213.0" fill="#8d8f98" />
<polygon points="1333.9,249.6 1339.9,252.6 1339.9,258.6 1333.9,255.6" fill="#f3a93a" />
<path d="M1328.9,252.7 v15.8 M1331.3,254.1 v15.8" stroke="#8b8e97" stroke-width="1.40" fill="none"/>
<path d="M1327.7,268.6 h5.0 v2.4 h-5.0 z" fill="#a5a8b1"/>
<path d="M1330.1,270.6 v3.5 q0.2,2.5 2.6,1.0" stroke="#8b8e97" stroke-width="1.20" fill="none"/>
<polygon points="1263.6,547.3 1269.2,550.0 1269.2,564.5 1263.6,561.8" fill="#eceef3" />
<polygon points="1272.7,551.7 1278.3,554.4 1278.3,568.9 1272.7,566.2" fill="#eceef3" />
<polygon points="1281.9,556.1 1287.5,558.7 1287.5,573.2 1281.9,570.6" fill="#eceef3" />
<polygon points="1291.1,560.4 1296.7,563.1 1296.7,577.6 1291.1,574.9" fill="#eceef3" />
<polygon points="1296.0,562.5 1301.6,559.8 1301.6,574.3 1296.0,577.0" fill="#eceef3" />
<polygon points="1304.3,558.5 1309.9,555.9 1309.9,570.4 1304.3,573.0" fill="#eceef3" />
<polygon points="1312.5,554.6 1318.1,551.9 1318.1,566.4 1312.5,569.1" fill="#eceef3" />
<polygon points="1320.8,550.7 1326.4,548.0 1326.4,562.5 1320.8,565.2" fill="#eceef3" />
<polygon points="1329.1,546.7 1334.7,544.1 1334.7,558.6 1329.1,561.2" fill="#eceef3" />
<polygon points="1256.9,555.3 1263.4,551.1 1263.4,559.5" fill="#eceef3" />
<polygon points="1320.6,580.6 1326.2,583.3 1326.2,597.8 1320.6,595.1" fill="#eceef3" />
<polygon points="1329.7,585.0 1335.3,587.6 1335.3,602.1 1329.7,599.5" fill="#eceef3" />
<polygon points="1338.9,589.3 1344.5,592.0 1344.5,606.5 1338.9,603.8" fill="#eceef3" />
<polygon points="1348.1,593.7 1353.7,596.4 1353.7,610.9 1348.1,608.2" fill="#eceef3" />
<polygon points="1353.0,595.7 1358.6,593.0 1358.6,607.5 1353.0,610.2" fill="#eceef3" />
<polygon points="1361.9,591.4 1367.5,588.8 1367.5,603.3 1361.9,605.9" fill="#eceef3" />
<polygon points="1370.8,587.2 1376.4,584.5 1376.4,599.0 1370.8,601.7" fill="#eceef3" />
<polygon points="1379.7,582.9 1385.3,580.3 1385.3,594.8 1379.7,597.4" fill="#eceef3" />
<polygon points="1388.6,578.7 1394.2,576.0 1394.2,590.5 1388.6,593.2" fill="#eceef3" />
<polygon points="1397.5,574.4 1403.1,571.7 1403.1,586.2 1397.5,588.9" fill="#eceef3" />
<polygon points="1313.9,588.5 1320.4,584.3 1320.4,592.7" fill="#eceef3" />
<polygon points="1415.7,572.0 1409.2,567.8 1409.2,576.2" fill="#eceef3" />
<ellipse cx="1299.1" cy="562.5" rx="3.6" ry="4.4" fill="#54444d" />
<ellipse cx="1299.1" cy="562.5" rx="2.0" ry="2.6" fill="#8d7f88" />
<ellipse cx="1332.4" cy="542.8" rx="3.6" ry="4.4" fill="#54444d" />
<ellipse cx="1332.4" cy="542.8" rx="2.0" ry="2.6" fill="#8d7f88" />
<path d="M1291.3,567.4 L1292.3,556.9 L1299.1,551.0 L1312.2,538.9 L1328.9,525.8 Q1335.2,530.2 1335.8,544.1 L1304.0,562.5 Q1299.1,555.9 1294.5,567.0 Z" fill="#a7aab6" />
<path d="M1277.5,559.2 Q1276.2,552.3 1278.8,548.7 L1292.3,556.9 L1291.3,567.4 Q1282.8,564.6 1277.5,559.2 Z" fill="#c4c6d0" />
<path d="M1278.8,548.7 Q1280.3,544.1 1283.7,542.5 L1299.1,551.0 L1292.3,556.9 Z" fill="#cdcfd8" />
<ellipse cx="1295.5" cy="554.9" rx="4.2" ry="1.7" fill="#f7f8fa" transform="rotate(-38 1295.5 554.9)"/>
<ellipse cx="1280.1" cy="547.7" rx="2.6" ry="1.4" fill="#f7f8fa" transform="rotate(-60 1280.1 547.7)"/>
<path d="M1283.7,542.5 Q1288.5,533.5 1297.8,530.0 L1311.9,538.6 Q1304.0,544.1 1299.1,551.0 Z" fill="#f5f6f8" />
<path d="M1282.8,542.8 Q1285.2,549.0 1298.8,551.7 L1299.8,550.0 Q1288.0,547.7 1284.4,541.5 Z" fill="#3b3035" />
<path d="M1297.8,530.0 Q1307.3,519.6 1315.5,517.9 Q1324.5,519.6 1328.9,525.8 L1311.9,538.6 Z" fill="#b6b8c3" />
<path d="M1315.5,517.9 Q1324.5,519.6 1328.9,525.8 L1330.2,524.8 Q1325.7,517.9 1316.8,516.8 Z" fill="#2f3a38" />
<path d="M1302.7,548.4 Q1306.5,540.8 1316.8,534.9 L1317.5,542.8 L1304.0,550.7 Z" fill="#f5f6f8" />
<path d="M1318.8,534.0 Q1324.5,530.2 1330.6,529.4 Q1330.2,534.3 1328.0,536.7 L1319.4,541.5 Z" fill="#f5f6f8" />
<path d="M1300.4,549.0 L1302.7,547.1 L1303.4,550.7 L1301.1,552.0 Z" fill="#a7aab6" />
<polygon points="1331.9,513.0 1349.1,500.7 1368.7,510.6 1368.7,552.3 1349.9,562.1 1335.2,554.8" fill="#8d9099" />
<polygon points="1349.1,519.6 1368.7,510.6 1368.7,552.3 1349.9,562.1" fill="#9a9ea8" />
<polygon points="1331.9,513.0 1349.1,519.6 1349.9,562.1 1335.2,554.8" fill="#8a8d96" />
<polygon points="1331.9,513.0 1349.1,500.7 1368.7,510.6 1349.1,519.6" fill="#b5b8c1" />
<polygon points="1344.2,521.2 1349.1,523.2 1349.6,560.5 1344.7,558.5" fill="#b3b7c0" />
<polygon points="1337.3,521.2 1341.7,523.2 1342.0,544.1 1337.6,542.5" fill="#3b3437" />
<polygon points="1344.7,536.8 1347.6,537.9 1347.8,545.8 1344.8,544.6" fill="#3b3437" />
<path d="M1335.2,526.9 Q1327.0,517.9 1318.8,517.1" stroke="#3a4a45" stroke-width="1.6" fill="none"/>
<ellipse cx="1356.1" cy="595.7" rx="3.6" ry="4.4" fill="#54444d" />
<ellipse cx="1356.1" cy="595.7" rx="2.0" ry="2.6" fill="#8d7f88" />
<ellipse cx="1389.4" cy="576.0" rx="3.6" ry="4.4" fill="#54444d" />
<ellipse cx="1389.4" cy="576.0" rx="2.0" ry="2.6" fill="#8d7f88" />
<path d="M1348.3,600.6 L1349.3,590.1 L1356.1,584.2 L1369.2,572.1 L1385.9,559.0 Q1392.2,563.4 1392.8,577.3 L1361.0,595.7 Q1356.1,589.1 1351.5,600.2 Z" fill="#3f9a8c" />
<path d="M1334.5,592.4 Q1333.2,585.5 1335.8,581.9 L1349.3,590.1 L1348.3,600.6 Q1339.8,597.8 1334.5,592.4 Z" fill="#54b3a4" />
<path d="M1335.8,581.9 Q1337.3,577.3 1340.7,575.7 L1356.1,584.2 L1349.3,590.1 Z" fill="#66c2b3" />
<ellipse cx="1352.5" cy="588.1" rx="4.2" ry="1.7" fill="#f7f8fa" transform="rotate(-38 1352.5 588.1)"/>
<ellipse cx="1337.1" cy="580.9" rx="2.6" ry="1.4" fill="#f7f8fa" transform="rotate(-60 1337.1 580.9)"/>
<path d="M1340.7,575.7 Q1345.5,566.7 1354.8,563.2 L1368.9,571.8 Q1361.0,577.3 1356.1,584.2 Z" fill="#f5f6f8" />
<path d="M1339.8,576.0 Q1342.2,582.2 1355.8,584.9 L1356.8,583.2 Q1345.0,580.9 1341.4,574.7 Z" fill="#3b3035" />
<path d="M1354.8,563.2 Q1364.3,552.8 1372.5,551.1 Q1381.5,552.8 1385.9,559.0 L1368.9,571.8 Z" fill="#4cae9f" />
<path d="M1372.5,551.1 Q1381.5,552.8 1385.9,559.0 L1387.2,558.0 Q1382.7,551.1 1373.8,550.0 Z" fill="#2f3a38" />
<path d="M1359.7,581.6 Q1363.5,574.0 1373.8,568.1 L1374.5,576.0 L1361.0,583.9 Z" fill="#f5f6f8" />
<path d="M1375.8,567.2 Q1381.5,563.4 1387.6,562.6 Q1387.2,567.5 1385.0,569.9 L1376.4,574.7 Z" fill="#f5f6f8" />
<path d="M1357.4,582.2 L1359.7,580.3 L1360.4,583.9 L1358.1,585.2 Z" fill="#3f9a8c" />
<polygon points="320.2,129.4 335.2,121.9 335.2,165.4 320.8,173.5 315.1,168.5 315.1,148.0 320.2,142.8" fill="#a6abb4" />
<polygon points="279.4,105.6 294.5,98.1 335.2,121.9 320.2,129.4" fill="#c8ccd2" />
<polygon points="279.4,105.6 320.2,129.4 320.2,143.4 279.4,119.9" fill="#bcc1c8" />
<polygon points="272.5,124.4 279.4,119.9 320.2,142.8 315.1,148.0" fill="#cdd0d6" />
<polygon points="272.5,124.4 315.1,148.0 315.1,168.5 272.5,145.3" fill="#bdc2c9" />
<polygon points="311.1,130.6 320.6,125.6 330.1,130.6 320.2,135.9" fill="#b9bdc4" />
<polygon points="316.6,129.9 320.6,127.8 324.6,130.0 320.6,132.2" fill="#3e4248" />
<polygon points="274.2,128.5 288.2,136.1 288.2,150.3 274.2,142.7" fill="#fbfbfb" stroke="#8d9299" stroke-width="0.6"/>
<polygon points="288.2,136.1 290.9,137.6 290.9,151.8 288.2,150.3" fill="#474b52" />
<polygon points="297.1,150.9 305.1,155.3 305.1,156.7 297.1,152.3" fill="#8fd0c8" />
<circle cx="347.1" cy="154.1" r="19.7" fill="#b32e5d" />
<circle cx="347.1" cy="154.1" r="18.7" fill="none" stroke="#ee88ac" stroke-width="1.50"/>
<circle cx="347.1" cy="154.1" r="14.0" fill="#b32e5d" stroke="#f5b3ca" stroke-width="1.25"/>
<line x1="336.6" y1="146.5" x2="357.6" y2="146.5" stroke="#f3a9c3" stroke-width="1.10"/>
<line x1="336.6" y1="161.7" x2="357.6" y2="161.7" stroke="#f3a9c3" stroke-width="1.10"/>
<text x="347.1" y="158.2" font-size="11.6" font-weight="bold" fill="#fde9f0" text-anchor="middle" textLength="20.0" lengthAdjust="spacingAndGlyphs">CLP</text>
<polygon points="320.2,569.4 335.2,561.9 335.2,605.4 320.8,613.5 315.1,608.5 315.1,588.0 320.2,582.8" fill="#a6abb4" />
<polygon points="279.4,545.6 294.5,538.1 335.2,561.9 320.2,569.4" fill="#c8ccd2" />
<polygon points="279.4,545.6 320.2,569.4 320.2,583.4 279.4,559.9" fill="#bcc1c8" />
<polygon points="272.5,564.4 279.4,559.9 320.2,582.8 315.1,588.0" fill="#cdd0d6" />
<polygon points="272.5,564.4 315.1,588.0 315.1,608.5 272.5,585.3" fill="#bdc2c9" />
<polygon points="311.1,570.6 320.6,565.6 330.1,570.6 320.2,575.9" fill="#b9bdc4" />
<polygon points="316.6,569.9 320.6,567.8 324.6,570.0 320.6,572.2" fill="#3e4248" />
<polygon points="274.2,568.5 288.2,576.1 288.2,590.3 274.2,582.7" fill="#fbfbfb" stroke="#8d9299" stroke-width="0.6"/>
<polygon points="288.2,576.1 290.9,577.6 290.9,591.8 288.2,590.3" fill="#474b52" />
<polygon points="297.1,590.9 305.1,595.3 305.1,596.7 297.1,592.3" fill="#8fd0c8" />
<circle cx="347.1" cy="594.1" r="19.7" fill="#b32e5d" />
<circle cx="347.1" cy="594.1" r="18.7" fill="none" stroke="#ee88ac" stroke-width="1.50"/>
<circle cx="347.1" cy="594.1" r="14.0" fill="#b32e5d" stroke="#f5b3ca" stroke-width="1.25"/>
<line x1="336.6" y1="586.5" x2="357.6" y2="586.5" stroke="#f3a9c3" stroke-width="1.10"/>
<line x1="336.6" y1="601.7" x2="357.6" y2="601.7" stroke="#f3a9c3" stroke-width="1.10"/>
<text x="347.1" y="598.2" font-size="11.6" font-weight="bold" fill="#fde9f0" text-anchor="middle" textLength="20.0" lengthAdjust="spacingAndGlyphs">CLP</text>
<polygon points="1160.8,130.1 1175.8,122.6 1175.8,166.1 1161.4,174.2 1155.7,169.2 1155.7,148.7 1160.8,143.5" fill="#a6abb4" />
<polygon points="1120.0,106.3 1135.1,98.8 1175.8,122.6 1160.8,130.1" fill="#c8ccd2" />
<polygon points="1120.0,106.3 1160.8,130.1 1160.8,144.1 1120.0,120.6" fill="#bcc1c8" />
<polygon points="1113.1,125.1 1120.0,120.6 1160.8,143.5 1155.7,148.7" fill="#cdd0d6" />
<polygon points="1113.1,125.1 1155.7,148.7 1155.7,169.2 1113.1,146.0" fill="#bdc2c9" />
<polygon points="1151.7,131.3 1161.2,126.3 1170.7,131.3 1160.8,136.6" fill="#b9bdc4" />
<polygon points="1157.2,130.6 1161.2,128.5 1165.2,130.7 1161.2,132.9" fill="#3e4248" />
<polygon points="1114.8,129.2 1128.8,136.8 1128.8,151.0 1114.8,143.4" fill="#fbfbfb" stroke="#8d9299" stroke-width="0.6"/>
<polygon points="1128.8,136.8 1131.5,138.3 1131.5,152.5 1128.8,151.0" fill="#474b52" />
<polygon points="1137.7,151.6 1145.7,156.0 1145.7,157.4 1137.7,153.0" fill="#8fd0c8" />
<circle cx="1187.7" cy="154.8" r="19.7" fill="#b32e5d" />
<circle cx="1187.7" cy="154.8" r="18.7" fill="none" stroke="#ee88ac" stroke-width="1.50"/>
<circle cx="1187.7" cy="154.8" r="14.0" fill="#b32e5d" stroke="#f5b3ca" stroke-width="1.25"/>
<line x1="1177.2" y1="147.2" x2="1198.2" y2="147.2" stroke="#f3a9c3" stroke-width="1.10"/>
<line x1="1177.2" y1="162.4" x2="1198.2" y2="162.4" stroke="#f3a9c3" stroke-width="1.10"/>
<text x="1187.7" y="158.9" font-size="11.6" font-weight="bold" fill="#fde9f0" text-anchor="middle" textLength="20.0" lengthAdjust="spacingAndGlyphs">CLP</text>
<polygon points="1160.8,349.3 1175.8,341.8 1175.8,385.3 1161.4,393.4 1155.7,388.4 1155.7,367.9 1160.8,362.7" fill="#a6abb4" />
<polygon points="1120.0,325.5 1135.1,318.0 1175.8,341.8 1160.8,349.3" fill="#c8ccd2" />
<polygon points="1120.0,325.5 1160.8,349.3 1160.8,363.3 1120.0,339.8" fill="#bcc1c8" />
<polygon points="1113.1,344.3 1120.0,339.8 1160.8,362.7 1155.7,367.9" fill="#cdd0d6" />
<polygon points="1113.1,344.3 1155.7,367.9 1155.7,388.4 1113.1,365.2" fill="#bdc2c9" />
<polygon points="1151.7,350.5 1161.2,345.5 1170.7,350.5 1160.8,355.8" fill="#b9bdc4" />
<polygon points="1157.2,349.8 1161.2,347.7 1165.2,349.9 1161.2,352.1" fill="#3e4248" />
<polygon points="1114.8,348.4 1128.8,356.0 1128.8,370.2 1114.8,362.6" fill="#fbfbfb" stroke="#8d9299" stroke-width="0.6"/>
<polygon points="1128.8,356.0 1131.5,357.5 1131.5,371.7 1128.8,370.2" fill="#474b52" />
<polygon points="1137.7,370.8 1145.7,375.2 1145.7,376.6 1137.7,372.2" fill="#8fd0c8" />
<circle cx="1187.7" cy="374.0" r="19.7" fill="#b32e5d" />
<circle cx="1187.7" cy="374.0" r="18.7" fill="none" stroke="#ee88ac" stroke-width="1.50"/>
<circle cx="1187.7" cy="374.0" r="14.0" fill="#b32e5d" stroke="#f5b3ca" stroke-width="1.25"/>
<line x1="1177.2" y1="366.4" x2="1198.2" y2="366.4" stroke="#f3a9c3" stroke-width="1.10"/>
<line x1="1177.2" y1="381.6" x2="1198.2" y2="381.6" stroke="#f3a9c3" stroke-width="1.10"/>
<text x="1187.7" y="378.1" font-size="11.6" font-weight="bold" fill="#fde9f0" text-anchor="middle" textLength="20.0" lengthAdjust="spacingAndGlyphs">CLP</text>
<polygon points="1160.8,569.4 1175.8,561.9 1175.8,605.4 1161.4,613.5 1155.7,608.5 1155.7,588.0 1160.8,582.8" fill="#a6abb4" />
<polygon points="1120.0,545.6 1135.1,538.1 1175.8,561.9 1160.8,569.4" fill="#c8ccd2" />
<polygon points="1120.0,545.6 1160.8,569.4 1160.8,583.4 1120.0,559.9" fill="#bcc1c8" />
<polygon points="1113.1,564.4 1120.0,559.9 1160.8,582.8 1155.7,588.0" fill="#cdd0d6" />
<polygon points="1113.1,564.4 1155.7,588.0 1155.7,608.5 1113.1,585.3" fill="#bdc2c9" />
<polygon points="1151.7,570.6 1161.2,565.6 1170.7,570.6 1160.8,575.9" fill="#b9bdc4" />
<polygon points="1157.2,569.9 1161.2,567.8 1165.2,570.0 1161.2,572.2" fill="#3e4248" />
<polygon points="1114.8,568.5 1128.8,576.1 1128.8,590.3 1114.8,582.7" fill="#fbfbfb" stroke="#8d9299" stroke-width="0.6"/>
<polygon points="1128.8,576.1 1131.5,577.6 1131.5,591.8 1128.8,590.3" fill="#474b52" />
<polygon points="1137.7,590.9 1145.7,595.3 1145.7,596.7 1137.7,592.3" fill="#8fd0c8" />
<circle cx="1187.7" cy="594.1" r="19.7" fill="#b32e5d" />
<circle cx="1187.7" cy="594.1" r="18.7" fill="none" stroke="#ee88ac" stroke-width="1.50"/>
<circle cx="1187.7" cy="594.1" r="14.0" fill="#b32e5d" stroke="#f5b3ca" stroke-width="1.25"/>
<line x1="1177.2" y1="586.5" x2="1198.2" y2="586.5" stroke="#f3a9c3" stroke-width="1.10"/>
<line x1="1177.2" y1="601.7" x2="1198.2" y2="601.7" stroke="#f3a9c3" stroke-width="1.10"/>
<text x="1187.7" y="598.2" font-size="11.6" font-weight="bold" fill="#fde9f0" text-anchor="middle" textLength="20.0" lengthAdjust="spacingAndGlyphs">CLP</text>
<text x="269.5" y="197.7" font-size="14" fill="#58585a" textLength="115.5" lengthAdjust="spacingAndGlyphs" >7KM PAC2200 CLP</text>
<text x="269.5" y="636.0" font-size="14" fill="#58585a" textLength="115.5" lengthAdjust="spacingAndGlyphs" >7KM PAC2200 CLP</text>
<text x="1097" y="194.2" font-size="14" fill="#58585a" textLength="115.5" lengthAdjust="spacingAndGlyphs" >7KM PAC2200 CLP</text>
<text x="1095" y="414.1" font-size="14" fill="#58585a" textLength="115.5" lengthAdjust="spacingAndGlyphs" >7KM PAC2200 CLP</text>
<text x="1094" y="635.4" font-size="14" fill="#58585a" textLength="115.5" lengthAdjust="spacingAndGlyphs" >7KM PAC2200 CLP</text>
<polygon points="785.2,70.9 795.7,65.7 795.7,96.1 785.6,101.8 781.6,98.3 781.6,83.9 785.2,80.3" fill="#a6abb4" />
<polygon points="756.6,54.3 767.2,49.0 795.7,65.7 785.2,70.9" fill="#c8ccd2" />
<polygon points="756.6,54.3 785.2,70.9 785.2,80.7 756.6,64.3" fill="#bcc1c8" />
<polygon points="751.8,67.4 756.6,64.3 785.2,80.3 781.6,83.9" fill="#cdd0d6" />
<polygon points="751.8,67.4 781.6,83.9 781.6,98.3 751.8,82.0" fill="#bdc2c9" />
<polygon points="778.8,71.8 785.5,68.2 792.1,71.8 785.2,75.5" fill="#b9bdc4" />
<polygon points="782.6,71.3 785.5,69.8 788.2,71.3 785.5,72.9" fill="#3e4248" />
<polygon points="753.0,70.3 762.8,75.6 762.8,85.5 753.0,80.2" fill="#fbfbfb" stroke="#8d9299" stroke-width="0.6"/>
<polygon points="762.8,75.6 764.7,76.7 764.7,86.6 762.8,85.5" fill="#474b52" />
<polygon points="769.0,86.0 774.6,89.0 774.6,90.0 769.0,86.9" fill="#8fd0c8" />
<circle cx="804.0" cy="88.2" r="13.79" fill="#b32e5d" />
<circle cx="804.0" cy="88.2" r="13.09" fill="none" stroke="#ee88ac" stroke-width="1.05"/>
<circle cx="804.0" cy="88.2" r="9.799999999999999" fill="#b32e5d" stroke="#f5b3ca" stroke-width="0.88"/>
<line x1="796.6" y1="82.9" x2="811.4" y2="82.9" stroke="#f3a9c3" stroke-width="0.77"/>
<line x1="796.6" y1="93.5" x2="811.4" y2="93.5" stroke="#f3a9c3" stroke-width="0.77"/>
<text x="804" y="91.1" font-size="8.1" font-weight="bold" fill="#fde9f0" text-anchor="middle" textLength="14.0" lengthAdjust="spacingAndGlyphs">CLP</text>
<polygon points="920.6,121.5 931.1,116.3 931.1,146.7 921.0,152.4 917.0,148.9 917.0,134.5 920.6,130.9" fill="#a6abb4" />
<polygon points="892.0,104.9 902.6,99.6 931.1,116.3 920.6,121.5" fill="#c8ccd2" />
<polygon points="892.0,104.9 920.6,121.5 920.6,131.3 892.0,114.9" fill="#bcc1c8" />
<polygon points="887.2,118.0 892.0,114.9 920.6,130.9 917.0,134.5" fill="#cdd0d6" />
<polygon points="887.2,118.0 917.0,134.5 917.0,148.9 887.2,132.6" fill="#bdc2c9" />
<polygon points="914.2,122.4 920.9,118.9 927.5,122.4 920.6,126.1" fill="#b9bdc4" />
<polygon points="918.0,121.9 920.9,120.4 923.6,121.9 920.9,123.5" fill="#3e4248" />
<polygon points="888.4,120.9 898.2,126.2 898.2,136.1 888.4,130.8" fill="#fbfbfb" stroke="#8d9299" stroke-width="0.6"/>
<polygon points="898.2,126.2 900.1,127.3 900.1,137.2 898.2,136.1" fill="#474b52" />
<polygon points="904.4,136.6 910.0,139.6 910.0,140.6 904.4,137.5" fill="#8fd0c8" />
<circle cx="939.4" cy="138.8" r="13.79" fill="#b32e5d" />
<circle cx="939.4" cy="138.8" r="13.09" fill="none" stroke="#ee88ac" stroke-width="1.05"/>
<circle cx="939.4" cy="138.8" r="9.799999999999999" fill="#b32e5d" stroke="#f5b3ca" stroke-width="0.88"/>
<line x1="932.0" y1="133.5" x2="946.8" y2="133.5" stroke="#f3a9c3" stroke-width="0.77"/>
<line x1="932.0" y1="144.1" x2="946.8" y2="144.1" stroke="#f3a9c3" stroke-width="0.77"/>
<text x="939.4" y="141.7" font-size="8.1" font-weight="bold" fill="#fde9f0" text-anchor="middle" textLength="14.0" lengthAdjust="spacingAndGlyphs">CLP</text>
<text x="824" y="72.7" font-size="14" fill="#58585a" textLength="139" lengthAdjust="spacingAndGlyphs" >Eigenstromerzeugung</text>
<text x="824" y="90.2" font-size="14" fill="#58585a" textLength="37.5" lengthAdjust="spacingAndGlyphs" >BHKW</text>
<text x="959.5" y="114.7" font-size="14" fill="#58585a" textLength="77.5" lengthAdjust="spacingAndGlyphs" >Eigenstrom-</text>
<text x="959.5" y="132.0" font-size="14" fill="#58585a" textLength="68" lengthAdjust="spacingAndGlyphs" >erzeugung</text>
<text x="959.5" y="149.0" font-size="14" fill="#58585a" textLength="65" lengthAdjust="spacingAndGlyphs" >PV-Anlage</text>
<text x="668" y="48.9" font-size="14" fill="#58585a" textLength="69" lengthAdjust="spacingAndGlyphs" >EVU-Zähler</text>
<text x="34.3" y="251.3" font-size="14" fill="#58585a" textLength="124.8" lengthAdjust="spacingAndGlyphs" >Z. B.: Wasserkocher,</text>
<text x="34.3" y="268.55" font-size="14" fill="#58585a" textLength="104" lengthAdjust="spacingAndGlyphs" >Kaffeemaschine,</text>
<text x="34.3" y="285.8" font-size="14" fill="#58585a" textLength="81" lengthAdjust="spacingAndGlyphs" >Staubsauger,</text>
<text x="34.3" y="303.05" font-size="14" fill="#58585a" textLength="46.5" lengthAdjust="spacingAndGlyphs" >Laptop,</text>
<text x="34.3" y="320.3" font-size="14" fill="#58585a" textLength="48" lengthAdjust="spacingAndGlyphs" >Drucker</text>
<rect x="407.5" y="655.5" width="33" height="33" fill="#3f8b86"/>
<rect x="628.4" y="655.5" width="33" height="33" fill="#e8873a"/>
<circle cx="921.7" cy="673.2" r="17.3" fill="#b32e5d" />
<circle cx="921.7" cy="673.2" r="16.421827411167513" fill="none" stroke="#ee88ac" stroke-width="1.32"/>
<circle cx="921.7" cy="673.2" r="12.294416243654823" fill="#b32e5d" stroke="#f5b3ca" stroke-width="1.10"/>
<line x1="912.4" y1="666.5" x2="931.0" y2="666.5" stroke="#f3a9c3" stroke-width="0.97"/>
<line x1="912.4" y1="679.9" x2="931.0" y2="679.9" stroke="#f3a9c3" stroke-width="0.97"/>
<text x="921.7" y="676.8" font-size="10.2" font-weight="bold" fill="#fde9f0" text-anchor="middle" textLength="17.6" lengthAdjust="spacingAndGlyphs">CLP</text>
<text x="452.4" y="676.5" font-size="13" fill="#58585a" textLength="158" lengthAdjust="spacingAndGlyphs" >Relevante Dritt-Verbraucher</text>
<text x="674.4" y="668.2" font-size="13" fill="#58585a" textLength="188" lengthAdjust="spacingAndGlyphs" >Nicht relevante Dritt-Verbraucher</text>
<text x="674.4" y="684.7" font-size="13" fill="#58585a" textLength="215.5" lengthAdjust="spacingAndGlyphs" >(Bagatellgrenze bei &lt; 3.500 kWh/Jahr)</text>
<text x="951.8" y="668.2" font-size="13" fill="#58585a" textLength="187.5" lengthAdjust="spacingAndGlyphs" >Zähler mit national zertifiziertem</text>
<text x="951.8" y="684.7" font-size="13" fill="#58585a" textLength="192" lengthAdjust="spacingAndGlyphs" >Lastgangspeicher gem. PTB-A50.7</text>
</g>
</svg>
</body></html>
